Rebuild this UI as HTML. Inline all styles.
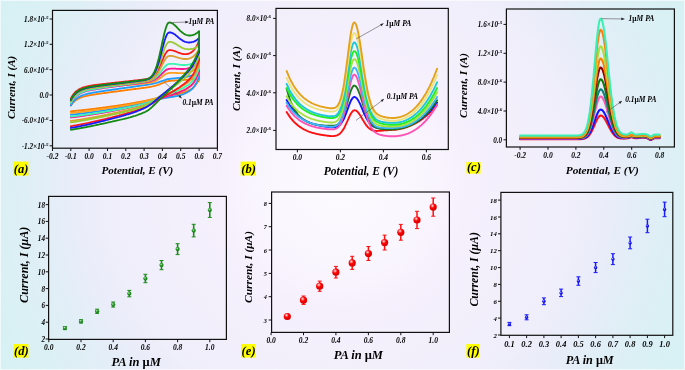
<!DOCTYPE html>
<html><head><meta charset="utf-8"><style>
html,body{margin:0;padding:0;}
body{width:685px;height:370px;overflow:hidden;position:relative;
background:radial-gradient(circle at 50% 50%, #fdfafe 0px, #faf6fe 80px, #f6f0fd 125px, #f3effb 170px, #f1effb 205px, #f0eefb 230px, #ecedfa 255px, #e2eef7 300px, #dbf0f5 340px, #d5f1f4 395px);}
.bd{position:absolute;left:0;top:0;width:683px;height:368px;border:1px solid rgba(255,255,255,0.6);}
</style></head><body><div class="bd"></div>
<svg width="685" height="370" viewBox="0 0 685 370" style="position:absolute;left:0;top:0;will-change:transform;font-family:'Liberation Serif',serif;font-weight:bold;font-style:italic">
<path d="M70.8,105.5 L71.6,104.5 L72.3,103.5 L73,102.7 L73.8,101.9 L74.5,101.3 L75.2,100.7 L75.9,100.1 L76.7,99.6 L77.4,99.2 L78.1,98.8 L78.9,98.4 L79.6,98.1 L80.3,97.7 L81.1,97.5 L81.8,97.2 L82.5,97 L83.3,96.7 L84,96.5 L84.7,96.3 L85.5,96.1 L86.2,96 L86.9,95.8 L87.7,95.6 L88.4,95.5 L89.1,95.4 L89.9,95.2 L90.6,95.1 L91.3,95 L92.1,94.8 L92.8,94.7 L93.5,94.6 L94.3,94.5 L95,94.4 L95.7,94.3 L96.5,94.1 L97.2,94 L97.9,93.9 L98.7,93.8 L99.4,93.7 L100.1,93.6 L100.9,93.5 L101.6,93.4 L102.3,93.3 L103.1,93.2 L103.8,93.1 L104.5,93 L105.3,92.9 L106,92.8 L106.7,92.7 L107.5,92.6 L108.2,92.5 L108.9,92.4 L109.7,92.3 L110.4,92.2 L111.1,92.1 L111.9,92 L112.6,91.9 L113.3,91.8 L114.1,91.7 L114.8,91.6 L115.5,91.5 L116.3,91.5 L117,91.4 L117.7,91.3 L118.5,91.2 L119.2,91.1 L119.9,91 L120.7,90.9 L121.4,90.8 L122.1,90.7 L122.8,90.6 L123.6,90.5 L124.3,90.4 L125,90.3 L125.8,90.2 L126.5,90.1 L127.2,90 L128,89.9 L128.7,89.8 L129.4,89.7 L130.2,89.6 L130.9,89.5 L131.6,89.4 L132.4,89.3 L133.1,89.2 L133.8,89.1 L134.6,89 L135.3,89 L136,88.9 L136.8,88.8 L137.5,88.7 L138.2,88.6 L139,88.5 L139.7,88.4 L140.4,88.3 L141.2,88.2 L141.9,88.1 L142.6,88 L143.4,87.9 L144.1,87.8 L144.8,87.7 L145.6,87.6 L146.3,87.5 L147,87.4 L147.8,87.3 L148.5,87.2 L149.2,87 L150,86.9 L150.7,86.8 L151.4,86.7 L152.2,86.5 L152.9,86.3 L153.6,86.2 L154.4,86 L155.1,85.8 L155.8,85.6 L156.6,85.4 L157.3,85.1 L158,84.9 L158.8,84.6 L159.5,84.3 L160.2,84 L161,83.7 L161.7,83.4 L162.4,83.1 L163.2,82.8 L163.9,82.5 L164.6,82.2 L165.4,81.9 L166.1,81.7 L166.8,81.4 L167.5,81.3 L168.3,81.1 L169,81 L169.7,80.9 L170.5,80.8 L171.2,80.7 L171.9,80.7 L172.7,80.6 L173.4,80.6 L174.1,80.5 L174.9,80.5 L175.6,80.4 L176.3,80.4 L177.1,80.3 L177.8,80.3 L178.5,80.3 L179.3,80.2 L180,80.2 L180.7,80.1 L181.5,80.1 L182.2,80.1 L182.9,80 L183.7,80 L184.4,79.9 L185.1,79.8 L185.9,79.8 L186.6,79.7 L187.3,79.6 L188.1,79.6 L188.8,79.5 L189.5,79.4 L190.3,79.4 L191,79.3 L191.7,79.2 L192.5,79.1 L193.2,79.1 L193.9,79 L194.7,78.9 L195.4,78.9 L196.1,78.8 L196.9,78.7 L197.6,78.7 L198.3,78.6 L199.1,78.6 L199.1,80.1 L198.3,81.2 L197.6,82.3 L196.9,83.3 L196.1,84.3 L195.4,85.2 L194.7,86.1 L193.9,86.9 L193.2,87.7 L192.5,88.3 L191.7,88.8 L191,89.2 L190.3,89.7 L189.5,90.1 L188.8,90.4 L188.1,90.8 L187.3,91.1 L186.6,91.4 L185.9,91.7 L185.1,92 L184.4,92.2 L183.7,92.4 L182.9,92.7 L182.2,92.9 L181.5,93.1 L180.7,93.3 L180,93.5 L179.3,93.7 L178.5,93.8 L177.8,94 L177.1,94.2 L176.3,94.3 L175.6,94.5 L174.9,94.6 L174.1,94.7 L173.4,94.9 L172.7,95 L171.9,95.1 L171.2,95.2 L170.5,95.4 L169.7,95.5 L169,95.6 L168.3,95.7 L167.5,95.9 L166.8,96 L166.1,96.1 L165.4,96.2 L164.6,96.4 L163.9,96.5 L163.2,96.7 L162.4,96.8 L161.7,97 L161,97.1 L160.2,97.3 L159.5,97.4 L158.8,97.6 L158,97.8 L157.3,98 L156.6,98.1 L155.8,98.3 L155.1,98.5 L154.4,98.7 L153.6,98.8 L152.9,99 L152.2,99.2 L151.4,99.4 L150.7,99.6 L150,99.7 L149.2,99.9 L148.5,100.1 L147.8,100.2 L147,100.4 L146.3,100.5 L145.6,100.7 L144.8,100.8 L144.1,101 L143.4,101.1 L142.6,101.3 L141.9,101.4 L141.2,101.5 L140.4,101.7 L139.7,101.8 L139,102 L138.2,102.1 L137.5,102.2 L136.8,102.4 L136,102.5 L135.3,102.6 L134.6,102.8 L133.8,102.9 L133.1,103 L132.4,103.2 L131.6,103.3 L130.9,103.4 L130.2,103.5 L129.4,103.7 L128.7,103.8 L128,103.9 L127.2,104 L126.5,104.2 L125.8,104.3 L125,104.4 L124.3,104.5 L123.6,104.6 L122.8,104.8 L122.1,104.9 L121.4,105 L120.7,105.1 L119.9,105.2 L119.2,105.3 L118.5,105.5 L117.7,105.6 L117,105.7 L116.3,105.8 L115.5,105.9 L114.8,106 L114.1,106.1 L113.3,106.2 L112.6,106.3 L111.9,106.4 L111.1,106.5 L110.4,106.6 L109.7,106.7 L108.9,106.8 L108.2,106.9 L107.5,107 L106.7,107.1 L106,107.2 L105.3,107.3 L104.5,107.4 L103.8,107.5 L103.1,107.6 L102.3,107.7 L101.6,107.8 L100.9,107.9 L100.1,108 L99.4,108.1 L98.7,108.2 L97.9,108.3 L97.2,108.4 L96.5,108.5 L95.7,108.6 L95,108.7 L94.3,108.8 L93.5,108.9 L92.8,108.9 L92.1,109 L91.3,109.1 L90.6,109.2 L89.9,109.3 L89.1,109.4 L88.4,109.5 L87.7,109.6 L86.9,109.6 L86.2,109.7 L85.5,109.8 L84.7,109.9 L84,110 L83.3,110 L82.5,110.1 L81.8,110.2 L81.1,110.3 L80.3,110.4 L79.6,110.4 L78.9,110.5 L78.1,110.6 L77.4,110.7 L76.7,110.7 L75.9,110.8 L75.2,110.9 L74.5,111 L73.8,111 L73,111.1 L72.3,111.2 L71.6,111.2 L70.8,111.3" fill="none" stroke="#ff7f00" stroke-width="1.8" stroke-linejoin="round" stroke-linecap="round"/>
<path d="M70.8,105.5 L71.6,104.2 L72.3,103.1 L73,102.1 L73.8,101.2 L74.5,100.4 L75.2,99.7 L75.9,99 L76.7,98.4 L77.4,97.9 L78.1,97.4 L78.9,97 L79.6,96.6 L80.3,96.2 L81.1,95.9 L81.8,95.6 L82.5,95.3 L83.3,95 L84,94.8 L84.7,94.5 L85.5,94.3 L86.2,94.1 L86.9,93.9 L87.7,93.8 L88.4,93.6 L89.1,93.4 L89.9,93.3 L90.6,93.1 L91.3,93 L92.1,92.8 L92.8,92.7 L93.5,92.6 L94.3,92.5 L95,92.3 L95.7,92.2 L96.5,92.1 L97.2,92 L97.9,91.8 L98.7,91.7 L99.4,91.6 L100.1,91.5 L100.9,91.4 L101.6,91.3 L102.3,91.2 L103.1,91.1 L103.8,91 L104.5,90.8 L105.3,90.7 L106,90.6 L106.7,90.5 L107.5,90.4 L108.2,90.3 L108.9,90.2 L109.7,90.1 L110.4,90 L111.1,89.9 L111.9,89.8 L112.6,89.7 L113.3,89.6 L114.1,89.5 L114.8,89.4 L115.5,89.3 L116.3,89.2 L117,89.1 L117.7,88.9 L118.5,88.8 L119.2,88.7 L119.9,88.6 L120.7,88.5 L121.4,88.4 L122.1,88.3 L122.8,88.2 L123.6,88.1 L124.3,88 L125,87.9 L125.8,87.8 L126.5,87.7 L127.2,87.6 L128,87.5 L128.7,87.4 L129.4,87.3 L130.2,87.2 L130.9,87.1 L131.6,87 L132.4,86.9 L133.1,86.8 L133.8,86.7 L134.6,86.6 L135.3,86.4 L136,86.3 L136.8,86.2 L137.5,86.1 L138.2,86 L139,85.9 L139.7,85.8 L140.4,85.7 L141.2,85.6 L141.9,85.5 L142.6,85.4 L143.4,85.3 L144.1,85.2 L144.8,85.1 L145.6,85 L146.3,84.9 L147,84.8 L147.8,84.6 L148.5,84.5 L149.2,84.4 L150,84.3 L150.7,84.2 L151.4,84 L152.2,83.9 L152.9,83.7 L153.6,83.6 L154.4,83.4 L155.1,83.2 L155.8,83 L156.6,82.8 L157.3,82.6 L158,82.4 L158.8,82.1 L159.5,81.9 L160.2,81.6 L161,81.4 L161.7,81.1 L162.4,80.8 L163.2,80.6 L163.9,80.3 L164.6,80.1 L165.4,79.8 L166.1,79.6 L166.8,79.4 L167.5,79.2 L168.3,79.1 L169,79 L169.7,78.9 L170.5,78.8 L171.2,78.7 L171.9,78.6 L172.7,78.5 L173.4,78.4 L174.1,78.4 L174.9,78.3 L175.6,78.2 L176.3,78.1 L177.1,78.1 L177.8,78 L178.5,77.9 L179.3,77.8 L180,77.8 L180.7,77.7 L181.5,77.6 L182.2,77.5 L182.9,77.4 L183.7,77.3 L184.4,77.2 L185.1,77.1 L185.9,76.9 L186.6,76.8 L187.3,76.6 L188.1,76.5 L188.8,76.3 L189.5,76.1 L190.3,75.9 L191,75.7 L191.7,75.5 L192.5,75.2 L193.2,74.9 L193.9,74.6 L194.7,74.3 L195.4,73.9 L196.1,73.5 L196.9,73 L197.6,72.5 L198.3,71.9 L199.1,71.3 L199.1,77.5 L198.3,79 L197.6,80.4 L196.9,81.9 L196.1,83.2 L195.4,84.5 L194.7,85.7 L193.9,86.8 L193.2,87.7 L192.5,88.6 L191.7,89.3 L191,89.8 L190.3,90.4 L189.5,90.9 L188.8,91.4 L188.1,91.8 L187.3,92.3 L186.6,92.7 L185.9,93 L185.1,93.4 L184.4,93.7 L183.7,94 L182.9,94.3 L182.2,94.5 L181.5,94.8 L180.7,95 L180,95.2 L179.3,95.4 L178.5,95.6 L177.8,95.8 L177.1,95.9 L176.3,96.1 L175.6,96.2 L174.9,96.4 L174.1,96.5 L173.4,96.6 L172.7,96.8 L171.9,96.9 L171.2,97 L170.5,97.1 L169.7,97.2 L169,97.3 L168.3,97.5 L167.5,97.6 L166.8,97.7 L166.1,97.8 L165.4,97.9 L164.6,98.1 L163.9,98.2 L163.2,98.4 L162.4,98.5 L161.7,98.7 L161,98.8 L160.2,99 L159.5,99.1 L158.8,99.3 L158,99.5 L157.3,99.6 L156.6,99.8 L155.8,100 L155.1,100.2 L154.4,100.3 L153.6,100.5 L152.9,100.7 L152.2,100.9 L151.4,101 L150.7,101.2 L150,101.4 L149.2,101.6 L148.5,101.7 L147.8,101.9 L147,102.1 L146.3,102.2 L145.6,102.4 L144.8,102.5 L144.1,102.7 L143.4,102.9 L142.6,103 L141.9,103.2 L141.2,103.3 L140.4,103.5 L139.7,103.6 L139,103.8 L138.2,103.9 L137.5,104.1 L136.8,104.2 L136,104.4 L135.3,104.6 L134.6,104.7 L133.8,104.9 L133.1,105 L132.4,105.2 L131.6,105.3 L130.9,105.5 L130.2,105.6 L129.4,105.8 L128.7,105.9 L128,106.1 L127.2,106.2 L126.5,106.4 L125.8,106.5 L125,106.6 L124.3,106.8 L123.6,106.9 L122.8,107.1 L122.1,107.2 L121.4,107.4 L120.7,107.5 L119.9,107.6 L119.2,107.8 L118.5,107.9 L117.7,108 L117,108.2 L116.3,108.3 L115.5,108.4 L114.8,108.6 L114.1,108.7 L113.3,108.8 L112.6,109 L111.9,109.1 L111.1,109.2 L110.4,109.3 L109.7,109.5 L108.9,109.6 L108.2,109.7 L107.5,109.8 L106.7,109.9 L106,110.1 L105.3,110.2 L104.5,110.3 L103.8,110.4 L103.1,110.5 L102.3,110.6 L101.6,110.7 L100.9,110.9 L100.1,111 L99.4,111.1 L98.7,111.2 L97.9,111.3 L97.2,111.4 L96.5,111.5 L95.7,111.6 L95,111.7 L94.3,111.8 L93.5,111.9 L92.8,112 L92.1,112.1 L91.3,112.2 L90.6,112.4 L89.9,112.5 L89.1,112.6 L88.4,112.7 L87.7,112.8 L86.9,112.9 L86.2,112.9 L85.5,113 L84.7,113.1 L84,113.2 L83.3,113.3 L82.5,113.4 L81.8,113.5 L81.1,113.6 L80.3,113.7 L79.6,113.8 L78.9,113.9 L78.1,114 L77.4,114.1 L76.7,114.1 L75.9,114.2 L75.2,114.3 L74.5,114.4 L73.8,114.5 L73,114.6 L72.3,114.6 L71.6,114.7 L70.8,114.8" fill="none" stroke="#1e9bff" stroke-width="1.8" stroke-linejoin="round" stroke-linecap="round"/>
<path d="M70.8,101.2 L71.6,99.8 L72.3,98.6 L73,97.5 L73.8,96.6 L74.5,95.7 L75.2,95 L75.9,94.3 L76.7,93.7 L77.4,93.1 L78.1,92.7 L78.9,92.2 L79.6,91.8 L80.3,91.5 L81.1,91.1 L81.8,90.9 L82.5,90.6 L83.3,90.3 L84,90.1 L84.7,89.9 L85.5,89.7 L86.2,89.6 L86.9,89.4 L87.7,89.3 L88.4,89.1 L89.1,89 L89.9,88.9 L90.6,88.7 L91.3,88.6 L92.1,88.5 L92.8,88.4 L93.5,88.3 L94.3,88.2 L95,88.1 L95.7,88.1 L96.5,88 L97.2,87.9 L97.9,87.8 L98.7,87.7 L99.4,87.7 L100.1,87.6 L100.9,87.5 L101.6,87.4 L102.3,87.4 L103.1,87.3 L103.8,87.2 L104.5,87.1 L105.3,87.1 L106,87 L106.7,86.9 L107.5,86.9 L108.2,86.8 L108.9,86.7 L109.7,86.6 L110.4,86.6 L111.1,86.5 L111.9,86.4 L112.6,86.4 L113.3,86.3 L114.1,86.2 L114.8,86.2 L115.5,86.1 L116.3,86 L117,86 L117.7,85.9 L118.5,85.8 L119.2,85.8 L119.9,85.7 L120.7,85.6 L121.4,85.6 L122.1,85.5 L122.8,85.4 L123.6,85.4 L124.3,85.3 L125,85.2 L125.8,85.2 L126.5,85.1 L127.2,85 L128,85 L128.7,84.9 L129.4,84.8 L130.2,84.8 L130.9,84.7 L131.6,84.6 L132.4,84.6 L133.1,84.5 L133.8,84.4 L134.6,84.4 L135.3,84.3 L136,84.2 L136.8,84.2 L137.5,84.1 L138.2,84 L139,84 L139.7,83.9 L140.4,83.8 L141.2,83.8 L141.9,83.7 L142.6,83.6 L143.4,83.6 L144.1,83.5 L144.8,83.4 L145.6,83.3 L146.3,83.2 L147,83.1 L147.8,83.1 L148.5,82.9 L149.2,82.8 L150,82.7 L150.7,82.6 L151.4,82.4 L152.2,82.2 L152.9,82 L153.6,81.8 L154.4,81.5 L155.1,81.2 L155.8,80.9 L156.6,80.5 L157.3,80.1 L158,79.6 L158.8,79.1 L159.5,78.6 L160.2,78.1 L161,77.5 L161.7,76.9 L162.4,76.4 L163.2,75.8 L163.9,75.3 L164.6,74.8 L165.4,74.3 L166.1,73.9 L166.8,73.5 L167.5,73.3 L168.3,73.1 L169,73 L169.7,72.9 L170.5,72.9 L171.2,72.8 L171.9,72.8 L172.7,72.8 L173.4,72.8 L174.1,72.9 L174.9,72.9 L175.6,72.9 L176.3,73 L177.1,73 L177.8,73.1 L178.5,73.1 L179.3,73.1 L180,73.2 L180.7,73.2 L181.5,73.2 L182.2,73.2 L182.9,73.2 L183.7,73.1 L184.4,73.1 L185.1,73 L185.9,72.9 L186.6,72.8 L187.3,72.7 L188.1,72.6 L188.8,72.4 L189.5,72.2 L190.3,71.9 L191,71.7 L191.7,71.3 L192.5,71 L193.2,70.6 L193.9,70.1 L194.7,69.6 L195.4,69 L196.1,68.4 L196.9,67.7 L197.6,66.8 L198.3,65.9 L199.1,64.8 L199.1,72.6 L198.3,74.1 L197.6,75.6 L196.9,77.1 L196.1,78.5 L195.4,79.9 L194.7,81.1 L193.9,82.3 L193.2,83.3 L192.5,84.2 L191.7,84.9 L191,85.5 L190.3,86.1 L189.5,86.7 L188.8,87.2 L188.1,87.7 L187.3,88.1 L186.6,88.6 L185.9,89 L185.1,89.3 L184.4,89.7 L183.7,90 L182.9,90.4 L182.2,90.7 L181.5,91 L180.7,91.2 L180,91.5 L179.3,91.8 L178.5,92 L177.8,92.3 L177.1,92.5 L176.3,92.7 L175.6,92.9 L174.9,93.1 L174.1,93.3 L173.4,93.5 L172.7,93.7 L171.9,93.9 L171.2,94.1 L170.5,94.3 L169.7,94.4 L169,94.6 L168.3,94.8 L167.5,95 L166.8,95.2 L166.1,95.3 L165.4,95.5 L164.6,95.7 L163.9,95.9 L163.2,96.1 L162.4,96.3 L161.7,96.5 L161,96.7 L160.2,97 L159.5,97.2 L158.8,97.4 L158,97.6 L157.3,97.9 L156.6,98.1 L155.8,98.3 L155.1,98.6 L154.4,98.8 L153.6,99.1 L152.9,99.3 L152.2,99.5 L151.4,99.7 L150.7,100 L150,100.2 L149.2,100.4 L148.5,100.6 L147.8,100.8 L147,101 L146.3,101.2 L145.6,101.4 L144.8,101.5 L144.1,101.7 L143.4,101.9 L142.6,102 L141.9,102.2 L141.2,102.4 L140.4,102.5 L139.7,102.7 L139,102.8 L138.2,103 L137.5,103.2 L136.8,103.3 L136,103.5 L135.3,103.6 L134.6,103.7 L133.8,103.9 L133.1,104 L132.4,104.2 L131.6,104.3 L130.9,104.5 L130.2,104.6 L129.4,104.7 L128.7,104.9 L128,105 L127.2,105.1 L126.5,105.3 L125.8,105.4 L125,105.5 L124.3,105.7 L123.6,105.8 L122.8,105.9 L122.1,106 L121.4,106.2 L120.7,106.3 L119.9,106.4 L119.2,106.5 L118.5,106.6 L117.7,106.8 L117,106.9 L116.3,107 L115.5,107.1 L114.8,107.2 L114.1,107.3 L113.3,107.5 L112.6,107.6 L111.9,107.7 L111.1,107.8 L110.4,107.9 L109.7,108 L108.9,108.1 L108.2,108.2 L107.5,108.3 L106.7,108.5 L106,108.6 L105.3,108.7 L104.5,108.8 L103.8,108.9 L103.1,109 L102.3,109.1 L101.6,109.2 L100.9,109.3 L100.1,109.4 L99.4,109.5 L98.7,109.6 L97.9,109.7 L97.2,109.8 L96.5,109.9 L95.7,110 L95,110.1 L94.3,110.2 L93.5,110.3 L92.8,110.4 L92.1,110.5 L91.3,110.6 L90.6,110.7 L89.9,110.8 L89.1,110.9 L88.4,111 L87.7,111.1 L86.9,111.2 L86.2,111.3 L85.5,111.4 L84.7,111.5 L84,111.5 L83.3,111.6 L82.5,111.7 L81.8,111.8 L81.1,111.9 L80.3,112 L79.6,112.1 L78.9,112.1 L78.1,112.2 L77.4,112.3 L76.7,112.4 L75.9,112.5 L75.2,112.5 L74.5,112.6 L73.8,112.7 L73,112.8 L72.3,112.9 L71.6,112.9 L70.8,113" fill="none" stroke="#ffa020" stroke-width="1.8" stroke-linejoin="round" stroke-linecap="round"/>
<path d="M70.8,103.5 L71.6,102.1 L72.3,100.9 L73,99.8 L73.8,98.8 L74.5,97.9 L75.2,97.1 L75.9,96.4 L76.7,95.7 L77.4,95.2 L78.1,94.7 L78.9,94.2 L79.6,93.8 L80.3,93.4 L81.1,93 L81.8,92.7 L82.5,92.4 L83.3,92.1 L84,91.9 L84.7,91.6 L85.5,91.4 L86.2,91.2 L86.9,91 L87.7,90.8 L88.4,90.6 L89.1,90.5 L89.9,90.3 L90.6,90.2 L91.3,90 L92.1,89.9 L92.8,89.8 L93.5,89.6 L94.3,89.5 L95,89.4 L95.7,89.3 L96.5,89.1 L97.2,89 L97.9,88.9 L98.7,88.8 L99.4,88.7 L100.1,88.6 L100.9,88.5 L101.6,88.4 L102.3,88.3 L103.1,88.1 L103.8,88 L104.5,87.9 L105.3,87.8 L106,87.7 L106.7,87.6 L107.5,87.5 L108.2,87.4 L108.9,87.3 L109.7,87.2 L110.4,87.1 L111.1,87 L111.9,86.9 L112.6,86.8 L113.3,86.7 L114.1,86.6 L114.8,86.5 L115.5,86.4 L116.3,86.3 L117,86.2 L117.7,86.1 L118.5,86 L119.2,85.9 L119.9,85.8 L120.7,85.7 L121.4,85.6 L122.1,85.5 L122.8,85.4 L123.6,85.3 L124.3,85.2 L125,85.1 L125.8,85 L126.5,84.9 L127.2,84.8 L128,84.7 L128.7,84.6 L129.4,84.5 L130.2,84.4 L130.9,84.3 L131.6,84.2 L132.4,84.1 L133.1,84 L133.8,83.9 L134.6,83.8 L135.3,83.7 L136,83.6 L136.8,83.5 L137.5,83.4 L138.2,83.3 L139,83.2 L139.7,83.1 L140.4,83 L141.2,82.9 L141.9,82.8 L142.6,82.7 L143.4,82.6 L144.1,82.5 L144.8,82.4 L145.6,82.2 L146.3,82.1 L147,82 L147.8,81.9 L148.5,81.7 L149.2,81.6 L150,81.4 L150.7,81.2 L151.4,81 L152.2,80.7 L152.9,80.4 L153.6,80.1 L154.4,79.8 L155.1,79.4 L155.8,78.9 L156.6,78.5 L157.3,77.9 L158,77.4 L158.8,76.7 L159.5,76.1 L160.2,75.4 L161,74.7 L161.7,74 L162.4,73.2 L163.2,72.5 L163.9,71.8 L164.6,71.2 L165.4,70.6 L166.1,70.1 L166.8,69.6 L167.5,69.3 L168.3,69 L169,68.9 L169.7,68.8 L170.5,68.7 L171.2,68.7 L171.9,68.6 L172.7,68.6 L173.4,68.6 L174.1,68.6 L174.9,68.7 L175.6,68.7 L176.3,68.8 L177.1,68.8 L177.8,68.8 L178.5,68.9 L179.3,68.9 L180,69 L180.7,69 L181.5,69 L182.2,69 L182.9,69 L183.7,69 L184.4,68.9 L185.1,68.8 L185.9,68.8 L186.6,68.7 L187.3,68.5 L188.1,68.4 L188.8,68.2 L189.5,68 L190.3,67.8 L191,67.5 L191.7,67.2 L192.5,66.9 L193.2,66.6 L193.9,66.2 L194.7,65.7 L195.4,65.2 L196.1,64.6 L196.9,64 L197.6,63.3 L198.3,62.5 L199.1,61.6 L199.1,72.2 L198.3,73.8 L197.6,75.3 L196.9,76.9 L196.1,78.3 L195.4,79.7 L194.7,81 L193.9,82.2 L193.2,83.2 L192.5,84.1 L191.7,84.9 L191,85.6 L190.3,86.2 L189.5,86.8 L188.8,87.3 L188.1,87.8 L187.3,88.3 L186.6,88.8 L185.9,89.2 L185.1,89.6 L184.4,90 L183.7,90.3 L182.9,90.7 L182.2,91 L181.5,91.3 L180.7,91.7 L180,92 L179.3,92.3 L178.5,92.6 L177.8,92.9 L177.1,93.1 L176.3,93.4 L175.6,93.7 L174.9,93.9 L174.1,94.2 L173.4,94.4 L172.7,94.6 L171.9,94.9 L171.2,95.1 L170.5,95.3 L169.7,95.5 L169,95.7 L168.3,96 L167.5,96.2 L166.8,96.4 L166.1,96.6 L165.4,96.8 L164.6,97.1 L163.9,97.3 L163.2,97.5 L162.4,97.8 L161.7,98 L161,98.3 L160.2,98.6 L159.5,98.8 L158.8,99.1 L158,99.4 L157.3,99.6 L156.6,99.9 L155.8,100.2 L155.1,100.4 L154.4,100.7 L153.6,101 L152.9,101.2 L152.2,101.5 L151.4,101.8 L150.7,102 L150,102.3 L149.2,102.5 L148.5,102.8 L147.8,103 L147,103.2 L146.3,103.4 L145.6,103.6 L144.8,103.9 L144.1,104 L143.4,104.2 L142.6,104.4 L141.9,104.6 L141.2,104.8 L140.4,105 L139.7,105.2 L139,105.4 L138.2,105.6 L137.5,105.8 L136.8,105.9 L136,106.1 L135.3,106.3 L134.6,106.5 L133.8,106.6 L133.1,106.8 L132.4,107 L131.6,107.1 L130.9,107.3 L130.2,107.5 L129.4,107.6 L128.7,107.8 L128,108 L127.2,108.1 L126.5,108.3 L125.8,108.4 L125,108.6 L124.3,108.7 L123.6,108.9 L122.8,109 L122.1,109.2 L121.4,109.3 L120.7,109.5 L119.9,109.6 L119.2,109.8 L118.5,109.9 L117.7,110.1 L117,110.2 L116.3,110.3 L115.5,110.5 L114.8,110.6 L114.1,110.7 L113.3,110.9 L112.6,111 L111.9,111.2 L111.1,111.3 L110.4,111.4 L109.7,111.6 L108.9,111.7 L108.2,111.8 L107.5,112 L106.7,112.1 L106,112.2 L105.3,112.3 L104.5,112.5 L103.8,112.6 L103.1,112.7 L102.3,112.9 L101.6,113 L100.9,113.1 L100.1,113.2 L99.4,113.3 L98.7,113.5 L97.9,113.6 L97.2,113.7 L96.5,113.8 L95.7,114 L95,114.1 L94.3,114.2 L93.5,114.3 L92.8,114.4 L92.1,114.5 L91.3,114.7 L90.6,114.8 L89.9,114.9 L89.1,115 L88.4,115.1 L87.7,115.2 L86.9,115.3 L86.2,115.4 L85.5,115.5 L84.7,115.7 L84,115.8 L83.3,115.9 L82.5,116 L81.8,116.1 L81.1,116.2 L80.3,116.3 L79.6,116.4 L78.9,116.5 L78.1,116.6 L77.4,116.7 L76.7,116.8 L75.9,116.9 L75.2,117 L74.5,117.1 L73.8,117.1 L73,117.2 L72.3,117.3 L71.6,117.4 L70.8,117.5" fill="none" stroke="#ff1493" stroke-width="1.8" stroke-linejoin="round" stroke-linecap="round"/>
<path d="M70.8,103.1 L71.6,101.7 L72.3,100.4 L73,99.3 L73.8,98.3 L74.5,97.4 L75.2,96.6 L75.9,95.9 L76.7,95.3 L77.4,94.7 L78.1,94.2 L78.9,93.7 L79.6,93.3 L80.3,92.9 L81.1,92.5 L81.8,92.2 L82.5,91.9 L83.3,91.6 L84,91.4 L84.7,91.1 L85.5,90.9 L86.2,90.7 L86.9,90.5 L87.7,90.3 L88.4,90.2 L89.1,90 L89.9,89.8 L90.6,89.7 L91.3,89.5 L92.1,89.4 L92.8,89.2 L93.5,89.1 L94.3,89 L95,88.9 L95.7,88.7 L96.5,88.6 L97.2,88.5 L97.9,88.4 L98.7,88.3 L99.4,88.1 L100.1,88 L100.9,87.9 L101.6,87.8 L102.3,87.7 L103.1,87.6 L103.8,87.5 L104.5,87.4 L105.3,87.3 L106,87.2 L106.7,87.1 L107.5,87 L108.2,86.8 L108.9,86.7 L109.7,86.6 L110.4,86.5 L111.1,86.4 L111.9,86.3 L112.6,86.2 L113.3,86.1 L114.1,86 L114.8,85.9 L115.5,85.8 L116.3,85.7 L117,85.6 L117.7,85.5 L118.5,85.4 L119.2,85.3 L119.9,85.2 L120.7,85.1 L121.4,85 L122.1,84.9 L122.8,84.8 L123.6,84.7 L124.3,84.6 L125,84.5 L125.8,84.4 L126.5,84.3 L127.2,84.2 L128,84.1 L128.7,84 L129.4,83.9 L130.2,83.8 L130.9,83.6 L131.6,83.5 L132.4,83.4 L133.1,83.3 L133.8,83.2 L134.6,83.1 L135.3,83 L136,82.9 L136.8,82.8 L137.5,82.7 L138.2,82.6 L139,82.5 L139.7,82.4 L140.4,82.3 L141.2,82.2 L141.9,82.1 L142.6,82 L143.4,81.9 L144.1,81.8 L144.8,81.6 L145.6,81.5 L146.3,81.4 L147,81.2 L147.8,81.1 L148.5,80.9 L149.2,80.7 L150,80.5 L150.7,80.3 L151.4,80 L152.2,79.7 L152.9,79.4 L153.6,79 L154.4,78.5 L155.1,78 L155.8,77.4 L156.6,76.8 L157.3,76.1 L158,75.3 L158.8,74.5 L159.5,73.6 L160.2,72.7 L161,71.7 L161.7,70.7 L162.4,69.8 L163.2,68.8 L163.9,67.9 L164.6,67 L165.4,66.2 L166.1,65.5 L166.8,64.9 L167.5,64.5 L168.3,64.2 L169,64 L169.7,63.9 L170.5,63.8 L171.2,63.8 L171.9,63.8 L172.7,63.8 L173.4,63.9 L174.1,63.9 L174.9,64 L175.6,64.1 L176.3,64.2 L177.1,64.3 L177.8,64.4 L178.5,64.6 L179.3,64.7 L180,64.8 L180.7,64.8 L181.5,64.9 L182.2,65 L182.9,65 L183.7,65 L184.4,65 L185.1,65 L185.9,64.9 L186.6,64.9 L187.3,64.8 L188.1,64.7 L188.8,64.5 L189.5,64.3 L190.3,64.1 L191,63.9 L191.7,63.7 L192.5,63.4 L193.2,63 L193.9,62.7 L194.7,62.2 L195.4,61.8 L196.1,61.2 L196.9,60.7 L197.6,60 L198.3,59.2 L199.1,58.4 L199.1,68.7 L198.3,70.3 L197.6,71.9 L196.9,73.5 L196.1,75 L195.4,76.4 L194.7,77.8 L193.9,79 L193.2,80.1 L192.5,81.1 L191.7,81.9 L191,82.6 L190.3,83.2 L189.5,83.9 L188.8,84.4 L188.1,85 L187.3,85.5 L186.6,85.9 L185.9,86.4 L185.1,86.8 L184.4,87.2 L183.7,87.6 L182.9,88 L182.2,88.4 L181.5,88.7 L180.7,89.1 L180,89.5 L179.3,89.8 L178.5,90.2 L177.8,90.5 L177.1,90.8 L176.3,91.2 L175.6,91.5 L174.9,91.8 L174.1,92.1 L173.4,92.4 L172.7,92.6 L171.9,92.9 L171.2,93.2 L170.5,93.5 L169.7,93.7 L169,94 L168.3,94.3 L167.5,94.6 L166.8,94.8 L166.1,95.1 L165.4,95.4 L164.6,95.7 L163.9,95.9 L163.2,96.2 L162.4,96.5 L161.7,96.8 L161,97.1 L160.2,97.4 L159.5,97.7 L158.8,98.1 L158,98.4 L157.3,98.7 L156.6,99 L155.8,99.4 L155.1,99.7 L154.4,100 L153.6,100.3 L152.9,100.6 L152.2,100.9 L151.4,101.2 L150.7,101.5 L150,101.8 L149.2,102.1 L148.5,102.4 L147.8,102.6 L147,102.9 L146.3,103.1 L145.6,103.3 L144.8,103.6 L144.1,103.8 L143.4,104 L142.6,104.2 L141.9,104.4 L141.2,104.6 L140.4,104.7 L139.7,104.9 L139,105.1 L138.2,105.3 L137.5,105.5 L136.8,105.7 L136,105.8 L135.3,106 L134.6,106.2 L133.8,106.3 L133.1,106.5 L132.4,106.7 L131.6,106.8 L130.9,107 L130.2,107.1 L129.4,107.3 L128.7,107.4 L128,107.6 L127.2,107.7 L126.5,107.9 L125.8,108 L125,108.2 L124.3,108.3 L123.6,108.4 L122.8,108.6 L122.1,108.7 L121.4,108.9 L120.7,109 L119.9,109.1 L119.2,109.3 L118.5,109.4 L117.7,109.5 L117,109.7 L116.3,109.8 L115.5,109.9 L114.8,110 L114.1,110.2 L113.3,110.3 L112.6,110.4 L111.9,110.5 L111.1,110.7 L110.4,110.8 L109.7,110.9 L108.9,111 L108.2,111.2 L107.5,111.3 L106.7,111.4 L106,111.5 L105.3,111.7 L104.5,111.8 L103.8,111.9 L103.1,112 L102.3,112.2 L101.6,112.3 L100.9,112.4 L100.1,112.5 L99.4,112.6 L98.7,112.7 L97.9,112.9 L97.2,113 L96.5,113.1 L95.7,113.2 L95,113.3 L94.3,113.4 L93.5,113.6 L92.8,113.7 L92.1,113.8 L91.3,113.9 L90.6,114 L89.9,114.1 L89.1,114.2 L88.4,114.3 L87.7,114.4 L86.9,114.5 L86.2,114.6 L85.5,114.7 L84.7,114.8 L84,114.9 L83.3,115 L82.5,115.1 L81.8,115.2 L81.1,115.3 L80.3,115.4 L79.6,115.5 L78.9,115.6 L78.1,115.7 L77.4,115.8 L76.7,115.9 L75.9,116 L75.2,116.1 L74.5,116.2 L73.8,116.3 L73,116.3 L72.3,116.4 L71.6,116.5 L70.8,116.6" fill="none" stroke="#3cf5b0" stroke-width="1.8" stroke-linejoin="round" stroke-linecap="round"/>
<path d="M70.8,101.4 L71.6,100.1 L72.3,98.8 L73,97.7 L73.8,96.7 L74.5,95.9 L75.2,95.1 L75.9,94.4 L76.7,93.8 L77.4,93.2 L78.1,92.7 L78.9,92.2 L79.6,91.8 L80.3,91.4 L81.1,91.1 L81.8,90.8 L82.5,90.5 L83.3,90.2 L84,90 L84.7,89.8 L85.5,89.5 L86.2,89.4 L86.9,89.2 L87.7,89 L88.4,88.8 L89.1,88.7 L89.9,88.5 L90.6,88.4 L91.3,88.3 L92.1,88.1 L92.8,88 L93.5,87.9 L94.3,87.8 L95,87.7 L95.7,87.6 L96.5,87.4 L97.2,87.3 L97.9,87.2 L98.7,87.1 L99.4,87 L100.1,86.9 L100.9,86.8 L101.6,86.7 L102.3,86.6 L103.1,86.5 L103.8,86.5 L104.5,86.4 L105.3,86.3 L106,86.2 L106.7,86.1 L107.5,86 L108.2,85.9 L108.9,85.8 L109.7,85.7 L110.4,85.6 L111.1,85.5 L111.9,85.4 L112.6,85.4 L113.3,85.3 L114.1,85.2 L114.8,85.1 L115.5,85 L116.3,84.9 L117,84.8 L117.7,84.7 L118.5,84.6 L119.2,84.5 L119.9,84.5 L120.7,84.4 L121.4,84.3 L122.1,84.2 L122.8,84.1 L123.6,84 L124.3,83.9 L125,83.8 L125.8,83.7 L126.5,83.6 L127.2,83.6 L128,83.5 L128.7,83.4 L129.4,83.3 L130.2,83.2 L130.9,83.1 L131.6,83 L132.4,82.9 L133.1,82.8 L133.8,82.8 L134.6,82.7 L135.3,82.6 L136,82.5 L136.8,82.4 L137.5,82.3 L138.2,82.2 L139,82.1 L139.7,82 L140.4,81.9 L141.2,81.8 L141.9,81.7 L142.6,81.6 L143.4,81.5 L144.1,81.4 L144.8,81.3 L145.6,81.2 L146.3,81.1 L147,80.9 L147.8,80.7 L148.5,80.6 L149.2,80.3 L150,80.1 L150.7,79.8 L151.4,79.4 L152.2,79 L152.9,78.5 L153.6,78 L154.4,77.3 L155.1,76.6 L155.8,75.8 L156.6,74.8 L157.3,73.8 L158,72.7 L158.8,71.4 L159.5,70.1 L160.2,68.8 L161,67.3 L161.7,65.9 L162.4,64.4 L163.2,63 L163.9,61.6 L164.6,60.3 L165.4,59.1 L166.1,58.1 L166.8,57.2 L167.5,56.6 L168.3,56.2 L169,56 L169.7,55.9 L170.5,55.9 L171.2,55.9 L171.9,56 L172.7,56.1 L173.4,56.2 L174.1,56.4 L174.9,56.6 L175.6,56.8 L176.3,57 L177.1,57.3 L177.8,57.5 L178.5,57.8 L179.3,58 L180,58.2 L180.7,58.4 L181.5,58.6 L182.2,58.7 L182.9,58.9 L183.7,59 L184.4,59 L185.1,59 L185.9,59 L186.6,59 L187.3,58.9 L188.1,58.8 L188.8,58.6 L189.5,58.4 L190.3,58.1 L191,57.8 L191.7,57.4 L192.5,57 L193.2,56.5 L193.9,55.9 L194.7,55.2 L195.4,54.5 L196.1,53.7 L196.9,52.7 L197.6,51.6 L198.3,50.4 L199.1,49 L199.1,64.9 L198.3,66.6 L197.6,68.3 L196.9,69.9 L196.1,71.5 L195.4,73 L194.7,74.3 L193.9,75.6 L193.2,76.8 L192.5,77.8 L191.7,78.7 L191,79.5 L190.3,80.2 L189.5,80.9 L188.8,81.5 L188.1,82.1 L187.3,82.7 L186.6,83.2 L185.9,83.7 L185.1,84.2 L184.4,84.7 L183.7,85.1 L182.9,85.6 L182.2,86 L181.5,86.5 L180.7,86.9 L180,87.4 L179.3,87.8 L178.5,88.3 L177.8,88.7 L177.1,89.1 L176.3,89.5 L175.6,89.9 L174.9,90.3 L174.1,90.7 L173.4,91 L172.7,91.4 L171.9,91.8 L171.2,92.1 L170.5,92.5 L169.7,92.9 L169,93.2 L168.3,93.6 L167.5,93.9 L166.8,94.3 L166.1,94.6 L165.4,95 L164.6,95.3 L163.9,95.7 L163.2,96.1 L162.4,96.4 L161.7,96.8 L161,97.2 L160.2,97.6 L159.5,98 L158.8,98.4 L158,98.7 L157.3,99.1 L156.6,99.5 L155.8,99.9 L155.1,100.3 L154.4,100.7 L153.6,101.1 L152.9,101.5 L152.2,101.9 L151.4,102.2 L150.7,102.6 L150,102.9 L149.2,103.3 L148.5,103.6 L147.8,103.9 L147,104.2 L146.3,104.5 L145.6,104.8 L144.8,105.1 L144.1,105.3 L143.4,105.6 L142.6,105.8 L141.9,106 L141.2,106.3 L140.4,106.5 L139.7,106.7 L139,107 L138.2,107.2 L137.5,107.4 L136.8,107.6 L136,107.8 L135.3,108.1 L134.6,108.3 L133.8,108.5 L133.1,108.7 L132.4,108.9 L131.6,109.1 L130.9,109.2 L130.2,109.4 L129.4,109.6 L128.7,109.8 L128,110 L127.2,110.2 L126.5,110.4 L125.8,110.5 L125,110.7 L124.3,110.9 L123.6,111 L122.8,111.2 L122.1,111.4 L121.4,111.5 L120.7,111.7 L119.9,111.9 L119.2,112 L118.5,112.2 L117.7,112.4 L117,112.5 L116.3,112.7 L115.5,112.8 L114.8,113 L114.1,113.1 L113.3,113.3 L112.6,113.5 L111.9,113.6 L111.1,113.8 L110.4,113.9 L109.7,114.1 L108.9,114.2 L108.2,114.4 L107.5,114.5 L106.7,114.7 L106,114.8 L105.3,115 L104.5,115.1 L103.8,115.3 L103.1,115.4 L102.3,115.6 L101.6,115.7 L100.9,115.9 L100.1,116 L99.4,116.2 L98.7,116.3 L97.9,116.4 L97.2,116.6 L96.5,116.7 L95.7,116.9 L95,117 L94.3,117.1 L93.5,117.3 L92.8,117.4 L92.1,117.5 L91.3,117.7 L90.6,117.8 L89.9,117.9 L89.1,118.1 L88.4,118.2 L87.7,118.3 L86.9,118.5 L86.2,118.6 L85.5,118.7 L84.7,118.8 L84,119 L83.3,119.1 L82.5,119.2 L81.8,119.3 L81.1,119.5 L80.3,119.6 L79.6,119.7 L78.9,119.8 L78.1,119.9 L77.4,120 L76.7,120.1 L75.9,120.3 L75.2,120.4 L74.5,120.5 L73.8,120.6 L73,120.7 L72.3,120.8 L71.6,120.9 L70.8,121" fill="none" stroke="#daa030" stroke-width="1.8" stroke-linejoin="round" stroke-linecap="round"/>
<path d="M70.8,98.5 L71.6,97.1 L72.3,95.9 L73,94.8 L73.8,93.9 L74.5,93 L75.2,92.2 L75.9,91.5 L76.7,90.9 L77.4,90.4 L78.1,89.9 L78.9,89.4 L79.6,89 L80.3,88.6 L81.1,88.3 L81.8,88 L82.5,87.7 L83.3,87.5 L84,87.2 L84.7,87 L85.5,86.8 L86.2,86.6 L86.9,86.4 L87.7,86.3 L88.4,86.1 L89.1,86 L89.9,85.8 L90.6,85.7 L91.3,85.6 L92.1,85.5 L92.8,85.4 L93.5,85.2 L94.3,85.1 L95,85 L95.7,84.9 L96.5,84.8 L97.2,84.7 L97.9,84.6 L98.7,84.6 L99.4,84.5 L100.1,84.4 L100.9,84.3 L101.6,84.2 L102.3,84.1 L103.1,84 L103.8,83.9 L104.5,83.9 L105.3,83.8 L106,83.7 L106.7,83.6 L107.5,83.5 L108.2,83.4 L108.9,83.4 L109.7,83.3 L110.4,83.2 L111.1,83.1 L111.9,83 L112.6,82.9 L113.3,82.9 L114.1,82.8 L114.8,82.7 L115.5,82.6 L116.3,82.5 L117,82.5 L117.7,82.4 L118.5,82.3 L119.2,82.2 L119.9,82.1 L120.7,82.1 L121.4,82 L122.1,81.9 L122.8,81.8 L123.6,81.7 L124.3,81.7 L125,81.6 L125.8,81.5 L126.5,81.4 L127.2,81.3 L128,81.3 L128.7,81.2 L129.4,81.1 L130.2,81 L130.9,80.9 L131.6,80.9 L132.4,80.8 L133.1,80.7 L133.8,80.6 L134.6,80.5 L135.3,80.5 L136,80.4 L136.8,80.3 L137.5,80.2 L138.2,80.1 L139,80.1 L139.7,80 L140.4,79.9 L141.2,79.8 L141.9,79.7 L142.6,79.6 L143.4,79.5 L144.1,79.4 L144.8,79.3 L145.6,79.2 L146.3,79.1 L147,78.9 L147.8,78.7 L148.5,78.5 L149.2,78.3 L150,78 L150.7,77.7 L151.4,77.3 L152.2,76.8 L152.9,76.3 L153.6,75.7 L154.4,74.9 L155.1,74.1 L155.8,73.1 L156.6,72.1 L157.3,70.9 L158,69.6 L158.8,68.1 L159.5,66.6 L160.2,65 L161,63.4 L161.7,61.7 L162.4,60 L163.2,58.3 L163.9,56.7 L164.6,55.2 L165.4,53.8 L166.1,52.7 L166.8,51.7 L167.5,50.9 L168.3,50.5 L169,50.2 L169.7,50.2 L170.5,50.2 L171.2,50.2 L171.9,50.3 L172.7,50.5 L173.4,50.7 L174.1,50.9 L174.9,51.2 L175.6,51.4 L176.3,51.7 L177.1,52 L177.8,52.4 L178.5,52.7 L179.3,52.9 L180,53.2 L180.7,53.5 L181.5,53.7 L182.2,53.9 L182.9,54 L183.7,54.1 L184.4,54.2 L185.1,54.2 L185.9,54.2 L186.6,54.1 L187.3,54 L188.1,53.9 L188.8,53.6 L189.5,53.3 L190.3,53 L191,52.5 L191.7,52 L192.5,51.5 L193.2,50.8 L193.9,50 L194.7,49.1 L195.4,48.1 L196.1,47 L196.9,45.6 L197.6,44.1 L198.3,42.4 L199.1,40.5 L199.1,60.5 L198.3,62.4 L197.6,64.4 L196.9,66.2 L196.1,68 L195.4,69.7 L194.7,71.3 L193.9,72.8 L193.2,74.2 L192.5,75.4 L191.7,76.4 L191,77.3 L190.3,78.2 L189.5,79 L188.8,79.8 L188.1,80.5 L187.3,81.2 L186.6,81.8 L185.9,82.5 L185.1,83.1 L184.4,83.6 L183.7,84.2 L182.9,84.7 L182.2,85.3 L181.5,85.8 L180.7,86.3 L180,86.9 L179.3,87.4 L178.5,87.9 L177.8,88.4 L177.1,88.8 L176.3,89.3 L175.6,89.8 L174.9,90.2 L174.1,90.7 L173.4,91.1 L172.7,91.5 L171.9,92 L171.2,92.4 L170.5,92.8 L169.7,93.2 L169,93.6 L168.3,94 L167.5,94.4 L166.8,94.8 L166.1,95.2 L165.4,95.6 L164.6,96.1 L163.9,96.5 L163.2,96.9 L162.4,97.3 L161.7,97.7 L161,98.2 L160.2,98.6 L159.5,99 L158.8,99.5 L158,99.9 L157.3,100.4 L156.6,100.8 L155.8,101.3 L155.1,101.7 L154.4,102.1 L153.6,102.6 L152.9,103 L152.2,103.4 L151.4,103.8 L150.7,104.2 L150,104.6 L149.2,105 L148.5,105.4 L147.8,105.8 L147,106.1 L146.3,106.5 L145.6,106.8 L144.8,107.1 L144.1,107.4 L143.4,107.7 L142.6,107.9 L141.9,108.2 L141.2,108.5 L140.4,108.8 L139.7,109.1 L139,109.3 L138.2,109.6 L137.5,109.9 L136.8,110.1 L136,110.4 L135.3,110.6 L134.6,110.9 L133.8,111.1 L133.1,111.3 L132.4,111.6 L131.6,111.8 L130.9,112 L130.2,112.3 L129.4,112.5 L128.7,112.7 L128,112.9 L127.2,113.2 L126.5,113.4 L125.8,113.6 L125,113.8 L124.3,114 L123.6,114.2 L122.8,114.4 L122.1,114.6 L121.4,114.8 L120.7,115 L119.9,115.2 L119.2,115.4 L118.5,115.6 L117.7,115.8 L117,116 L116.3,116.2 L115.5,116.4 L114.8,116.6 L114.1,116.8 L113.3,116.9 L112.6,117.1 L111.9,117.3 L111.1,117.5 L110.4,117.7 L109.7,117.9 L108.9,118.1 L108.2,118.2 L107.5,118.4 L106.7,118.6 L106,118.8 L105.3,119 L104.5,119.2 L103.8,119.3 L103.1,119.5 L102.3,119.7 L101.6,119.9 L100.9,120 L100.1,120.2 L99.4,120.4 L98.7,120.6 L97.9,120.7 L97.2,120.9 L96.5,121.1 L95.7,121.2 L95,121.4 L94.3,121.6 L93.5,121.7 L92.8,121.9 L92.1,122.1 L91.3,122.2 L90.6,122.4 L89.9,122.5 L89.1,122.7 L88.4,122.8 L87.7,123 L86.9,123.2 L86.2,123.3 L85.5,123.5 L84.7,123.6 L84,123.8 L83.3,123.9 L82.5,124.1 L81.8,124.2 L81.1,124.3 L80.3,124.5 L79.6,124.6 L78.9,124.8 L78.1,124.9 L77.4,125 L76.7,125.2 L75.9,125.3 L75.2,125.4 L74.5,125.6 L73.8,125.7 L73,125.8 L72.3,126 L71.6,126.1 L70.8,126.2" fill="none" stroke="#ff1a1a" stroke-width="1.8" stroke-linejoin="round" stroke-linecap="round"/>
<path d="M70.8,100.8 L71.6,99.4 L72.3,98.2 L73,97.1 L73.8,96.1 L74.5,95.3 L75.2,94.5 L75.9,93.8 L76.7,93.1 L77.4,92.6 L78.1,92.1 L78.9,91.6 L79.6,91.2 L80.3,90.8 L81.1,90.4 L81.8,90.1 L82.5,89.8 L83.3,89.6 L84,89.3 L84.7,89.1 L85.5,88.9 L86.2,88.7 L86.9,88.5 L87.7,88.3 L88.4,88.1 L89.1,88 L89.9,87.8 L90.6,87.7 L91.3,87.6 L92.1,87.4 L92.8,87.3 L93.5,87.2 L94.3,87 L95,86.9 L95.7,86.8 L96.5,86.7 L97.2,86.6 L97.9,86.5 L98.7,86.4 L99.4,86.3 L100.1,86.2 L100.9,86.1 L101.6,86 L102.3,85.9 L103.1,85.8 L103.8,85.7 L104.5,85.6 L105.3,85.5 L106,85.4 L106.7,85.3 L107.5,85.2 L108.2,85.1 L108.9,85 L109.7,84.9 L110.4,84.8 L111.1,84.7 L111.9,84.6 L112.6,84.5 L113.3,84.4 L114.1,84.3 L114.8,84.2 L115.5,84.1 L116.3,84.1 L117,84 L117.7,83.9 L118.5,83.8 L119.2,83.7 L119.9,83.6 L120.7,83.5 L121.4,83.4 L122.1,83.3 L122.8,83.2 L123.6,83.1 L124.3,83 L125,82.9 L125.8,82.8 L126.5,82.7 L127.2,82.6 L128,82.6 L128.7,82.5 L129.4,82.4 L130.2,82.3 L130.9,82.2 L131.6,82.1 L132.4,82 L133.1,81.9 L133.8,81.8 L134.6,81.7 L135.3,81.6 L136,81.5 L136.8,81.4 L137.5,81.3 L138.2,81.2 L139,81.1 L139.7,81 L140.4,81 L141.2,80.9 L141.9,80.7 L142.6,80.6 L143.4,80.5 L144.1,80.4 L144.8,80.3 L145.6,80.1 L146.3,80 L147,79.8 L147.8,79.5 L148.5,79.3 L149.2,79 L150,78.6 L150.7,78.2 L151.4,77.7 L152.2,77.1 L152.9,76.4 L153.6,75.6 L154.4,74.6 L155.1,73.5 L155.8,72.2 L156.6,70.8 L157.3,69.2 L158,67.5 L158.8,65.6 L159.5,63.6 L160.2,61.5 L161,59.3 L161.7,57 L162.4,54.8 L163.2,52.6 L163.9,50.5 L164.6,48.5 L165.4,46.7 L166.1,45.1 L166.8,43.9 L167.5,42.9 L168.3,42.3 L169,42 L169.7,41.9 L170.5,41.9 L171.2,42 L171.9,42.2 L172.7,42.4 L173.4,42.7 L174.1,43.1 L174.9,43.4 L175.6,43.9 L176.3,44.3 L177.1,44.8 L177.8,45.2 L178.5,45.7 L179.3,46.1 L180,46.6 L180.7,47 L181.5,47.4 L182.2,47.8 L182.9,48.1 L183.7,48.4 L184.4,48.6 L185.1,48.8 L185.9,49 L186.6,49.1 L187.3,49.2 L188.1,49.2 L188.8,49.3 L189.5,49.2 L190.3,49.2 L191,49.1 L191.7,48.9 L192.5,48.8 L193.2,48.6 L193.9,48.3 L194.7,48.1 L195.4,47.7 L196.1,47.4 L196.9,47 L197.6,46.5 L198.3,46 L199.1,45.4 L199.1,56.5 L198.3,58.2 L197.6,59.9 L196.9,61.5 L196.1,63.1 L195.4,64.6 L194.7,66.1 L193.9,67.4 L193.2,68.7 L192.5,69.8 L191.7,70.8 L191,71.8 L190.3,72.7 L189.5,73.5 L188.8,74.3 L188.1,75 L187.3,75.7 L186.6,76.4 L185.9,77.1 L185.1,77.7 L184.4,78.3 L183.7,78.9 L182.9,79.5 L182.2,80.1 L181.5,80.7 L180.7,81.3 L180,81.9 L179.3,82.5 L178.5,83.1 L177.8,83.7 L177.1,84.2 L176.3,84.8 L175.6,85.3 L174.9,85.9 L174.1,86.4 L173.4,86.9 L172.7,87.4 L171.9,88 L171.2,88.5 L170.5,89 L169.7,89.5 L169,90 L168.3,90.5 L167.5,91 L166.8,91.5 L166.1,92 L165.4,92.5 L164.6,93 L163.9,93.5 L163.2,94 L162.4,94.5 L161.7,95 L161,95.5 L160.2,96 L159.5,96.5 L158.8,97.1 L158,97.6 L157.3,98.1 L156.6,98.7 L155.8,99.2 L155.1,99.8 L154.4,100.3 L153.6,100.8 L152.9,101.3 L152.2,101.8 L151.4,102.3 L150.7,102.8 L150,103.3 L149.2,103.7 L148.5,104.1 L147.8,104.5 L147,104.9 L146.3,105.2 L145.6,105.6 L144.8,105.9 L144.1,106.2 L143.4,106.4 L142.6,106.7 L141.9,107 L141.2,107.2 L140.4,107.5 L139.7,107.7 L139,108 L138.2,108.2 L137.5,108.5 L136.8,108.7 L136,108.9 L135.3,109.1 L134.6,109.4 L133.8,109.6 L133.1,109.8 L132.4,110 L131.6,110.2 L130.9,110.4 L130.2,110.6 L129.4,110.8 L128.7,111 L128,111.2 L127.2,111.3 L126.5,111.5 L125.8,111.7 L125,111.9 L124.3,112 L123.6,112.2 L122.8,112.4 L122.1,112.5 L121.4,112.7 L120.7,112.9 L119.9,113 L119.2,113.2 L118.5,113.3 L117.7,113.5 L117,113.7 L116.3,113.8 L115.5,114 L114.8,114.1 L114.1,114.3 L113.3,114.4 L112.6,114.6 L111.9,114.7 L111.1,114.9 L110.4,115.1 L109.7,115.2 L108.9,115.4 L108.2,115.5 L107.5,115.7 L106.7,115.8 L106,116 L105.3,116.1 L104.5,116.3 L103.8,116.5 L103.1,116.6 L102.3,116.8 L101.6,116.9 L100.9,117.1 L100.1,117.2 L99.4,117.4 L98.7,117.5 L97.9,117.7 L97.2,117.8 L96.5,118 L95.7,118.1 L95,118.2 L94.3,118.4 L93.5,118.5 L92.8,118.7 L92.1,118.8 L91.3,119 L90.6,119.1 L89.9,119.2 L89.1,119.4 L88.4,119.5 L87.7,119.6 L86.9,119.8 L86.2,119.9 L85.5,120 L84.7,120.2 L84,120.3 L83.3,120.4 L82.5,120.5 L81.8,120.7 L81.1,120.8 L80.3,120.9 L79.6,121 L78.9,121.2 L78.1,121.3 L77.4,121.4 L76.7,121.5 L75.9,121.6 L75.2,121.7 L74.5,121.9 L73.8,122 L73,122.1 L72.3,122.2 L71.6,122.3 L70.8,122.4" fill="none" stroke="#9acd32" stroke-width="1.8" stroke-linejoin="round" stroke-linecap="round"/>
<path d="M70.8,100.2 L71.6,98.9 L72.3,97.6 L73,96.5 L73.8,95.5 L74.5,94.7 L75.2,93.9 L75.9,93.2 L76.7,92.6 L77.4,92 L78.1,91.5 L78.9,91 L79.6,90.6 L80.3,90.2 L81.1,89.9 L81.8,89.6 L82.5,89.3 L83.3,89 L84,88.8 L84.7,88.6 L85.5,88.3 L86.2,88.2 L86.9,88 L87.7,87.8 L88.4,87.6 L89.1,87.5 L89.9,87.3 L90.6,87.2 L91.3,87.1 L92.1,86.9 L92.8,86.8 L93.5,86.7 L94.3,86.6 L95,86.5 L95.7,86.4 L96.5,86.2 L97.2,86.1 L97.9,86 L98.7,85.9 L99.4,85.8 L100.1,85.7 L100.9,85.6 L101.6,85.5 L102.3,85.4 L103.1,85.3 L103.8,85.3 L104.5,85.2 L105.3,85.1 L106,85 L106.7,84.9 L107.5,84.8 L108.2,84.7 L108.9,84.6 L109.7,84.5 L110.4,84.4 L111.1,84.3 L111.9,84.2 L112.6,84.2 L113.3,84.1 L114.1,84 L114.8,83.9 L115.5,83.8 L116.3,83.7 L117,83.6 L117.7,83.5 L118.5,83.4 L119.2,83.3 L119.9,83.3 L120.7,83.2 L121.4,83.1 L122.1,83 L122.8,82.9 L123.6,82.8 L124.3,82.7 L125,82.6 L125.8,82.5 L126.5,82.4 L127.2,82.4 L128,82.3 L128.7,82.2 L129.4,82.1 L130.2,82 L130.9,81.9 L131.6,81.8 L132.4,81.7 L133.1,81.6 L133.8,81.6 L134.6,81.5 L135.3,81.4 L136,81.3 L136.8,81.2 L137.5,81.1 L138.2,81 L139,80.9 L139.7,80.8 L140.4,80.7 L141.2,80.6 L141.9,80.5 L142.6,80.4 L143.4,80.3 L144.1,80.2 L144.8,80 L145.6,79.9 L146.3,79.7 L147,79.5 L147.8,79.2 L148.5,78.9 L149.2,78.6 L150,78.2 L150.7,77.7 L151.4,77 L152.2,76.3 L152.9,75.4 L153.6,74.4 L154.4,73.2 L155.1,71.9 L155.8,70.3 L156.6,68.5 L157.3,66.6 L158,64.4 L158.8,62 L159.5,59.5 L160.2,56.9 L161,54.1 L161.7,51.3 L162.4,48.5 L163.2,45.7 L163.9,43 L164.6,40.5 L165.4,38.3 L166.1,36.4 L166.8,34.8 L167.5,33.6 L168.3,32.8 L169,32.5 L169.7,32.4 L170.5,32.5 L171.2,32.6 L171.9,32.9 L172.7,33.2 L173.4,33.6 L174.1,34.1 L174.9,34.6 L175.6,35.1 L176.3,35.7 L177.1,36.3 L177.8,36.9 L178.5,37.6 L179.3,38.2 L180,38.8 L180.7,39.3 L181.5,39.8 L182.2,40.3 L182.9,40.8 L183.7,41.1 L184.4,41.5 L185.1,41.8 L185.9,42 L186.6,42.2 L187.3,42.3 L188.1,42.4 L188.8,42.5 L189.5,42.5 L190.3,42.4 L191,42.4 L191.7,42.2 L192.5,42 L193.2,41.8 L193.9,41.6 L194.7,41.2 L195.4,40.9 L196.1,40.4 L196.9,40 L197.6,39.4 L198.3,38.8 L199.1,38.1 L199.1,52.3 L198.3,54 L197.6,55.7 L196.9,57.3 L196.1,58.9 L195.4,60.5 L194.7,61.9 L193.9,63.3 L193.2,64.6 L192.5,65.8 L191.7,66.9 L191,68 L190.3,68.9 L189.5,69.9 L188.8,70.8 L188.1,71.6 L187.3,72.4 L186.6,73.2 L185.9,74 L185.1,74.7 L184.4,75.4 L183.7,76.1 L182.9,76.8 L182.2,77.5 L181.5,78.2 L180.7,78.9 L180,79.7 L179.3,80.3 L178.5,81 L177.8,81.7 L177.1,82.4 L176.3,83 L175.6,83.7 L174.9,84.3 L174.1,85 L173.4,85.6 L172.7,86.2 L171.9,86.8 L171.2,87.4 L170.5,88 L169.7,88.6 L169,89.3 L168.3,89.8 L167.5,90.4 L166.8,91 L166.1,91.6 L165.4,92.2 L164.6,92.8 L163.9,93.4 L163.2,94 L162.4,94.6 L161.7,95.2 L161,95.8 L160.2,96.4 L159.5,97 L158.8,97.6 L158,98.3 L157.3,98.9 L156.6,99.5 L155.8,100.1 L155.1,100.8 L154.4,101.4 L153.6,102 L152.9,102.6 L152.2,103.2 L151.4,103.7 L150.7,104.3 L150,104.8 L149.2,105.3 L148.5,105.8 L147.8,106.3 L147,106.7 L146.3,107.1 L145.6,107.5 L144.8,107.9 L144.1,108.2 L143.4,108.6 L142.6,108.9 L141.9,109.2 L141.2,109.5 L140.4,109.8 L139.7,110.1 L139,110.4 L138.2,110.7 L137.5,111 L136.8,111.3 L136,111.6 L135.3,111.8 L134.6,112.1 L133.8,112.4 L133.1,112.6 L132.4,112.9 L131.6,113.1 L130.9,113.4 L130.2,113.6 L129.4,113.8 L128.7,114.1 L128,114.3 L127.2,114.5 L126.5,114.7 L125.8,114.9 L125,115.2 L124.3,115.4 L123.6,115.6 L122.8,115.8 L122.1,116 L121.4,116.2 L120.7,116.4 L119.9,116.6 L119.2,116.8 L118.5,117 L117.7,117.2 L117,117.4 L116.3,117.5 L115.5,117.7 L114.8,117.9 L114.1,118.1 L113.3,118.3 L112.6,118.5 L111.9,118.7 L111.1,118.9 L110.4,119.1 L109.7,119.2 L108.9,119.4 L108.2,119.6 L107.5,119.8 L106.7,120 L106,120.2 L105.3,120.4 L104.5,120.6 L103.8,120.8 L103.1,121 L102.3,121.1 L101.6,121.3 L100.9,121.5 L100.1,121.7 L99.4,121.9 L98.7,122.1 L97.9,122.2 L97.2,122.4 L96.5,122.6 L95.7,122.8 L95,122.9 L94.3,123.1 L93.5,123.3 L92.8,123.5 L92.1,123.6 L91.3,123.8 L90.6,124 L89.9,124.1 L89.1,124.3 L88.4,124.5 L87.7,124.6 L86.9,124.8 L86.2,125 L85.5,125.1 L84.7,125.3 L84,125.4 L83.3,125.6 L82.5,125.7 L81.8,125.9 L81.1,126 L80.3,126.2 L79.6,126.3 L78.9,126.5 L78.1,126.6 L77.4,126.8 L76.7,126.9 L75.9,127.1 L75.2,127.2 L74.5,127.3 L73.8,127.5 L73,127.6 L72.3,127.7 L71.6,127.9 L70.8,128" fill="none" stroke="#1a1aff" stroke-width="1.8" stroke-linejoin="round" stroke-linecap="round"/>
<path d="M70.8,99.7 L71.6,98.3 L72.3,97.1 L73,96 L73.8,95 L74.5,94.1 L75.2,93.3 L75.9,92.6 L76.7,92 L77.4,91.5 L78.1,91 L78.9,90.5 L79.6,90.1 L80.3,89.7 L81.1,89.4 L81.8,89.1 L82.5,88.8 L83.3,88.5 L84,88.3 L84.7,88 L85.5,87.8 L86.2,87.6 L86.9,87.5 L87.7,87.3 L88.4,87.1 L89.1,87 L89.9,86.8 L90.6,86.7 L91.3,86.6 L92.1,86.4 L92.8,86.3 L93.5,86.2 L94.3,86.1 L95,86 L95.7,85.9 L96.5,85.8 L97.2,85.7 L97.9,85.6 L98.7,85.5 L99.4,85.4 L100.1,85.3 L100.9,85.2 L101.6,85.1 L102.3,85 L103.1,84.9 L103.8,84.8 L104.5,84.7 L105.3,84.6 L106,84.5 L106.7,84.4 L107.5,84.4 L108.2,84.3 L108.9,84.2 L109.7,84.1 L110.4,84 L111.1,83.9 L111.9,83.8 L112.6,83.7 L113.3,83.6 L114.1,83.6 L114.8,83.5 L115.5,83.4 L116.3,83.3 L117,83.2 L117.7,83.1 L118.5,83 L119.2,82.9 L119.9,82.9 L120.7,82.8 L121.4,82.7 L122.1,82.6 L122.8,82.5 L123.6,82.4 L124.3,82.3 L125,82.3 L125.8,82.2 L126.5,82.1 L127.2,82 L128,81.9 L128.7,81.8 L129.4,81.7 L130.2,81.6 L130.9,81.6 L131.6,81.5 L132.4,81.4 L133.1,81.3 L133.8,81.2 L134.6,81.1 L135.3,81 L136,81 L136.8,80.9 L137.5,80.8 L138.2,80.7 L139,80.6 L139.7,80.5 L140.4,80.4 L141.2,80.3 L141.9,80.2 L142.6,80.1 L143.4,80 L144.1,79.9 L144.8,79.7 L145.6,79.5 L146.3,79.3 L147,79.1 L147.8,78.8 L148.5,78.5 L149.2,78.1 L150,77.6 L150.7,77 L151.4,76.3 L152.2,75.4 L152.9,74.4 L153.6,73.1 L154.4,71.7 L155.1,70.1 L155.8,68.2 L156.6,66.1 L157.3,63.7 L158,61.1 L158.8,58.2 L159.5,55.2 L160.2,52 L161,48.6 L161.7,45.2 L162.4,41.8 L163.2,38.5 L163.9,35.2 L164.6,32.2 L165.4,29.5 L166.1,27.2 L166.8,25.3 L167.5,23.9 L168.3,22.9 L169,22.6 L169.7,22.5 L170.5,22.6 L171.2,22.8 L171.9,23.2 L172.7,23.6 L173.4,24.1 L174.1,24.7 L174.9,25.3 L175.6,26 L176.3,26.7 L177.1,27.5 L177.8,28.3 L178.5,29.1 L179.3,29.8 L180,30.6 L180.7,31.3 L181.5,31.9 L182.2,32.5 L182.9,33.1 L183.7,33.6 L184.4,34 L185.1,34.4 L185.9,34.8 L186.6,35 L187.3,35.2 L188.1,35.4 L188.8,35.5 L189.5,35.5 L190.3,35.5 L191,35.4 L191.7,35.3 L192.5,35.1 L193.2,34.9 L193.9,34.7 L194.7,34.4 L195.4,34 L196.1,33.5 L196.9,33 L197.6,32.5 L198.3,31.8 L199.1,31.1 L199.1,50 L198.3,51.7 L197.6,53.4 L196.9,55.1 L196.1,56.7 L195.4,58.2 L194.7,59.7 L193.9,61.2 L193.2,62.5 L192.5,63.8 L191.7,65 L191,66.1 L190.3,67.2 L189.5,68.2 L188.8,69.2 L188.1,70.2 L187.3,71.1 L186.6,72 L185.9,72.9 L185.1,73.7 L184.4,74.5 L183.7,75.4 L182.9,76.2 L182.2,77 L181.5,77.8 L180.7,78.6 L180,79.4 L179.3,80.2 L178.5,81 L177.8,81.8 L177.1,82.6 L176.3,83.3 L175.6,84.1 L174.9,84.8 L174.1,85.6 L173.4,86.3 L172.7,87 L171.9,87.8 L171.2,88.5 L170.5,89.2 L169.7,89.9 L169,90.6 L168.3,91.3 L167.5,92 L166.8,92.7 L166.1,93.4 L165.4,94.1 L164.6,94.8 L163.9,95.4 L163.2,96.1 L162.4,96.8 L161.7,97.5 L161,98.2 L160.2,98.9 L159.5,99.6 L158.8,100.4 L158,101.1 L157.3,101.9 L156.6,102.6 L155.8,103.4 L155.1,104.1 L154.4,104.8 L153.6,105.5 L152.9,106.2 L152.2,106.9 L151.4,107.6 L150.7,108.2 L150,108.8 L149.2,109.4 L148.5,109.9 L147.8,110.4 L147,110.9 L146.3,111.3 L145.6,111.7 L144.8,112.1 L144.1,112.4 L143.4,112.7 L142.6,113 L141.9,113.3 L141.2,113.6 L140.4,113.9 L139.7,114.2 L139,114.5 L138.2,114.7 L137.5,115 L136.8,115.3 L136,115.5 L135.3,115.8 L134.6,116 L133.8,116.2 L133.1,116.4 L132.4,116.7 L131.6,116.9 L130.9,117.1 L130.2,117.3 L129.4,117.5 L128.7,117.7 L128,117.9 L127.2,118.1 L126.5,118.3 L125.8,118.5 L125,118.6 L124.3,118.8 L123.6,119 L122.8,119.2 L122.1,119.3 L121.4,119.5 L120.7,119.7 L119.9,119.8 L119.2,120 L118.5,120.2 L117.7,120.3 L117,120.5 L116.3,120.6 L115.5,120.8 L114.8,121 L114.1,121.1 L113.3,121.3 L112.6,121.4 L111.9,121.6 L111.1,121.8 L110.4,121.9 L109.7,122.1 L108.9,122.3 L108.2,122.4 L107.5,122.6 L106.7,122.8 L106,122.9 L105.3,123.1 L104.5,123.3 L103.8,123.4 L103.1,123.6 L102.3,123.8 L101.6,123.9 L100.9,124.1 L100.1,124.2 L99.4,124.4 L98.7,124.6 L97.9,124.7 L97.2,124.9 L96.5,125 L95.7,125.2 L95,125.3 L94.3,125.5 L93.5,125.7 L92.8,125.8 L92.1,126 L91.3,126.1 L90.6,126.3 L89.9,126.4 L89.1,126.5 L88.4,126.7 L87.7,126.8 L86.9,127 L86.2,127.1 L85.5,127.3 L84.7,127.4 L84,127.5 L83.3,127.7 L82.5,127.8 L81.8,127.9 L81.1,128.1 L80.3,128.2 L79.6,128.3 L78.9,128.5 L78.1,128.6 L77.4,128.7 L76.7,128.8 L75.9,129 L75.2,129.1 L74.5,129.2 L73.8,129.3 L73,129.5 L72.3,129.6 L71.6,129.7 L70.8,129.8" fill="none" stroke="#138a13" stroke-width="1.8" stroke-linejoin="round" stroke-linecap="round"/>
<rect x="52.5" y="10.4" width="164.9" height="137.8" fill="none" stroke="#111" stroke-width="1.2"/>
<line x1="52.5" y1="148.2" x2="52.5" y2="151" stroke="#111" stroke-width="1"/>
<text x="52.5" y="158.7" font-size="7.5" text-anchor="middle" >-0.2</text>
<line x1="70.8" y1="148.2" x2="70.8" y2="151" stroke="#111" stroke-width="1"/>
<text x="70.8" y="158.7" font-size="7.5" text-anchor="middle" >-0.1</text>
<line x1="89.1" y1="148.2" x2="89.1" y2="151" stroke="#111" stroke-width="1"/>
<text x="89.1" y="158.7" font-size="7.5" text-anchor="middle" >0.0</text>
<line x1="107.5" y1="148.2" x2="107.5" y2="151" stroke="#111" stroke-width="1"/>
<text x="107.5" y="158.7" font-size="7.5" text-anchor="middle" >0.1</text>
<line x1="125.8" y1="148.2" x2="125.8" y2="151" stroke="#111" stroke-width="1"/>
<text x="125.8" y="158.7" font-size="7.5" text-anchor="middle" >0.2</text>
<line x1="144.1" y1="148.2" x2="144.1" y2="151" stroke="#111" stroke-width="1"/>
<text x="144.1" y="158.7" font-size="7.5" text-anchor="middle" >0.3</text>
<line x1="162.4" y1="148.2" x2="162.4" y2="151" stroke="#111" stroke-width="1"/>
<text x="162.4" y="158.7" font-size="7.5" text-anchor="middle" >0.4</text>
<line x1="180.7" y1="148.2" x2="180.7" y2="151" stroke="#111" stroke-width="1"/>
<text x="180.7" y="158.7" font-size="7.5" text-anchor="middle" >0.5</text>
<line x1="199.1" y1="148.2" x2="199.1" y2="151" stroke="#111" stroke-width="1"/>
<text x="199.1" y="158.7" font-size="7.5" text-anchor="middle" >0.6</text>
<line x1="217.4" y1="148.2" x2="217.4" y2="151" stroke="#111" stroke-width="1"/>
<text x="217.4" y="158.7" font-size="7.5" text-anchor="middle" >0.7</text>
<line x1="49.6" y1="19" x2="52.5" y2="19" stroke="#111" stroke-width="1"/>
<text x="48.5" y="22" font-size="7.2" text-anchor="end" >1.8×10<tspan font-size="5" dy="-3.2">-5</tspan></text>
<line x1="49.6" y1="44.3" x2="52.5" y2="44.3" stroke="#111" stroke-width="1"/>
<text x="48.5" y="47.3" font-size="7.2" text-anchor="end" >1.2×10<tspan font-size="5" dy="-3.2">-5</tspan></text>
<line x1="49.6" y1="69.7" x2="52.5" y2="69.7" stroke="#111" stroke-width="1"/>
<text x="48.5" y="72.7" font-size="7.2" text-anchor="end" >6.0×10<tspan font-size="5" dy="-3.2">-6</tspan></text>
<line x1="49.6" y1="95" x2="52.5" y2="95" stroke="#111" stroke-width="1"/>
<text x="48.5" y="98" font-size="7.2" text-anchor="end" >0.0</text>
<line x1="49.6" y1="120.4" x2="52.5" y2="120.4" stroke="#111" stroke-width="1"/>
<text x="48.5" y="123.4" font-size="7.2" text-anchor="end" >-6.0×10<tspan font-size="5" dy="-3.2">-6</tspan></text>
<line x1="49.6" y1="145.8" x2="52.5" y2="145.8" stroke="#111" stroke-width="1"/>
<text x="48.5" y="148.8" font-size="7.2" text-anchor="end" >-1.2×10<tspan font-size="5" dy="-3.2">-5</tspan></text>
<text transform="translate(14.5,87.4) rotate(-90)" font-size="11.0" text-anchor="middle">Current, I (A)</text>
<text x="137.4" y="174.4" font-size="11.1" text-anchor="middle" >Potential, E (V)</text>
<rect x="13.2" y="161.6" width="15.2" height="14" fill="#ffff00"/>
<text x="21.2" y="172.8" font-size="12.6" text-anchor="middle" >(a)</text>
<line x1="169.5" y1="22.6" x2="188.5" y2="22" stroke="#555" stroke-width="0.6"/>
<path d="M188.5,22 L185.3,23.4 L185.3,20.8 Z" fill="#222"/>
<text x="188.6" y="24.3" font-size="7.5">1<tspan font-style="normal">μ</tspan>M PA</text>
<line x1="164.5" y1="82.2" x2="181.7" y2="98.2" stroke="#555" stroke-width="0.6"/>
<path d="M181.7,98.2 L178.5,97 L180.2,95.1 Z" fill="#222"/>
<text x="182.4" y="104.6" font-size="7.5">0.1<tspan font-style="normal">μ</tspan>M PA</text>
<path d="M286.6,112 L287.4,113.2 L288.1,114.3 L288.8,115.4 L289.5,116.4 L290.2,117.4 L290.9,118.3 L291.7,119.2 L292.4,120 L293.1,120.8 L293.8,121.6 L294.5,122.3 L295.2,123 L296,123.7 L296.7,124.3 L297.4,125 L298.1,125.5 L298.8,126.1 L299.5,126.6 L300.3,127.1 L301,127.6 L301.7,128 L302.4,128.5 L303.1,128.9 L303.8,129.3 L304.6,129.7 L305.3,130 L306,130.4 L306.7,130.7 L307.4,131 L308.1,131.3 L308.9,131.6 L309.6,131.8 L310.3,132.1 L311,132.4 L311.7,132.6 L312.4,132.8 L313.2,133 L313.9,133.2 L314.6,133.4 L315.3,133.6 L316,133.8 L316.8,133.9 L317.5,134.1 L318.2,134.2 L318.9,134.4 L319.6,134.5 L320.3,134.7 L321,134.8 L321.8,134.9 L322.5,135 L323.2,135.1 L323.9,135.2 L324.6,135.3 L325.3,135.4 L326.1,135.5 L326.8,135.6 L327.5,135.7 L328.2,135.8 L328.9,135.9 L329.6,136 L330.4,136 L331.1,136.1 L331.8,136.1 L332.5,136.1 L333.2,136.1 L333.9,136 L334.7,135.9 L335.4,135.8 L336.1,135.6 L336.8,135.4 L337.5,135.1 L338.2,134.7 L339,134.3 L339.7,133.7 L340.4,133.1 L341.1,132.4 L341.8,131.5 L342.5,130.5 L343.3,129.4 L344,128.2 L344.7,126.9 L345.4,125.4 L346.1,123.9 L346.8,122.3 L347.6,120.7 L348.3,119.1 L349,117.5 L349.7,115.9 L350.4,114.5 L351.1,113.3 L351.9,112.2 L352.6,111.3 L353.3,110.7 L354,110.4 L354.7,110.3 L355.4,110.4 L356.2,110.7 L356.9,111.2 L357.6,111.9 L358.3,112.7 L359,113.6 L359.8,114.7 L360.5,115.8 L361.2,117 L361.9,118.2 L362.6,119.4 L363.3,120.6 L364,121.8 L364.8,123 L365.5,124.1 L366.2,125.1 L366.9,126 L367.6,126.8 L368.3,127.6 L369.1,128.3 L369.8,128.8 L370.5,129.3 L371.2,129.8 L371.9,130.1 L372.6,130.4 L373.4,130.6 L374.1,130.7 L374.8,130.8 L375.5,130.9 L376.2,131 L376.9,131 L377.7,130.9 L378.4,130.9 L379.1,130.9 L379.8,130.8 L380.5,130.7 L381.2,130.7 L382,130.6 L382.7,130.5 L383.4,130.5 L384.1,130.4 L384.8,130.3 L385.5,130.3 L386.3,130.2 L387,130.2 L387.7,130.2 L388.4,130.1 L389.1,130.1 L389.9,130 L390.6,130 L391.3,130 L392,129.9 L392.7,129.9 L393.4,129.9 L394.1,129.8 L394.9,129.7 L395.6,129.7 L396.3,129.6 L397,129.5 L397.7,129.4 L398.4,129.3 L399.2,129.1 L399.9,129 L400.6,128.9 L401.3,128.7 L402,128.5 L402.8,128.3 L403.5,128.2 L404.2,128 L404.9,127.7 L405.6,127.5 L406.3,127.3 L407,127 L407.8,126.8 L408.5,126.5 L409.2,126.2 L409.9,126 L410.6,125.7 L411.3,125.3 L412.1,125 L412.8,124.7 L413.5,124.3 L414.2,124 L414.9,123.6 L415.6,123.2 L416.4,122.8 L417.1,122.4 L417.8,122 L418.5,121.6 L419.2,121.1 L419.9,120.7 L420.7,120.2 L421.4,119.7 L422.1,119.2 L422.8,118.7 L423.5,118.1 L424.2,117.6 L425,117 L425.7,116.4 L426.4,115.8 L427.1,115.2 L427.8,114.6 L428.5,113.9 L429.3,113.3 L430,112.6 L430.7,111.9 L431.4,111.2 L432.1,110.4 L432.8,109.7 L433.6,108.9 L434.3,108.1 L435,107.3 L435.7,106.5 L436.4,105.7 L437.1,104.8" fill="none" stroke="#ff1010" stroke-width="1.9" stroke-linejoin="round" stroke-linecap="round"/>
<path d="M286.6,100 L287.4,101.3 L288.1,102.6 L288.8,103.8 L289.5,105 L290.2,106.1 L290.9,107.2 L291.7,108.2 L292.4,109.1 L293.1,110.1 L293.8,110.9 L294.5,111.8 L295.2,112.6 L296,113.3 L296.7,114 L297.4,114.7 L298.1,115.4 L298.8,116 L299.5,116.6 L300.3,117.2 L301,117.7 L301.7,118.2 L302.4,118.7 L303.1,119.2 L303.8,119.6 L304.6,120.1 L305.3,120.5 L306,120.9 L306.7,121.2 L307.4,121.6 L308.1,121.9 L308.9,122.2 L309.6,122.6 L310.3,122.8 L311,123.1 L311.7,123.4 L312.4,123.6 L313.2,123.9 L313.9,124.1 L314.6,124.3 L315.3,124.5 L316,124.7 L316.8,124.9 L317.5,125.1 L318.2,125.3 L318.9,125.4 L319.6,125.6 L320.3,125.8 L321,125.9 L321.8,126 L322.5,126.2 L323.2,126.3 L323.9,126.4 L324.6,126.5 L325.3,126.6 L326.1,126.7 L326.8,126.8 L327.5,126.9 L328.2,127 L328.9,127.1 L329.6,127.2 L330.4,127.2 L331.1,127.3 L331.8,127.3 L332.5,127.3 L333.2,127.3 L333.9,127.3 L334.7,127.2 L335.4,127.1 L336.1,126.9 L336.8,126.7 L337.5,126.4 L338.2,126 L339,125.5 L339.7,125 L340.4,124.3 L341.1,123.4 L341.8,122.4 L342.5,121.3 L343.3,120 L344,118.5 L344.7,116.9 L345.4,115.2 L346.1,113.3 L346.8,111.4 L347.6,109.4 L348.3,107.4 L349,105.4 L349.7,103.6 L350.4,101.9 L351.1,100.3 L351.9,99.1 L352.6,98.1 L353.3,97.4 L354,97 L354.7,97 L355.4,97.3 L356.2,97.8 L356.9,98.5 L357.6,99.5 L358.3,100.6 L359,101.9 L359.8,103.4 L360.5,104.9 L361.2,106.6 L361.9,108.2 L362.6,109.9 L363.3,111.6 L364,113.3 L364.8,114.8 L365.5,116.4 L366.2,117.8 L366.9,119.1 L367.6,120.3 L368.3,121.5 L369.1,122.5 L369.8,123.3 L370.5,124.1 L371.2,124.8 L371.9,125.4 L372.6,125.9 L373.4,126.4 L374.1,126.8 L374.8,127.1 L375.5,127.3 L376.2,127.6 L376.9,127.7 L377.7,127.9 L378.4,128 L379.1,128.1 L379.8,128.2 L380.5,128.3 L381.2,128.3 L382,128.4 L382.7,128.4 L383.4,128.4 L384.1,128.5 L384.8,128.5 L385.5,128.5 L386.3,128.5 L387,128.5 L387.7,128.5 L388.4,128.5 L389.1,128.5 L389.9,128.5 L390.6,128.5 L391.3,128.5 L392,128.4 L392.7,128.4 L393.4,128.4 L394.1,128.3 L394.9,128.3 L395.6,128.2 L396.3,128.2 L397,128.1 L397.7,128 L398.4,127.9 L399.2,127.8 L399.9,127.7 L400.6,127.6 L401.3,127.5 L402,127.4 L402.8,127.2 L403.5,127 L404.2,126.9 L404.9,126.7 L405.6,126.5 L406.3,126.3 L407,126.1 L407.8,125.8 L408.5,125.6 L409.2,125.3 L409.9,125 L410.6,124.7 L411.3,124.4 L412.1,124.1 L412.8,123.8 L413.5,123.5 L414.2,123.1 L414.9,122.7 L415.6,122.3 L416.4,121.9 L417.1,121.5 L417.8,121.1 L418.5,120.6 L419.2,120.2 L419.9,119.7 L420.7,119.2 L421.4,118.7 L422.1,118.1 L422.8,117.6 L423.5,117 L424.2,116.4 L425,115.8 L425.7,115.2 L426.4,114.6 L427.1,113.9 L427.8,113.2 L428.5,112.5 L429.3,111.8 L430,111.1 L430.7,110.3 L431.4,109.5 L432.1,108.7 L432.8,107.9 L433.6,107 L434.3,106.2 L435,105.3 L435.7,104.4 L436.4,103.5 L437.1,102.5" fill="none" stroke="#1515ff" stroke-width="1.9" stroke-linejoin="round" stroke-linecap="round"/>
<path d="M286.6,88.6 L287.4,91.3 L288.1,93.8 L288.8,96.1 L289.5,98.3 L290.2,100.3 L290.9,102.1 L291.7,103.9 L292.4,105.5 L293.1,107 L293.8,108.3 L294.5,109.6 L295.2,110.8 L296,111.9 L296.7,112.9 L297.4,113.9 L298.1,114.8 L298.8,115.6 L299.5,116.4 L300.3,117.1 L301,117.7 L301.7,118.4 L302.4,118.9 L303.1,119.5 L303.8,119.9 L304.6,120.4 L305.3,120.8 L306,121.2 L306.7,121.6 L307.4,121.9 L308.1,122.2 L308.9,122.5 L309.6,122.8 L310.3,123 L311,123.3 L311.7,123.5 L312.4,123.7 L313.2,123.9 L313.9,124.1 L314.6,124.2 L315.3,124.4 L316,124.5 L316.8,124.6 L317.5,124.8 L318.2,124.9 L318.9,125 L319.6,125.1 L320.3,125.2 L321,125.2 L321.8,125.3 L322.5,125.4 L323.2,125.5 L323.9,125.5 L324.6,125.6 L325.3,125.6 L326.1,125.7 L326.8,125.7 L327.5,125.7 L328.2,125.8 L328.9,125.8 L329.6,125.8 L330.4,125.8 L331.1,125.8 L331.8,125.8 L332.5,125.8 L333.2,125.7 L333.9,125.7 L334.7,125.6 L335.4,125.4 L336.1,125.2 L336.8,124.9 L337.5,124.5 L338.2,124 L339,123.4 L339.7,122.6 L340.4,121.7 L341.1,120.6 L341.8,119.3 L342.5,117.8 L343.3,116.1 L344,114.2 L344.7,112.1 L345.4,109.8 L346.1,107.3 L346.8,104.7 L347.6,102.1 L348.3,99.4 L349,96.8 L349.7,94.3 L350.4,92 L351.1,90 L351.9,88.3 L352.6,87 L353.3,86.1 L354,85.6 L354.7,85.7 L355.4,86 L356.2,86.7 L356.9,87.7 L357.6,89 L358.3,90.6 L359,92.4 L359.8,94.3 L360.5,96.5 L361.2,98.7 L361.9,101 L362.6,103.3 L363.3,105.6 L364,107.8 L364.8,110 L365.5,112 L366.2,114 L366.9,115.8 L367.6,117.5 L368.3,119 L369.1,120.4 L369.8,121.6 L370.5,122.7 L371.2,123.7 L371.9,124.5 L372.6,125.3 L373.4,125.9 L374.1,126.4 L374.8,126.9 L375.5,127.3 L376.2,127.6 L376.9,127.9 L377.7,128.2 L378.4,128.4 L379.1,128.5 L379.8,128.7 L380.5,128.8 L381.2,128.9 L382,129 L382.7,129.1 L383.4,129.2 L384.1,129.3 L384.8,129.3 L385.5,129.4 L386.3,129.4 L387,129.4 L387.7,129.5 L388.4,129.5 L389.1,129.5 L389.9,129.5 L390.6,129.5 L391.3,129.5 L392,129.5 L392.7,129.4 L393.4,129.4 L394.1,129.4 L394.9,129.3 L395.6,129.2 L396.3,129.2 L397,129.1 L397.7,129 L398.4,128.9 L399.2,128.8 L399.9,128.6 L400.6,128.5 L401.3,128.4 L402,128.2 L402.8,128 L403.5,127.8 L404.2,127.7 L404.9,127.4 L405.6,127.2 L406.3,127 L407,126.7 L407.8,126.5 L408.5,126.2 L409.2,125.9 L409.9,125.6 L410.6,125.3 L411.3,124.9 L412.1,124.6 L412.8,124.2 L413.5,123.8 L414.2,123.4 L414.9,123 L415.6,122.6 L416.4,122.1 L417.1,121.6 L417.8,121.2 L418.5,120.6 L419.2,120.1 L419.9,119.6 L420.7,119 L421.4,118.4 L422.1,117.8 L422.8,117.2 L423.5,116.6 L424.2,115.9 L425,115.2 L425.7,114.5 L426.4,113.8 L427.1,113 L427.8,112.3 L428.5,111.5 L429.3,110.7 L430,109.8 L430.7,109 L431.4,108.1 L432.1,107.2 L432.8,106.3 L433.6,105.3 L434.3,104.3 L435,103.3 L435.7,102.3 L436.4,101.3 L437.1,100.2" fill="none" stroke="#1a7a1a" stroke-width="1.9" stroke-linejoin="round" stroke-linecap="round"/>
<path d="M286.6,105.7 L287.4,106.9 L288.1,108 L288.8,109 L289.5,110.1 L290.2,111 L290.9,112 L291.7,112.8 L292.4,113.7 L293.1,114.5 L293.8,115.2 L294.5,116 L295.2,116.7 L296,117.3 L296.7,117.9 L297.4,118.5 L298.1,119.1 L298.8,119.7 L299.5,120.2 L300.3,120.7 L301,121.2 L301.7,121.6 L302.4,122 L303.1,122.4 L303.8,122.8 L304.6,123.2 L305.3,123.6 L306,123.9 L306.7,124.2 L307.4,124.5 L308.1,124.8 L308.9,125.1 L309.6,125.4 L310.3,125.6 L311,125.9 L311.7,126.1 L312.4,126.3 L313.2,126.5 L313.9,126.7 L314.6,126.9 L315.3,127.1 L316,127.3 L316.8,127.5 L317.5,127.6 L318.2,127.8 L318.9,127.9 L319.6,128.1 L320.3,128.2 L321,128.3 L321.8,128.4 L322.5,128.5 L323.2,128.6 L323.9,128.8 L324.6,128.8 L325.3,128.9 L326.1,129 L326.8,129.1 L327.5,129.2 L328.2,129.2 L328.9,129.3 L329.6,129.4 L330.4,129.4 L331.1,129.4 L331.8,129.4 L332.5,129.4 L333.2,129.4 L333.9,129.3 L334.7,129.1 L335.4,128.9 L336.1,128.6 L336.8,128.2 L337.5,127.7 L338.2,127.1 L339,126.3 L339.7,125.2 L340.4,124 L341.1,122.5 L341.8,120.7 L342.5,118.7 L343.3,116.3 L344,113.7 L344.7,110.8 L345.4,107.7 L346.1,104.3 L346.8,100.8 L347.6,97.2 L348.3,93.5 L349,90 L349.7,86.6 L350.4,83.4 L351.1,80.7 L351.9,78.3 L352.6,76.5 L353.3,75.3 L354,74.7 L354.7,74.8 L355.4,75.3 L356.2,76.3 L356.9,77.7 L357.6,79.5 L358.3,81.7 L359,84.1 L359.8,86.8 L360.5,89.8 L361.2,92.8 L361.9,96 L362.6,99.1 L363.3,102.3 L364,105.4 L364.8,108.4 L365.5,111.3 L366.2,114 L366.9,116.5 L367.6,118.8 L368.3,120.9 L369.1,122.8 L369.8,124.5 L370.5,126.1 L371.2,127.4 L371.9,128.6 L372.6,129.6 L373.4,130.5 L374.1,131.3 L374.8,132 L375.5,132.5 L376.2,133 L376.9,133.4 L377.7,133.8 L378.4,134.1 L379.1,134.4 L379.8,134.6 L380.5,134.8 L381.2,135 L382,135.2 L382.7,135.3 L383.4,135.5 L384.1,135.6 L384.8,135.7 L385.5,135.8 L386.3,135.9 L387,136 L387.7,136.1 L388.4,136.1 L389.1,136.2 L389.9,136.2 L390.6,136.3 L391.3,136.3 L392,136.3 L392.7,136.3 L393.4,136.3 L394.1,136.3 L394.9,136.3 L395.6,136.2 L396.3,136.2 L397,136.1 L397.7,136 L398.4,135.9 L399.2,135.8 L399.9,135.7 L400.6,135.6 L401.3,135.4 L402,135.3 L402.8,135.1 L403.5,134.9 L404.2,134.8 L404.9,134.5 L405.6,134.3 L406.3,134.1 L407,133.8 L407.8,133.6 L408.5,133.3 L409.2,133 L409.9,132.7 L410.6,132.3 L411.3,132 L412.1,131.6 L412.8,131.2 L413.5,130.8 L414.2,130.4 L414.9,130 L415.6,129.5 L416.4,129 L417.1,128.5 L417.8,128 L418.5,127.5 L419.2,126.9 L419.9,126.3 L420.7,125.7 L421.4,125.1 L422.1,124.4 L422.8,123.7 L423.5,123 L424.2,122.3 L425,121.5 L425.7,120.8 L426.4,120 L427.1,119.1 L427.8,118.3 L428.5,117.4 L429.3,116.5 L430,115.6 L430.7,114.6 L431.4,113.7 L432.1,112.7 L432.8,111.6 L433.6,110.6 L434.3,109.5 L435,108.3 L435.7,107.2 L436.4,106 L437.1,104.8" fill="none" stroke="#ff50b4" stroke-width="1.9" stroke-linejoin="round" stroke-linecap="round"/>
<path d="M286.6,102.8 L287.4,104 L288.1,105.1 L288.8,106.2 L289.5,107.2 L290.2,108.2 L290.9,109.1 L291.7,110 L292.4,110.8 L293.1,111.6 L293.8,112.4 L294.5,113.1 L295.2,113.8 L296,114.5 L296.7,115.1 L297.4,115.8 L298.1,116.3 L298.8,116.9 L299.5,117.4 L300.3,117.9 L301,118.4 L301.7,118.8 L302.4,119.3 L303.1,119.7 L303.8,120.1 L304.6,120.5 L305.3,120.8 L306,121.2 L306.7,121.5 L307.4,121.8 L308.1,122.1 L308.9,122.4 L309.6,122.6 L310.3,122.9 L311,123.2 L311.7,123.4 L312.4,123.6 L313.2,123.8 L313.9,124 L314.6,124.2 L315.3,124.4 L316,124.6 L316.8,124.7 L317.5,124.9 L318.2,125.1 L318.9,125.2 L319.6,125.3 L320.3,125.5 L321,125.6 L321.8,125.7 L322.5,125.8 L323.2,125.9 L323.9,126 L324.6,126.1 L325.3,126.2 L326.1,126.3 L326.8,126.4 L327.5,126.5 L328.2,126.6 L328.9,126.6 L329.6,126.7 L330.4,126.7 L331.1,126.7 L331.8,126.7 L332.5,126.7 L333.2,126.6 L333.9,126.5 L334.7,126.3 L335.4,126.1 L336.1,125.7 L336.8,125.3 L337.5,124.7 L338.2,124 L339,123 L339.7,121.9 L340.4,120.5 L341.1,118.9 L341.8,117 L342.5,114.8 L343.3,112.3 L344,109.4 L344.7,106.3 L345.4,103 L346.1,99.4 L346.8,95.6 L347.6,91.7 L348.3,87.9 L349,84.1 L349.7,80.4 L350.4,77.1 L351.1,74.1 L351.9,71.6 L352.6,69.7 L353.3,68.4 L354,67.7 L354.7,67.7 L355.4,68.2 L356.2,69.1 L356.9,70.5 L357.6,72.4 L358.3,74.6 L359,77.1 L359.8,79.9 L360.5,82.9 L361.2,86 L361.9,89.2 L362.6,92.5 L363.3,95.8 L364,98.9 L364.8,102 L365.5,104.9 L366.2,107.7 L366.9,110.3 L367.6,112.6 L368.3,114.7 L369.1,116.7 L369.8,118.4 L370.5,119.9 L371.2,121.2 L371.9,122.4 L372.6,123.4 L373.4,124.2 L374.1,124.9 L374.8,125.5 L375.5,126 L376.2,126.4 L376.9,126.7 L377.7,127 L378.4,127.2 L379.1,127.4 L379.8,127.5 L380.5,127.6 L381.2,127.7 L382,127.8 L382.7,127.9 L383.4,127.9 L384.1,127.9 L384.8,128 L385.5,128 L386.3,128 L387,128 L387.7,128 L388.4,128 L389.1,128 L389.9,128 L390.6,128 L391.3,128 L392,128 L392.7,128 L393.4,128 L394.1,127.9 L394.9,127.9 L395.6,127.8 L396.3,127.8 L397,127.7 L397.7,127.7 L398.4,127.6 L399.2,127.5 L399.9,127.4 L400.6,127.3 L401.3,127.1 L402,127 L402.8,126.8 L403.5,126.7 L404.2,126.5 L404.9,126.3 L405.6,126.1 L406.3,125.8 L407,125.6 L407.8,125.3 L408.5,125.1 L409.2,124.8 L409.9,124.5 L410.6,124.1 L411.3,123.8 L412.1,123.4 L412.8,123 L413.5,122.6 L414.2,122.2 L414.9,121.8 L415.6,121.3 L416.4,120.8 L417.1,120.3 L417.8,119.8 L418.5,119.3 L419.2,118.7 L419.9,118.2 L420.7,117.6 L421.4,116.9 L422.1,116.3 L422.8,115.6 L423.5,114.9 L424.2,114.2 L425,113.5 L425.7,112.7 L426.4,111.9 L427.1,111.1 L427.8,110.3 L428.5,109.4 L429.3,108.5 L430,107.6 L430.7,106.7 L431.4,105.7 L432.1,104.7 L432.8,103.7 L433.6,102.7 L434.3,101.6 L435,100.5 L435.7,99.4 L436.4,98.2 L437.1,97" fill="none" stroke="#3cb4ff" stroke-width="1.9" stroke-linejoin="round" stroke-linecap="round"/>
<path d="M286.6,96.2 L287.4,97.5 L288.1,98.7 L288.8,99.9 L289.5,101 L290.2,102.1 L290.9,103.1 L291.7,104.1 L292.4,105 L293.1,105.9 L293.8,106.8 L294.5,107.6 L295.2,108.3 L296,109.1 L296.7,109.8 L297.4,110.4 L298.1,111.1 L298.8,111.7 L299.5,112.3 L300.3,112.8 L301,113.3 L301.7,113.8 L302.4,114.3 L303.1,114.8 L303.8,115.2 L304.6,115.6 L305.3,116 L306,116.4 L306.7,116.7 L307.4,117.1 L308.1,117.4 L308.9,117.7 L309.6,118 L310.3,118.3 L311,118.6 L311.7,118.8 L312.4,119.1 L313.2,119.3 L313.9,119.5 L314.6,119.7 L315.3,119.9 L316,120.1 L316.8,120.3 L317.5,120.5 L318.2,120.7 L318.9,120.8 L319.6,121 L320.3,121.1 L321,121.3 L321.8,121.4 L322.5,121.5 L323.2,121.6 L323.9,121.7 L324.6,121.9 L325.3,122 L326.1,122.1 L326.8,122.1 L327.5,122.2 L328.2,122.3 L328.9,122.4 L329.6,122.4 L330.4,122.5 L331.1,122.5 L331.8,122.5 L332.5,122.5 L333.2,122.4 L333.9,122.3 L334.7,122.1 L335.4,121.8 L336.1,121.5 L336.8,121 L337.5,120.4 L338.2,119.6 L339,118.6 L339.7,117.4 L340.4,116 L341.1,114.2 L341.8,112.2 L342.5,109.8 L343.3,107.1 L344,104.1 L344.7,100.7 L345.4,97.1 L346.1,93.2 L346.8,89.1 L347.6,85 L348.3,80.8 L349,76.7 L349.7,72.8 L350.4,69.2 L351.1,66 L351.9,63.3 L352.6,61.2 L353.3,59.8 L354,59.1 L354.7,59.1 L355.4,59.7 L356.2,60.7 L356.9,62.3 L357.6,64.3 L358.3,66.7 L359,69.5 L359.8,72.6 L360.5,75.8 L361.2,79.3 L361.9,82.8 L362.6,86.4 L363.3,90 L364,93.5 L364.8,96.8 L365.5,100.1 L366.2,103.1 L366.9,105.9 L367.6,108.5 L368.3,110.9 L369.1,113 L369.8,114.9 L370.5,116.6 L371.2,118.1 L371.9,119.4 L372.6,120.5 L373.4,121.4 L374.1,122.2 L374.8,122.9 L375.5,123.5 L376.2,124 L376.9,124.4 L377.7,124.8 L378.4,125 L379.1,125.3 L379.8,125.5 L380.5,125.7 L381.2,125.8 L382,125.9 L382.7,126 L383.4,126.1 L384.1,126.2 L384.8,126.3 L385.5,126.4 L386.3,126.4 L387,126.5 L387.7,126.5 L388.4,126.5 L389.1,126.6 L389.9,126.6 L390.6,126.6 L391.3,126.6 L392,126.6 L392.7,126.6 L393.4,126.6 L394.1,126.5 L394.9,126.5 L395.6,126.5 L396.3,126.4 L397,126.3 L397.7,126.2 L398.4,126.2 L399.2,126 L399.9,125.9 L400.6,125.8 L401.3,125.7 L402,125.5 L402.8,125.3 L403.5,125.1 L404.2,124.9 L404.9,124.7 L405.6,124.5 L406.3,124.2 L407,123.9 L407.8,123.6 L408.5,123.3 L409.2,123 L409.9,122.7 L410.6,122.3 L411.3,121.9 L412.1,121.5 L412.8,121.1 L413.5,120.6 L414.2,120.2 L414.9,119.7 L415.6,119.2 L416.4,118.7 L417.1,118.1 L417.8,117.5 L418.5,116.9 L419.2,116.3 L419.9,115.7 L420.7,115 L421.4,114.3 L422.1,113.6 L422.8,112.9 L423.5,112.1 L424.2,111.3 L425,110.5 L425.7,109.6 L426.4,108.8 L427.1,107.9 L427.8,106.9 L428.5,106 L429.3,105 L430,104 L430.7,103 L431.4,101.9 L432.1,100.8 L432.8,99.6 L433.6,98.5 L434.3,97.3 L435,96.1 L435.7,94.8 L436.4,93.5 L437.1,92.2" fill="none" stroke="#a8e040" stroke-width="1.9" stroke-linejoin="round" stroke-linecap="round"/>
<path d="M286.6,88 L287.4,89.5 L288.1,90.9 L288.8,92.2 L289.5,93.5 L290.2,94.8 L290.9,95.9 L291.7,97 L292.4,98.1 L293.1,99.1 L293.8,100.1 L294.5,101 L295.2,101.9 L296,102.7 L296.7,103.5 L297.4,104.3 L298.1,105 L298.8,105.7 L299.5,106.4 L300.3,107 L301,107.6 L301.7,108.2 L302.4,108.7 L303.1,109.2 L303.8,109.7 L304.6,110.2 L305.3,110.6 L306,111.1 L306.7,111.5 L307.4,111.9 L308.1,112.2 L308.9,112.6 L309.6,112.9 L310.3,113.3 L311,113.6 L311.7,113.9 L312.4,114.1 L313.2,114.4 L313.9,114.7 L314.6,114.9 L315.3,115.1 L316,115.4 L316.8,115.6 L317.5,115.8 L318.2,116 L318.9,116.1 L319.6,116.3 L320.3,116.5 L321,116.6 L321.8,116.8 L322.5,116.9 L323.2,117.1 L323.9,117.2 L324.6,117.3 L325.3,117.4 L326.1,117.5 L326.8,117.7 L327.5,117.7 L328.2,117.8 L328.9,117.9 L329.6,118 L330.4,118 L331.1,118.1 L331.8,118.1 L332.5,118 L333.2,118 L333.9,117.9 L334.7,117.7 L335.4,117.4 L336.1,117.1 L336.8,116.6 L337.5,116 L338.2,115.1 L339,114.1 L339.7,112.9 L340.4,111.3 L341.1,109.5 L341.8,107.3 L342.5,104.8 L343.3,102 L344,98.7 L344.7,95.2 L345.4,91.3 L346.1,87.2 L346.8,82.9 L347.6,78.5 L348.3,74 L349,69.7 L349.7,65.5 L350.4,61.7 L351.1,58.3 L351.9,55.5 L352.6,53.3 L353.3,51.8 L354,51.1 L354.7,51.1 L355.4,51.7 L356.2,52.9 L356.9,54.6 L357.6,56.8 L358.3,59.4 L359,62.4 L359.8,65.6 L360.5,69.2 L361.2,72.9 L361.9,76.7 L362.6,80.5 L363.3,84.4 L364,88.1 L364.8,91.7 L365.5,95.2 L366.2,98.5 L366.9,101.5 L367.6,104.3 L368.3,106.9 L369.1,109.2 L369.8,111.2 L370.5,113.1 L371.2,114.7 L371.9,116.1 L372.6,117.3 L373.4,118.4 L374.1,119.3 L374.8,120.1 L375.5,120.7 L376.2,121.3 L376.9,121.8 L377.7,122.2 L378.4,122.5 L379.1,122.8 L379.8,123.1 L380.5,123.3 L381.2,123.5 L382,123.7 L382.7,123.9 L383.4,124 L384.1,124.1 L384.8,124.2 L385.5,124.3 L386.3,124.4 L387,124.5 L387.7,124.6 L388.4,124.6 L389.1,124.7 L389.9,124.7 L390.6,124.8 L391.3,124.8 L392,124.8 L392.7,124.8 L393.4,124.8 L394.1,124.8 L394.9,124.7 L395.6,124.7 L396.3,124.6 L397,124.5 L397.7,124.5 L398.4,124.3 L399.2,124.2 L399.9,124.1 L400.6,124 L401.3,123.8 L402,123.6 L402.8,123.4 L403.5,123.2 L404.2,123 L404.9,122.8 L405.6,122.5 L406.3,122.2 L407,121.9 L407.8,121.6 L408.5,121.3 L409.2,120.9 L409.9,120.6 L410.6,120.2 L411.3,119.8 L412.1,119.3 L412.8,118.9 L413.5,118.4 L414.2,117.9 L414.9,117.4 L415.6,116.9 L416.4,116.3 L417.1,115.7 L417.8,115.1 L418.5,114.5 L419.2,113.8 L419.9,113.1 L420.7,112.4 L421.4,111.7 L422.1,110.9 L422.8,110.1 L423.5,109.3 L424.2,108.4 L425,107.6 L425.7,106.7 L426.4,105.7 L427.1,104.8 L427.8,103.8 L428.5,102.8 L429.3,101.7 L430,100.6 L430.7,99.5 L431.4,98.4 L432.1,97.2 L432.8,96 L433.6,94.7 L434.3,93.4 L435,92.1 L435.7,90.8 L436.4,89.4 L437.1,88" fill="none" stroke="#22ee22" stroke-width="1.9" stroke-linejoin="round" stroke-linecap="round"/>
<path d="M286.6,83.9 L287.4,85.5 L288.1,87 L288.8,88.5 L289.5,89.9 L290.2,91.2 L290.9,92.4 L291.7,93.7 L292.4,94.8 L293.1,95.9 L293.8,96.9 L294.5,97.9 L295.2,98.9 L296,99.8 L296.7,100.6 L297.4,101.5 L298.1,102.2 L298.8,103 L299.5,103.7 L300.3,104.4 L301,105 L301.7,105.6 L302.4,106.2 L303.1,106.8 L303.8,107.3 L304.6,107.8 L305.3,108.3 L306,108.8 L306.7,109.2 L307.4,109.6 L308.1,110.1 L308.9,110.4 L309.6,110.8 L310.3,111.2 L311,111.5 L311.7,111.8 L312.4,112.1 L313.2,112.4 L313.9,112.7 L314.6,112.9 L315.3,113.2 L316,113.4 L316.8,113.6 L317.5,113.9 L318.2,114.1 L318.9,114.3 L319.6,114.4 L320.3,114.6 L321,114.8 L321.8,115 L322.5,115.1 L323.2,115.3 L323.9,115.4 L324.6,115.5 L325.3,115.7 L326.1,115.8 L326.8,115.9 L327.5,116 L328.2,116.1 L328.9,116.2 L329.6,116.2 L330.4,116.3 L331.1,116.3 L331.8,116.3 L332.5,116.3 L333.2,116.2 L333.9,116.1 L334.7,115.9 L335.4,115.6 L336.1,115.2 L336.8,114.7 L337.5,114 L338.2,113.1 L339,111.9 L339.7,110.5 L340.4,108.9 L341.1,106.8 L341.8,104.4 L342.5,101.7 L343.3,98.5 L344,95 L344.7,91.1 L345.4,86.8 L346.1,82.3 L346.8,77.6 L347.6,72.7 L348.3,67.8 L349,63 L349.7,58.4 L350.4,54.2 L351.1,50.5 L351.9,47.4 L352.6,44.9 L353.3,43.3 L354,42.5 L354.7,42.5 L355.4,43.2 L356.2,44.5 L356.9,46.3 L357.6,48.7 L358.3,51.6 L359,54.8 L359.8,58.4 L360.5,62.3 L361.2,66.4 L361.9,70.5 L362.6,74.8 L363.3,79 L364,83.1 L364.8,87 L365.5,90.8 L366.2,94.4 L366.9,97.7 L367.6,100.8 L368.3,103.6 L369.1,106.1 L369.8,108.4 L370.5,110.4 L371.2,112.2 L371.9,113.7 L372.6,115 L373.4,116.2 L374.1,117.2 L374.8,118 L375.5,118.7 L376.2,119.3 L376.9,119.8 L377.7,120.3 L378.4,120.6 L379.1,120.9 L379.8,121.2 L380.5,121.4 L381.2,121.6 L382,121.8 L382.7,122 L383.4,122.1 L384.1,122.2 L384.8,122.4 L385.5,122.5 L386.3,122.5 L387,122.6 L387.7,122.7 L388.4,122.8 L389.1,122.8 L389.9,122.8 L390.6,122.9 L391.3,122.9 L392,122.9 L392.7,122.9 L393.4,122.9 L394.1,122.8 L394.9,122.8 L395.6,122.8 L396.3,122.7 L397,122.6 L397.7,122.5 L398.4,122.4 L399.2,122.3 L399.9,122.1 L400.6,122 L401.3,121.8 L402,121.6 L402.8,121.4 L403.5,121.2 L404.2,120.9 L404.9,120.7 L405.6,120.4 L406.3,120.1 L407,119.7 L407.8,119.4 L408.5,119 L409.2,118.6 L409.9,118.2 L410.6,117.8 L411.3,117.4 L412.1,116.9 L412.8,116.4 L413.5,115.9 L414.2,115.3 L414.9,114.7 L415.6,114.1 L416.4,113.5 L417.1,112.9 L417.8,112.2 L418.5,111.5 L419.2,110.8 L419.9,110 L420.7,109.2 L421.4,108.4 L422.1,107.6 L422.8,106.7 L423.5,105.8 L424.2,104.8 L425,103.9 L425.7,102.9 L426.4,101.9 L427.1,100.8 L427.8,99.7 L428.5,98.6 L429.3,97.4 L430,96.2 L430.7,95 L431.4,93.7 L432.1,92.4 L432.8,91.1 L433.6,89.7 L434.3,88.3 L435,86.9 L435.7,85.4 L436.4,83.9 L437.1,82.3" fill="none" stroke="#1ec8d8" stroke-width="1.9" stroke-linejoin="round" stroke-linecap="round"/>
<path d="M286.6,77.9 L287.4,79.6 L288.1,81.1 L288.8,82.7 L289.5,84.1 L290.2,85.5 L290.9,86.8 L291.7,88 L292.4,89.2 L293.1,90.4 L293.8,91.4 L294.5,92.5 L295.2,93.5 L296,94.4 L296.7,95.3 L297.4,96.2 L298.1,97 L298.8,97.7 L299.5,98.5 L300.3,99.2 L301,99.9 L301.7,100.5 L302.4,101.1 L303.1,101.7 L303.8,102.3 L304.6,102.8 L305.3,103.3 L306,103.8 L306.7,104.2 L307.4,104.7 L308.1,105.1 L308.9,105.5 L309.6,105.9 L310.3,106.2 L311,106.6 L311.7,106.9 L312.4,107.2 L313.2,107.5 L313.9,107.8 L314.6,108.1 L315.3,108.3 L316,108.6 L316.8,108.8 L317.5,109 L318.2,109.3 L318.9,109.5 L319.6,109.7 L320.3,109.8 L321,110 L321.8,110.2 L322.5,110.4 L323.2,110.5 L323.9,110.7 L324.6,110.8 L325.3,110.9 L326.1,111 L326.8,111.2 L327.5,111.3 L328.2,111.4 L328.9,111.4 L329.6,111.5 L330.4,111.6 L331.1,111.6 L331.8,111.6 L332.5,111.6 L333.2,111.5 L333.9,111.4 L334.7,111.2 L335.4,110.9 L336.1,110.5 L336.8,109.9 L337.5,109.2 L338.2,108.2 L339,107 L339.7,105.5 L340.4,103.8 L341.1,101.6 L341.8,99.1 L342.5,96.1 L343.3,92.8 L344,89 L344.7,84.8 L345.4,80.3 L346.1,75.5 L346.8,70.4 L347.6,65.2 L348.3,60 L349,54.9 L349.7,50 L350.4,45.6 L351.1,41.6 L351.9,38.2 L352.6,35.7 L353.3,33.9 L354,33.1 L354.7,33.1 L355.4,33.9 L356.2,35.3 L356.9,37.3 L357.6,39.9 L358.3,42.9 L359,46.4 L359.8,50.3 L360.5,54.5 L361.2,58.9 L361.9,63.4 L362.6,67.9 L363.3,72.4 L364,76.9 L364.8,81.1 L365.5,85.2 L366.2,89.1 L366.9,92.7 L367.6,96 L368.3,99 L369.1,101.8 L369.8,104.2 L370.5,106.4 L371.2,108.3 L371.9,110 L372.6,111.5 L373.4,112.7 L374.1,113.8 L374.8,114.8 L375.5,115.6 L376.2,116.2 L376.9,116.8 L377.7,117.3 L378.4,117.8 L379.1,118.1 L379.8,118.5 L380.5,118.7 L381.2,119 L382,119.2 L382.7,119.4 L383.4,119.6 L384.1,119.8 L384.8,119.9 L385.5,120.1 L386.3,120.2 L387,120.3 L387.7,120.4 L388.4,120.5 L389.1,120.5 L389.9,120.6 L390.6,120.6 L391.3,120.7 L392,120.7 L392.7,120.7 L393.4,120.7 L394.1,120.7 L394.9,120.6 L395.6,120.6 L396.3,120.5 L397,120.4 L397.7,120.3 L398.4,120.1 L399.2,120 L399.9,119.8 L400.6,119.7 L401.3,119.5 L402,119.2 L402.8,119 L403.5,118.7 L404.2,118.5 L404.9,118.2 L405.6,117.8 L406.3,117.5 L407,117.1 L407.8,116.8 L408.5,116.3 L409.2,115.9 L409.9,115.5 L410.6,115 L411.3,114.5 L412.1,113.9 L412.8,113.4 L413.5,112.8 L414.2,112.2 L414.9,111.5 L415.6,110.8 L416.4,110.1 L417.1,109.4 L417.8,108.7 L418.5,107.9 L419.2,107 L419.9,106.2 L420.7,105.3 L421.4,104.4 L422.1,103.4 L422.8,102.5 L423.5,101.4 L424.2,100.4 L425,99.3 L425.7,98.2 L426.4,97 L427.1,95.8 L427.8,94.6 L428.5,93.3 L429.3,92 L430,90.7 L430.7,89.3 L431.4,87.9 L432.1,86.4 L432.8,84.9 L433.6,83.3 L434.3,81.8 L435,80.1 L435.7,78.5 L436.4,76.8 L437.1,75" fill="none" stroke="#eee37a" stroke-width="1.9" stroke-linejoin="round" stroke-linecap="round"/>
<path d="M286.6,71 L287.4,72.8 L288.1,74.6 L288.8,76.3 L289.5,77.9 L290.2,79.4 L290.9,80.8 L291.7,82.2 L292.4,83.5 L293.1,84.8 L293.8,86 L294.5,87.1 L295.2,88.2 L296,89.2 L296.7,90.2 L297.4,91.2 L298.1,92.1 L298.8,92.9 L299.5,93.8 L300.3,94.5 L301,95.3 L301.7,96 L302.4,96.7 L303.1,97.3 L303.8,97.9 L304.6,98.5 L305.3,99.1 L306,99.6 L306.7,100.1 L307.4,100.6 L308.1,101.1 L308.9,101.5 L309.6,101.9 L310.3,102.3 L311,102.7 L311.7,103.1 L312.4,103.4 L313.2,103.7 L313.9,104.1 L314.6,104.4 L315.3,104.6 L316,104.9 L316.8,105.2 L317.5,105.4 L318.2,105.7 L318.9,105.9 L319.6,106.1 L320.3,106.3 L321,106.5 L321.8,106.7 L322.5,106.9 L323.2,107 L323.9,107.2 L324.6,107.4 L325.3,107.5 L326.1,107.6 L326.8,107.8 L327.5,107.9 L328.2,108 L328.9,108.1 L329.6,108.2 L330.4,108.2 L331.1,108.3 L331.8,108.3 L332.5,108.2 L333.2,108.2 L333.9,108 L334.7,107.8 L335.4,107.5 L336.1,107 L336.8,106.4 L337.5,105.6 L338.2,104.6 L339,103.3 L339.7,101.6 L340.4,99.7 L341.1,97.3 L341.8,94.6 L342.5,91.4 L343.3,87.7 L344,83.6 L344.7,79 L345.4,74.1 L346.1,68.8 L346.8,63.3 L347.6,57.6 L348.3,51.9 L349,46.3 L349.7,41 L350.4,36.1 L351.1,31.8 L351.9,28.1 L352.6,25.3 L353.3,23.4 L354,22.5 L354.7,22.5 L355.4,23.4 L356.2,24.9 L356.9,27.1 L357.6,29.9 L358.3,33.2 L359,37.1 L359.8,41.3 L360.5,45.9 L361.2,50.6 L361.9,55.5 L362.6,60.5 L363.3,65.4 L364,70.3 L364.8,74.9 L365.5,79.4 L366.2,83.6 L366.9,87.5 L367.6,91.1 L368.3,94.4 L369.1,97.4 L369.8,100.1 L370.5,102.5 L371.2,104.6 L371.9,106.4 L372.6,108 L373.4,109.4 L374.1,110.6 L374.8,111.6 L375.5,112.4 L376.2,113.2 L376.9,113.8 L377.7,114.4 L378.4,114.8 L379.1,115.2 L379.8,115.6 L380.5,115.9 L381.2,116.2 L382,116.4 L382.7,116.6 L383.4,116.8 L384.1,117 L384.8,117.2 L385.5,117.3 L386.3,117.4 L387,117.6 L387.7,117.7 L388.4,117.8 L389.1,117.8 L389.9,117.9 L390.6,117.9 L391.3,118 L392,118 L392.7,118 L393.4,118 L394.1,118 L394.9,117.9 L395.6,117.8 L396.3,117.8 L397,117.7 L397.7,117.5 L398.4,117.4 L399.2,117.2 L399.9,117.1 L400.6,116.9 L401.3,116.7 L402,116.4 L402.8,116.2 L403.5,115.9 L404.2,115.6 L404.9,115.3 L405.6,114.9 L406.3,114.6 L407,114.2 L407.8,113.7 L408.5,113.3 L409.2,112.8 L409.9,112.3 L410.6,111.8 L411.3,111.3 L412.1,110.7 L412.8,110.1 L413.5,109.5 L414.2,108.8 L414.9,108.1 L415.6,107.4 L416.4,106.6 L417.1,105.8 L417.8,105 L418.5,104.2 L419.2,103.3 L419.9,102.3 L420.7,101.4 L421.4,100.4 L422.1,99.4 L422.8,98.3 L423.5,97.2 L424.2,96.1 L425,94.9 L425.7,93.7 L426.4,92.4 L427.1,91.2 L427.8,89.8 L428.5,88.5 L429.3,87.1 L430,85.6 L430.7,84.1 L431.4,82.6 L432.1,81 L432.8,79.4 L433.6,77.7 L434.3,76 L435,74.2 L435.7,72.4 L436.4,70.6 L437.1,68.7" fill="none" stroke="#e3a21a" stroke-width="1.9" stroke-linejoin="round" stroke-linecap="round"/>
<rect x="276" y="8.4" width="172.3" height="141.1" fill="none" stroke="#111" stroke-width="1.2"/>
<line x1="297.4" y1="149.5" x2="297.4" y2="152.3" stroke="#111" stroke-width="1"/>
<text x="297.4" y="160" font-size="7.5" text-anchor="middle" >0.0</text>
<line x1="340.4" y1="149.5" x2="340.4" y2="152.3" stroke="#111" stroke-width="1"/>
<text x="340.4" y="160" font-size="7.5" text-anchor="middle" >0.2</text>
<line x1="383.4" y1="149.5" x2="383.4" y2="152.3" stroke="#111" stroke-width="1"/>
<text x="383.4" y="160" font-size="7.5" text-anchor="middle" >0.4</text>
<line x1="426.4" y1="149.5" x2="426.4" y2="152.3" stroke="#111" stroke-width="1"/>
<text x="426.4" y="160" font-size="7.5" text-anchor="middle" >0.6</text>
<line x1="273.1" y1="18.4" x2="276" y2="18.4" stroke="#111" stroke-width="1"/>
<text x="271" y="21.4" font-size="7.2" text-anchor="end" >8.0×10<tspan font-size="5" dy="-3.2">-6</tspan></text>
<line x1="273.1" y1="55.6" x2="276" y2="55.6" stroke="#111" stroke-width="1"/>
<text x="271" y="58.6" font-size="7.2" text-anchor="end" >6.0×10<tspan font-size="5" dy="-3.2">-6</tspan></text>
<line x1="273.1" y1="92.8" x2="276" y2="92.8" stroke="#111" stroke-width="1"/>
<text x="271" y="95.8" font-size="7.2" text-anchor="end" >4.0×10<tspan font-size="5" dy="-3.2">-6</tspan></text>
<line x1="273.1" y1="130.4" x2="276" y2="130.4" stroke="#111" stroke-width="1"/>
<text x="271" y="133.4" font-size="7.2" text-anchor="end" >2.0×10<tspan font-size="5" dy="-3.2">-6</tspan></text>
<text transform="translate(240.3,78.6) rotate(-90)" font-size="11.3" text-anchor="middle">Current, I (A)</text>
<text x="361" y="175" font-size="11.5" text-anchor="middle" >Potential, E (V)</text>
<rect x="240.6" y="161.6" width="15.4" height="13.9" fill="#ffff00"/>
<text x="248.7" y="172.7" font-size="12.6" text-anchor="middle" >(b)</text>
<line x1="356" y1="39" x2="383.5" y2="23.5" stroke="#555" stroke-width="0.6"/>
<path d="M383.5,23.5 L381.4,26.2 L380.1,23.9 Z" fill="#222"/>
<text x="385.6" y="25.8" font-size="7.5">1<tspan font-style="normal">μ</tspan>M PA</text>
<line x1="356" y1="120.4" x2="384" y2="99" stroke="#555" stroke-width="0.6"/>
<path d="M384,99 L382.2,102 L380.7,99.9 Z" fill="#222"/>
<text x="386.8" y="98.8" font-size="7.5">0.1<tspan font-style="normal">μ</tspan>M PA</text>
<path d="M520.1,139.2 L520.6,139.2 L521,139.2 L521.5,139.2 L522,139.2 L522.4,139.2 L522.9,139.2 L523.4,139.2 L523.8,139.2 L524.3,139.2 L524.8,139.2 L525.2,139.2 L525.7,139.2 L526.1,139.2 L526.6,139.2 L527.1,139.2 L527.5,139.2 L528,139.2 L528.5,139.2 L528.9,139.2 L529.4,139.2 L529.9,139.2 L530.3,139.2 L530.8,139.2 L531.3,139.2 L531.7,139.2 L532.2,139.2 L532.7,139.2 L533.1,139.2 L533.6,139.2 L534,139.2 L534.5,139.2 L535,139.2 L535.4,139.2 L535.9,139.2 L536.4,139.2 L536.8,139.2 L537.3,139.2 L537.8,139.2 L538.2,139.2 L538.7,139.2 L539.2,139.2 L539.6,139.2 L540.1,139.2 L540.6,139.2 L541,139.2 L541.5,139.2 L542,139.2 L542.4,139.2 L542.9,139.2 L543.4,139.2 L543.8,139.2 L544.3,139.2 L544.7,139.2 L545.2,139.2 L545.7,139.2 L546.1,139.2 L546.6,139.2 L547.1,139.2 L547.5,139.2 L548,139.2 L548.5,139.2 L548.9,139.2 L549.4,139.2 L549.9,139.2 L550.3,139.2 L550.8,139.2 L551.3,139.2 L551.7,139.2 L552.2,139.2 L552.6,139.2 L553.1,139.2 L553.6,139.2 L554,139.2 L554.5,139.2 L555,139.2 L555.4,139.2 L555.9,139.2 L556.4,139.2 L556.8,139.2 L557.3,139.2 L557.8,139.2 L558.2,139.2 L558.7,139.2 L559.2,139.2 L559.6,139.2 L560.1,139.2 L560.6,139.2 L561,139.2 L561.5,139.2 L562,139.2 L562.4,139.2 L562.9,139.2 L563.3,139.2 L563.8,139.2 L564.3,139.2 L564.7,139.2 L565.2,139.2 L565.7,139.2 L566.1,139.2 L566.6,139.2 L567.1,139.2 L567.5,139.2 L568,139.2 L568.5,139.2 L568.9,139.2 L569.4,139.2 L569.9,139.2 L570.3,139.2 L570.8,139.2 L571.2,139.2 L571.7,139.2 L572.2,139.2 L572.6,139.2 L573.1,139.2 L573.6,139.2 L574,139.2 L574.5,139.2 L575,139.2 L575.4,139.2 L575.9,139.2 L576.4,139.2 L576.8,139.2 L577.3,139.2 L577.8,139.2 L578.2,139.2 L578.7,139.2 L579.2,139.2 L579.6,139.1 L580.1,139.1 L580.5,139.1 L581,139.1 L581.5,139 L581.9,139 L582.4,138.9 L582.9,138.9 L583.3,138.8 L583.8,138.7 L584.3,138.6 L584.7,138.4 L585.2,138.2 L585.7,138 L586.1,137.8 L586.6,137.5 L587.1,137.2 L587.5,136.9 L588,136.5 L588.5,136 L588.9,135.5 L589.4,134.9 L589.9,134.3 L590.3,133.6 L590.8,132.9 L591.2,132.1 L591.7,131.2 L592.2,130.3 L592.6,129.3 L593.1,128.3 L593.6,127.3 L594,126.2 L594.5,125.1 L595,124 L595.4,122.9 L595.9,121.9 L596.4,120.9 L596.8,119.9 L597.3,119 L597.8,118.2 L598.2,117.5 L598.7,116.9 L599.1,116.4 L599.6,116 L600.1,115.7 L600.5,115.6 L601,115.6 L601.5,115.7 L601.9,115.9 L602.4,116.2 L602.9,116.6 L603.3,117.1 L603.8,117.6 L604.3,118.2 L604.7,118.9 L605.2,119.7 L605.7,120.5 L606.1,121.3 L606.6,122.2 L607.1,123.1 L607.5,124 L608,124.9 L608.5,125.8 L608.9,126.7 L609.4,127.6 L609.8,128.5 L610.3,129.3 L610.8,130.2 L611.2,130.9 L611.7,131.7 L612.2,132.4 L612.6,133.1 L613.1,133.7 L613.6,134.3 L614,134.8 L614.5,135.3 L615,135.8 L615.4,136.2 L615.9,136.5 L616.4,136.9 L616.8,137.2 L617.3,137.5 L617.8,137.7 L618.2,137.9 L618.7,138 L619.1,138.1 L619.6,138.2 L620.1,138.3 L620.5,138.4 L621,138.4 L621.5,138.5 L621.9,138.5 L622.4,138.5 L622.9,138.5 L623.3,138.5 L623.8,138.5 L624.3,138.5 L624.7,138.5 L625.2,138.5 L625.7,138.4 L626.1,138.4 L626.6,138.4 L627,138.3 L627.5,138.2 L628,138.2 L628.4,138 L628.9,137.9 L629.4,137.8 L629.8,137.6 L630.3,137.5 L630.8,137.4 L631.2,137.3 L631.7,137.3 L632.2,137.4 L632.6,137.5 L633.1,137.7 L633.6,137.8 L634,137.9 L634.5,138 L635,138.1 L635.4,138.1 L635.9,138.1 L636.4,138.1 L636.8,138.1 L637.3,138.1 L637.7,138.1 L638.2,138.1 L638.7,138 L639.1,138 L639.6,137.9 L640.1,137.8 L640.5,137.8 L641,137.7 L641.5,137.7 L641.9,137.6 L642.4,137.6 L642.9,137.6 L643.3,137.6 L643.8,137.6 L644.3,137.7 L644.7,137.7 L645.2,137.8 L645.6,137.9 L646.1,137.9 L646.6,138 L647,138.2 L647.5,138.4 L648,138.6 L648.4,138.9 L648.9,139.2 L649.4,139.5 L649.8,139.8 L650.3,139.9 L650.8,140 L651.2,139.9 L651.7,139.7 L652.2,139.4 L652.6,139.1 L653.1,138.8 L653.6,138.6 L654,138.4 L654.5,138.3 L655,138.3 L655.4,138.2 L655.9,138.2 L656.3,138.2 L656.8,138.2 L657.3,138.2 L657.7,138.2 L658.2,138.2 L658.7,138.2 L659.1,138.2 L659.6,138.2" fill="none" stroke="#ff1414" stroke-width="2.1" stroke-linejoin="round" stroke-linecap="round"/>
<path d="M520.1,138.8 L520.6,138.8 L521,138.8 L521.5,138.8 L522,138.8 L522.4,138.8 L522.9,138.8 L523.4,138.8 L523.8,138.8 L524.3,138.8 L524.8,138.8 L525.2,138.8 L525.7,138.8 L526.1,138.8 L526.6,138.8 L527.1,138.8 L527.5,138.8 L528,138.8 L528.5,138.8 L528.9,138.8 L529.4,138.8 L529.9,138.8 L530.3,138.8 L530.8,138.8 L531.3,138.8 L531.7,138.8 L532.2,138.8 L532.7,138.8 L533.1,138.8 L533.6,138.8 L534,138.8 L534.5,138.8 L535,138.8 L535.4,138.8 L535.9,138.8 L536.4,138.8 L536.8,138.8 L537.3,138.8 L537.8,138.8 L538.2,138.8 L538.7,138.8 L539.2,138.8 L539.6,138.8 L540.1,138.8 L540.6,138.8 L541,138.8 L541.5,138.8 L542,138.8 L542.4,138.8 L542.9,138.8 L543.4,138.8 L543.8,138.8 L544.3,138.8 L544.7,138.8 L545.2,138.8 L545.7,138.8 L546.1,138.8 L546.6,138.8 L547.1,138.8 L547.5,138.8 L548,138.8 L548.5,138.8 L548.9,138.8 L549.4,138.8 L549.9,138.8 L550.3,138.8 L550.8,138.8 L551.3,138.8 L551.7,138.8 L552.2,138.8 L552.6,138.8 L553.1,138.8 L553.6,138.8 L554,138.8 L554.5,138.8 L555,138.8 L555.4,138.8 L555.9,138.8 L556.4,138.8 L556.8,138.8 L557.3,138.8 L557.8,138.8 L558.2,138.8 L558.7,138.8 L559.2,138.8 L559.6,138.8 L560.1,138.8 L560.6,138.8 L561,138.8 L561.5,138.8 L562,138.8 L562.4,138.8 L562.9,138.8 L563.3,138.8 L563.8,138.8 L564.3,138.8 L564.7,138.8 L565.2,138.8 L565.7,138.8 L566.1,138.8 L566.6,138.8 L567.1,138.8 L567.5,138.8 L568,138.8 L568.5,138.8 L568.9,138.8 L569.4,138.8 L569.9,138.8 L570.3,138.8 L570.8,138.8 L571.2,138.8 L571.7,138.8 L572.2,138.8 L572.6,138.8 L573.1,138.8 L573.6,138.8 L574,138.8 L574.5,138.8 L575,138.8 L575.4,138.8 L575.9,138.8 L576.4,138.8 L576.8,138.8 L577.3,138.8 L577.8,138.8 L578.2,138.8 L578.7,138.8 L579.2,138.7 L579.6,138.7 L580.1,138.7 L580.5,138.7 L581,138.6 L581.5,138.6 L581.9,138.5 L582.4,138.5 L582.9,138.4 L583.3,138.3 L583.8,138.1 L584.3,138 L584.7,137.8 L585.2,137.6 L585.7,137.4 L586.1,137.1 L586.6,136.7 L587.1,136.4 L587.5,135.9 L588,135.4 L588.5,134.8 L588.9,134.2 L589.4,133.5 L589.9,132.7 L590.3,131.9 L590.8,131 L591.2,130 L591.7,128.9 L592.2,127.7 L592.6,126.6 L593.1,125.3 L593.6,124 L594,122.7 L594.5,121.4 L595,120 L595.4,118.7 L595.9,117.4 L596.4,116.1 L596.8,115 L597.3,113.8 L597.8,112.8 L598.2,111.9 L598.7,111.2 L599.1,110.6 L599.6,110.1 L600.1,109.8 L600.5,109.6 L601,109.6 L601.5,109.8 L601.9,110 L602.4,110.4 L602.9,110.8 L603.3,111.4 L603.8,112.1 L604.3,112.9 L604.7,113.7 L605.2,114.6 L605.7,115.6 L606.1,116.7 L606.6,117.7 L607.1,118.8 L607.5,120 L608,121.1 L608.5,122.2 L608.9,123.3 L609.4,124.5 L609.8,125.5 L610.3,126.6 L610.8,127.6 L611.2,128.6 L611.7,129.5 L612.2,130.4 L612.6,131.2 L613.1,132 L613.6,132.7 L614,133.4 L614.5,134 L615,134.5 L615.4,135 L615.9,135.5 L616.4,135.9 L616.8,136.3 L617.3,136.6 L617.8,136.9 L618.2,137.2 L618.7,137.3 L619.1,137.5 L619.6,137.6 L620.1,137.8 L620.5,137.8 L621,137.9 L621.5,138 L621.9,138 L622.4,138 L622.9,138.1 L623.3,138.1 L623.8,138.1 L624.3,138.1 L624.7,138.1 L625.2,138 L625.7,138 L626.1,138 L626.6,137.9 L627,137.9 L627.5,137.8 L628,137.8 L628.4,137.6 L628.9,137.5 L629.4,137.4 L629.8,137.2 L630.3,137.1 L630.8,137 L631.2,136.9 L631.7,136.9 L632.2,137 L632.6,137.1 L633.1,137.3 L633.6,137.4 L634,137.5 L634.5,137.6 L635,137.7 L635.4,137.7 L635.9,137.7 L636.4,137.7 L636.8,137.7 L637.3,137.7 L637.7,137.7 L638.2,137.7 L638.7,137.6 L639.1,137.6 L639.6,137.5 L640.1,137.4 L640.5,137.4 L641,137.3 L641.5,137.3 L641.9,137.2 L642.4,137.2 L642.9,137.2 L643.3,137.2 L643.8,137.2 L644.3,137.3 L644.7,137.3 L645.2,137.4 L645.6,137.5 L646.1,137.5 L646.6,137.6 L647,137.8 L647.5,138 L648,138.2 L648.4,138.5 L648.9,138.8 L649.4,139.1 L649.8,139.4 L650.3,139.5 L650.8,139.6 L651.2,139.5 L651.7,139.3 L652.2,139 L652.6,138.7 L653.1,138.4 L653.6,138.2 L654,138 L654.5,137.9 L655,137.9 L655.4,137.8 L655.9,137.8 L656.3,137.8 L656.8,137.8 L657.3,137.8 L657.7,137.8 L658.2,137.8 L658.7,137.8 L659.1,137.8 L659.6,137.8" fill="none" stroke="#1414ff" stroke-width="2.1" stroke-linejoin="round" stroke-linecap="round"/>
<path d="M520.1,138.4 L520.6,138.4 L521,138.4 L521.5,138.4 L522,138.4 L522.4,138.4 L522.9,138.4 L523.4,138.4 L523.8,138.4 L524.3,138.4 L524.8,138.4 L525.2,138.4 L525.7,138.4 L526.1,138.4 L526.6,138.4 L527.1,138.4 L527.5,138.4 L528,138.4 L528.5,138.4 L528.9,138.4 L529.4,138.4 L529.9,138.4 L530.3,138.4 L530.8,138.4 L531.3,138.4 L531.7,138.4 L532.2,138.4 L532.7,138.4 L533.1,138.4 L533.6,138.4 L534,138.4 L534.5,138.4 L535,138.4 L535.4,138.4 L535.9,138.4 L536.4,138.4 L536.8,138.4 L537.3,138.4 L537.8,138.4 L538.2,138.4 L538.7,138.4 L539.2,138.4 L539.6,138.4 L540.1,138.4 L540.6,138.4 L541,138.4 L541.5,138.4 L542,138.4 L542.4,138.4 L542.9,138.4 L543.4,138.4 L543.8,138.4 L544.3,138.4 L544.7,138.4 L545.2,138.4 L545.7,138.4 L546.1,138.4 L546.6,138.4 L547.1,138.4 L547.5,138.4 L548,138.4 L548.5,138.4 L548.9,138.4 L549.4,138.4 L549.9,138.4 L550.3,138.4 L550.8,138.4 L551.3,138.4 L551.7,138.4 L552.2,138.4 L552.6,138.4 L553.1,138.4 L553.6,138.4 L554,138.4 L554.5,138.4 L555,138.4 L555.4,138.4 L555.9,138.4 L556.4,138.4 L556.8,138.4 L557.3,138.4 L557.8,138.4 L558.2,138.4 L558.7,138.4 L559.2,138.4 L559.6,138.4 L560.1,138.4 L560.6,138.4 L561,138.4 L561.5,138.4 L562,138.4 L562.4,138.4 L562.9,138.4 L563.3,138.4 L563.8,138.4 L564.3,138.4 L564.7,138.4 L565.2,138.4 L565.7,138.4 L566.1,138.4 L566.6,138.4 L567.1,138.4 L567.5,138.4 L568,138.4 L568.5,138.4 L568.9,138.4 L569.4,138.4 L569.9,138.4 L570.3,138.4 L570.8,138.4 L571.2,138.4 L571.7,138.4 L572.2,138.4 L572.6,138.4 L573.1,138.4 L573.6,138.4 L574,138.4 L574.5,138.4 L575,138.4 L575.4,138.4 L575.9,138.4 L576.4,138.4 L576.8,138.4 L577.3,138.4 L577.8,138.4 L578.2,138.3 L578.7,138.3 L579.2,138.3 L579.6,138.3 L580.1,138.3 L580.5,138.2 L581,138.2 L581.5,138.1 L581.9,138 L582.4,137.9 L582.9,137.8 L583.3,137.6 L583.8,137.5 L584.3,137.3 L584.7,137 L585.2,136.7 L585.7,136.3 L586.1,135.9 L586.6,135.5 L587.1,134.9 L587.5,134.3 L588,133.6 L588.5,132.7 L588.9,131.8 L589.4,130.8 L589.9,129.7 L590.3,128.5 L590.8,127.2 L591.2,125.7 L591.7,124.2 L592.2,122.6 L592.6,120.9 L593.1,119.1 L593.6,117.2 L594,115.3 L594.5,113.4 L595,111.5 L595.4,109.6 L595.9,107.8 L596.4,106 L596.8,104.3 L597.3,102.7 L597.8,101.2 L598.2,100 L598.7,98.9 L599.1,98 L599.6,97.3 L600.1,96.8 L600.5,96.6 L601,96.6 L601.5,96.8 L601.9,97.2 L602.4,97.7 L602.9,98.4 L603.3,99.2 L603.8,100.2 L604.3,101.3 L604.7,102.5 L605.2,103.8 L605.7,105.2 L606.1,106.7 L606.6,108.2 L607.1,109.8 L607.5,111.4 L608,113 L608.5,114.7 L608.9,116.3 L609.4,117.9 L609.8,119.4 L610.3,120.9 L610.8,122.4 L611.2,123.8 L611.7,125.1 L612.2,126.3 L612.6,127.5 L613.1,128.6 L613.6,129.7 L614,130.6 L614.5,131.5 L615,132.3 L615.4,133 L615.9,133.7 L616.4,134.3 L616.8,134.8 L617.3,135.3 L617.8,135.7 L618.2,136.1 L618.7,136.4 L619.1,136.6 L619.6,136.8 L620.1,137 L620.5,137.1 L621,137.3 L621.5,137.4 L621.9,137.4 L622.4,137.5 L622.9,137.5 L623.3,137.6 L623.8,137.6 L624.3,137.6 L624.7,137.6 L625.2,137.6 L625.7,137.6 L626.1,137.6 L626.6,137.5 L627,137.5 L627.5,137.4 L628,137.3 L628.4,137.2 L628.9,137.1 L629.4,137 L629.8,136.8 L630.3,136.7 L630.8,136.6 L631.2,136.5 L631.7,136.5 L632.2,136.6 L632.6,136.7 L633.1,136.9 L633.6,137 L634,137.1 L634.5,137.2 L635,137.3 L635.4,137.3 L635.9,137.3 L636.4,137.3 L636.8,137.3 L637.3,137.3 L637.7,137.3 L638.2,137.3 L638.7,137.2 L639.1,137.2 L639.6,137.1 L640.1,137 L640.5,137 L641,136.9 L641.5,136.9 L641.9,136.8 L642.4,136.8 L642.9,136.8 L643.3,136.8 L643.8,136.8 L644.3,136.9 L644.7,136.9 L645.2,137 L645.6,137.1 L646.1,137.1 L646.6,137.2 L647,137.4 L647.5,137.6 L648,137.8 L648.4,138.1 L648.9,138.4 L649.4,138.7 L649.8,139 L650.3,139.1 L650.8,139.2 L651.2,139.1 L651.7,138.9 L652.2,138.6 L652.6,138.3 L653.1,138 L653.6,137.8 L654,137.6 L654.5,137.5 L655,137.5 L655.4,137.4 L655.9,137.4 L656.3,137.4 L656.8,137.4 L657.3,137.4 L657.7,137.4 L658.2,137.4 L658.7,137.4 L659.1,137.4 L659.6,137.4" fill="none" stroke="#ff5ab4" stroke-width="2.1" stroke-linejoin="round" stroke-linecap="round"/>
<path d="M520.1,138 L520.6,138 L521,138 L521.5,138 L522,138 L522.4,138 L522.9,138 L523.4,138 L523.8,138 L524.3,138 L524.8,138 L525.2,138 L525.7,138 L526.1,138 L526.6,138 L527.1,138 L527.5,138 L528,138 L528.5,138 L528.9,138 L529.4,138 L529.9,138 L530.3,138 L530.8,138 L531.3,138 L531.7,138 L532.2,138 L532.7,138 L533.1,138 L533.6,138 L534,138 L534.5,138 L535,138 L535.4,138 L535.9,138 L536.4,138 L536.8,138 L537.3,138 L537.8,138 L538.2,138 L538.7,138 L539.2,138 L539.6,138 L540.1,138 L540.6,138 L541,138 L541.5,138 L542,138 L542.4,138 L542.9,138 L543.4,138 L543.8,138 L544.3,138 L544.7,138 L545.2,138 L545.7,138 L546.1,138 L546.6,138 L547.1,138 L547.5,138 L548,138 L548.5,138 L548.9,138 L549.4,138 L549.9,138 L550.3,138 L550.8,138 L551.3,138 L551.7,138 L552.2,138 L552.6,138 L553.1,138 L553.6,138 L554,138 L554.5,138 L555,138 L555.4,138 L555.9,138 L556.4,138 L556.8,138 L557.3,138 L557.8,138 L558.2,138 L558.7,138 L559.2,138 L559.6,138 L560.1,138 L560.6,138 L561,138 L561.5,138 L562,138 L562.4,138 L562.9,138 L563.3,138 L563.8,138 L564.3,138 L564.7,138 L565.2,138 L565.7,138 L566.1,138 L566.6,138 L567.1,138 L567.5,138 L568,138 L568.5,138 L568.9,138 L569.4,138 L569.9,138 L570.3,138 L570.8,138 L571.2,138 L571.7,138 L572.2,138 L572.6,138 L573.1,138 L573.6,138 L574,138 L574.5,138 L575,138 L575.4,138 L575.9,138 L576.4,138 L576.8,138 L577.3,138 L577.8,138 L578.2,137.9 L578.7,137.9 L579.2,137.9 L579.6,137.9 L580.1,137.8 L580.5,137.8 L581,137.7 L581.5,137.6 L581.9,137.6 L582.4,137.4 L582.9,137.3 L583.3,137.1 L583.8,136.9 L584.3,136.7 L584.7,136.4 L585.2,136 L585.7,135.6 L586.1,135.1 L586.6,134.6 L587.1,133.9 L587.5,133.2 L588,132.4 L588.5,131.4 L588.9,130.4 L589.4,129.2 L589.9,127.9 L590.3,126.5 L590.8,124.9 L591.2,123.3 L591.7,121.5 L592.2,119.6 L592.6,117.6 L593.1,115.5 L593.6,113.4 L594,111.2 L594.5,109 L595,106.7 L595.4,104.5 L595.9,102.4 L596.4,100.3 L596.8,98.3 L597.3,96.5 L597.8,94.8 L598.2,93.3 L598.7,92 L599.1,91 L599.6,90.2 L600.1,89.7 L600.5,89.4 L601,89.4 L601.5,89.7 L601.9,90.1 L602.4,90.7 L602.9,91.5 L603.3,92.4 L603.8,93.6 L604.3,94.8 L604.7,96.3 L605.2,97.8 L605.7,99.4 L606.1,101.1 L606.6,102.9 L607.1,104.8 L607.5,106.6 L608,108.5 L608.5,110.4 L608.9,112.3 L609.4,114.1 L609.8,115.9 L610.3,117.7 L610.8,119.4 L611.2,121 L611.7,122.5 L612.2,124 L612.6,125.4 L613.1,126.6 L613.6,127.8 L614,128.9 L614.5,130 L615,130.9 L615.4,131.8 L615.9,132.5 L616.4,133.2 L616.8,133.8 L617.3,134.4 L617.8,134.9 L618.2,135.3 L618.7,135.6 L619.1,135.9 L619.6,136.2 L620.1,136.4 L620.5,136.6 L621,136.7 L621.5,136.9 L621.9,136.9 L622.4,137 L622.9,137.1 L623.3,137.1 L623.8,137.1 L624.3,137.2 L624.7,137.2 L625.2,137.2 L625.7,137.2 L626.1,137.1 L626.6,137.1 L627,137.1 L627.5,137 L628,136.9 L628.4,136.8 L628.9,136.7 L629.4,136.6 L629.8,136.4 L630.3,136.3 L630.8,136.2 L631.2,136.1 L631.7,136.1 L632.2,136.2 L632.6,136.3 L633.1,136.5 L633.6,136.6 L634,136.7 L634.5,136.8 L635,136.9 L635.4,136.9 L635.9,136.9 L636.4,136.9 L636.8,136.9 L637.3,136.9 L637.7,136.9 L638.2,136.9 L638.7,136.8 L639.1,136.8 L639.6,136.7 L640.1,136.6 L640.5,136.6 L641,136.5 L641.5,136.5 L641.9,136.4 L642.4,136.4 L642.9,136.4 L643.3,136.4 L643.8,136.4 L644.3,136.5 L644.7,136.5 L645.2,136.6 L645.6,136.7 L646.1,136.7 L646.6,136.8 L647,137 L647.5,137.2 L648,137.4 L648.4,137.7 L648.9,138 L649.4,138.3 L649.8,138.6 L650.3,138.7 L650.8,138.8 L651.2,138.7 L651.7,138.5 L652.2,138.2 L652.6,137.9 L653.1,137.6 L653.6,137.4 L654,137.2 L654.5,137.1 L655,137.1 L655.4,137 L655.9,137 L656.3,137 L656.8,137 L657.3,137 L657.7,137 L658.2,137 L658.7,137 L659.1,137 L659.6,137" fill="none" stroke="#128080" stroke-width="2.1" stroke-linejoin="round" stroke-linecap="round"/>
<path d="M520.1,137.8 L520.6,137.8 L521,137.8 L521.5,137.8 L522,137.8 L522.4,137.8 L522.9,137.8 L523.4,137.8 L523.8,137.8 L524.3,137.8 L524.8,137.8 L525.2,137.8 L525.7,137.8 L526.1,137.8 L526.6,137.8 L527.1,137.8 L527.5,137.8 L528,137.8 L528.5,137.8 L528.9,137.8 L529.4,137.8 L529.9,137.8 L530.3,137.8 L530.8,137.8 L531.3,137.8 L531.7,137.8 L532.2,137.8 L532.7,137.8 L533.1,137.8 L533.6,137.8 L534,137.8 L534.5,137.8 L535,137.8 L535.4,137.8 L535.9,137.8 L536.4,137.8 L536.8,137.8 L537.3,137.8 L537.8,137.8 L538.2,137.8 L538.7,137.8 L539.2,137.8 L539.6,137.8 L540.1,137.8 L540.6,137.8 L541,137.8 L541.5,137.8 L542,137.8 L542.4,137.8 L542.9,137.8 L543.4,137.8 L543.8,137.8 L544.3,137.8 L544.7,137.8 L545.2,137.8 L545.7,137.8 L546.1,137.8 L546.6,137.8 L547.1,137.8 L547.5,137.8 L548,137.8 L548.5,137.8 L548.9,137.8 L549.4,137.8 L549.9,137.8 L550.3,137.8 L550.8,137.8 L551.3,137.8 L551.7,137.8 L552.2,137.8 L552.6,137.8 L553.1,137.8 L553.6,137.8 L554,137.8 L554.5,137.8 L555,137.8 L555.4,137.8 L555.9,137.8 L556.4,137.8 L556.8,137.8 L557.3,137.8 L557.8,137.8 L558.2,137.8 L558.7,137.8 L559.2,137.8 L559.6,137.8 L560.1,137.8 L560.6,137.8 L561,137.8 L561.5,137.8 L562,137.8 L562.4,137.8 L562.9,137.8 L563.3,137.8 L563.8,137.8 L564.3,137.8 L564.7,137.8 L565.2,137.8 L565.7,137.8 L566.1,137.8 L566.6,137.8 L567.1,137.8 L567.5,137.8 L568,137.8 L568.5,137.8 L568.9,137.8 L569.4,137.8 L569.9,137.8 L570.3,137.8 L570.8,137.8 L571.2,137.8 L571.7,137.8 L572.2,137.8 L572.6,137.8 L573.1,137.8 L573.6,137.8 L574,137.8 L574.5,137.8 L575,137.8 L575.4,137.8 L575.9,137.8 L576.4,137.8 L576.8,137.8 L577.3,137.8 L577.8,137.7 L578.2,137.7 L578.7,137.7 L579.2,137.7 L579.6,137.6 L580.1,137.6 L580.5,137.5 L581,137.5 L581.5,137.4 L581.9,137.3 L582.4,137.1 L582.9,137 L583.3,136.7 L583.8,136.5 L584.3,136.2 L584.7,135.8 L585.2,135.4 L585.7,134.9 L586.1,134.4 L586.6,133.7 L587.1,132.9 L587.5,132 L588,131 L588.5,129.9 L588.9,128.6 L589.4,127.2 L589.9,125.7 L590.3,124 L590.8,122.1 L591.2,120.1 L591.7,118 L592.2,115.7 L592.6,113.3 L593.1,110.8 L593.6,108.2 L594,105.6 L594.5,102.9 L595,100.2 L595.4,97.6 L595.9,95 L596.4,92.5 L596.8,90.1 L597.3,87.9 L597.8,85.9 L598.2,84.1 L598.7,82.6 L599.1,81.3 L599.6,80.4 L600.1,79.7 L600.5,79.4 L601,79.4 L601.5,79.7 L601.9,80.2 L602.4,80.9 L602.9,81.9 L603.3,83 L603.8,84.4 L604.3,85.9 L604.7,87.6 L605.2,89.5 L605.7,91.4 L606.1,93.5 L606.6,95.7 L607.1,97.9 L607.5,100.1 L608,102.4 L608.5,104.6 L608.9,106.9 L609.4,109.1 L609.8,111.3 L610.3,113.4 L610.8,115.4 L611.2,117.4 L611.7,119.2 L612.2,121 L612.6,122.6 L613.1,124.2 L613.6,125.6 L614,126.9 L614.5,128.1 L615,129.3 L615.4,130.3 L615.9,131.2 L616.4,132.1 L616.8,132.8 L617.3,133.5 L617.8,134.1 L618.2,134.6 L618.7,135 L619.1,135.3 L619.6,135.7 L620.1,135.9 L620.5,136.1 L621,136.3 L621.5,136.5 L621.9,136.6 L622.4,136.7 L622.9,136.8 L623.3,136.8 L623.8,136.9 L624.3,136.9 L624.7,136.9 L625.2,136.9 L625.7,136.9 L626.1,136.9 L626.6,136.9 L627,136.9 L627.5,136.8 L628,136.7 L628.4,136.6 L628.9,136.5 L629.4,136.4 L629.8,136.2 L630.3,136.1 L630.8,136 L631.2,135.9 L631.7,135.9 L632.2,136 L632.6,136.1 L633.1,136.3 L633.6,136.4 L634,136.5 L634.5,136.6 L635,136.7 L635.4,136.7 L635.9,136.7 L636.4,136.7 L636.8,136.7 L637.3,136.7 L637.7,136.7 L638.2,136.7 L638.7,136.6 L639.1,136.6 L639.6,136.5 L640.1,136.4 L640.5,136.4 L641,136.3 L641.5,136.3 L641.9,136.2 L642.4,136.2 L642.9,136.2 L643.3,136.2 L643.8,136.2 L644.3,136.3 L644.7,136.3 L645.2,136.4 L645.6,136.5 L646.1,136.5 L646.6,136.6 L647,136.8 L647.5,137 L648,137.2 L648.4,137.5 L648.9,137.8 L649.4,138.1 L649.8,138.4 L650.3,138.5 L650.8,138.6 L651.2,138.5 L651.7,138.3 L652.2,138 L652.6,137.7 L653.1,137.4 L653.6,137.2 L654,137 L654.5,136.9 L655,136.9 L655.4,136.8 L655.9,136.8 L656.3,136.8 L656.8,136.8 L657.3,136.8 L657.7,136.8 L658.2,136.8 L658.7,136.8 L659.1,136.8 L659.6,136.8" fill="none" stroke="#0a7a0a" stroke-width="2.1" stroke-linejoin="round" stroke-linecap="round"/>
<path d="M520.1,137.6 L520.6,137.6 L521,137.6 L521.5,137.6 L522,137.6 L522.4,137.6 L522.9,137.6 L523.4,137.6 L523.8,137.6 L524.3,137.6 L524.8,137.6 L525.2,137.6 L525.7,137.6 L526.1,137.6 L526.6,137.6 L527.1,137.6 L527.5,137.6 L528,137.6 L528.5,137.6 L528.9,137.6 L529.4,137.6 L529.9,137.6 L530.3,137.6 L530.8,137.6 L531.3,137.6 L531.7,137.6 L532.2,137.6 L532.7,137.6 L533.1,137.6 L533.6,137.6 L534,137.6 L534.5,137.6 L535,137.6 L535.4,137.6 L535.9,137.6 L536.4,137.6 L536.8,137.6 L537.3,137.6 L537.8,137.6 L538.2,137.6 L538.7,137.6 L539.2,137.6 L539.6,137.6 L540.1,137.6 L540.6,137.6 L541,137.6 L541.5,137.6 L542,137.6 L542.4,137.6 L542.9,137.6 L543.4,137.6 L543.8,137.6 L544.3,137.6 L544.7,137.6 L545.2,137.6 L545.7,137.6 L546.1,137.6 L546.6,137.6 L547.1,137.6 L547.5,137.6 L548,137.6 L548.5,137.6 L548.9,137.6 L549.4,137.6 L549.9,137.6 L550.3,137.6 L550.8,137.6 L551.3,137.6 L551.7,137.6 L552.2,137.6 L552.6,137.6 L553.1,137.6 L553.6,137.6 L554,137.6 L554.5,137.6 L555,137.6 L555.4,137.6 L555.9,137.6 L556.4,137.6 L556.8,137.6 L557.3,137.6 L557.8,137.6 L558.2,137.6 L558.7,137.6 L559.2,137.6 L559.6,137.6 L560.1,137.6 L560.6,137.6 L561,137.6 L561.5,137.6 L562,137.6 L562.4,137.6 L562.9,137.6 L563.3,137.6 L563.8,137.6 L564.3,137.6 L564.7,137.6 L565.2,137.6 L565.7,137.6 L566.1,137.6 L566.6,137.6 L567.1,137.6 L567.5,137.6 L568,137.6 L568.5,137.6 L568.9,137.6 L569.4,137.6 L569.9,137.6 L570.3,137.6 L570.8,137.6 L571.2,137.6 L571.7,137.6 L572.2,137.6 L572.6,137.6 L573.1,137.6 L573.6,137.6 L574,137.6 L574.5,137.6 L575,137.6 L575.4,137.6 L575.9,137.6 L576.4,137.6 L576.8,137.6 L577.3,137.6 L577.8,137.5 L578.2,137.5 L578.7,137.5 L579.2,137.5 L579.6,137.4 L580.1,137.4 L580.5,137.3 L581,137.2 L581.5,137.1 L581.9,137 L582.4,136.8 L582.9,136.6 L583.3,136.3 L583.8,136 L584.3,135.7 L584.7,135.3 L585.2,134.8 L585.7,134.2 L586.1,133.5 L586.6,132.7 L587.1,131.7 L587.5,130.7 L588,129.5 L588.5,128.1 L588.9,126.6 L589.4,124.9 L589.9,123.1 L590.3,121 L590.8,118.8 L591.2,116.4 L591.7,113.8 L592.2,111.1 L592.6,108.2 L593.1,105.2 L593.6,102.2 L594,99 L594.5,95.8 L595,92.6 L595.4,89.4 L595.9,86.3 L596.4,83.3 L596.8,80.4 L597.3,77.8 L597.8,75.4 L598.2,73.2 L598.7,71.4 L599.1,69.9 L599.6,68.7 L600.1,68 L600.5,67.6 L601,67.7 L601.5,68 L601.9,68.6 L602.4,69.4 L602.9,70.6 L603.3,72 L603.8,73.6 L604.3,75.4 L604.7,77.5 L605.2,79.7 L605.7,82 L606.1,84.5 L606.6,87.1 L607.1,89.7 L607.5,92.4 L608,95.1 L608.5,97.9 L608.9,100.6 L609.4,103.2 L609.8,105.8 L610.3,108.3 L610.8,110.8 L611.2,113.1 L611.7,115.3 L612.2,117.4 L612.6,119.4 L613.1,121.2 L613.6,123 L614,124.6 L614.5,126 L615,127.4 L615.4,128.6 L615.9,129.7 L616.4,130.7 L616.8,131.6 L617.3,132.4 L617.8,133.1 L618.2,133.7 L618.7,134.2 L619.1,134.7 L619.6,135.1 L620.1,135.4 L620.5,135.7 L621,135.9 L621.5,136.1 L621.9,136.2 L622.4,136.4 L622.9,136.5 L623.3,136.6 L623.8,136.6 L624.3,136.7 L624.7,136.7 L625.2,136.7 L625.7,136.7 L626.1,136.7 L626.6,136.7 L627,136.6 L627.5,136.6 L628,136.5 L628.4,136.4 L628.9,136.3 L629.4,136.2 L629.8,136 L630.3,135.9 L630.8,135.8 L631.2,135.7 L631.7,135.7 L632.2,135.8 L632.6,135.9 L633.1,136.1 L633.6,136.2 L634,136.3 L634.5,136.4 L635,136.5 L635.4,136.5 L635.9,136.5 L636.4,136.5 L636.8,136.5 L637.3,136.5 L637.7,136.5 L638.2,136.5 L638.7,136.4 L639.1,136.4 L639.6,136.3 L640.1,136.2 L640.5,136.2 L641,136.1 L641.5,136.1 L641.9,136 L642.4,136 L642.9,136 L643.3,136 L643.8,136 L644.3,136.1 L644.7,136.1 L645.2,136.2 L645.6,136.3 L646.1,136.3 L646.6,136.4 L647,136.6 L647.5,136.8 L648,137 L648.4,137.3 L648.9,137.6 L649.4,137.9 L649.8,138.2 L650.3,138.3 L650.8,138.4 L651.2,138.3 L651.7,138.1 L652.2,137.8 L652.6,137.5 L653.1,137.2 L653.6,137 L654,136.8 L654.5,136.7 L655,136.7 L655.4,136.6 L655.9,136.6 L656.3,136.6 L656.8,136.6 L657.3,136.6 L657.7,136.6 L658.2,136.6 L658.7,136.6 L659.1,136.6 L659.6,136.6" fill="none" stroke="#8b0000" stroke-width="2.1" stroke-linejoin="round" stroke-linecap="round"/>
<path d="M520.1,137.4 L520.6,137.4 L521,137.4 L521.5,137.4 L522,137.4 L522.4,137.4 L522.9,137.4 L523.4,137.4 L523.8,137.4 L524.3,137.4 L524.8,137.4 L525.2,137.4 L525.7,137.4 L526.1,137.4 L526.6,137.4 L527.1,137.4 L527.5,137.4 L528,137.4 L528.5,137.4 L528.9,137.4 L529.4,137.4 L529.9,137.4 L530.3,137.4 L530.8,137.4 L531.3,137.4 L531.7,137.4 L532.2,137.4 L532.7,137.4 L533.1,137.4 L533.6,137.4 L534,137.4 L534.5,137.4 L535,137.4 L535.4,137.4 L535.9,137.4 L536.4,137.4 L536.8,137.4 L537.3,137.4 L537.8,137.4 L538.2,137.4 L538.7,137.4 L539.2,137.4 L539.6,137.4 L540.1,137.4 L540.6,137.4 L541,137.4 L541.5,137.4 L542,137.4 L542.4,137.4 L542.9,137.4 L543.4,137.4 L543.8,137.4 L544.3,137.4 L544.7,137.4 L545.2,137.4 L545.7,137.4 L546.1,137.4 L546.6,137.4 L547.1,137.4 L547.5,137.4 L548,137.4 L548.5,137.4 L548.9,137.4 L549.4,137.4 L549.9,137.4 L550.3,137.4 L550.8,137.4 L551.3,137.4 L551.7,137.4 L552.2,137.4 L552.6,137.4 L553.1,137.4 L553.6,137.4 L554,137.4 L554.5,137.4 L555,137.4 L555.4,137.4 L555.9,137.4 L556.4,137.4 L556.8,137.4 L557.3,137.4 L557.8,137.4 L558.2,137.4 L558.7,137.4 L559.2,137.4 L559.6,137.4 L560.1,137.4 L560.6,137.4 L561,137.4 L561.5,137.4 L562,137.4 L562.4,137.4 L562.9,137.4 L563.3,137.4 L563.8,137.4 L564.3,137.4 L564.7,137.4 L565.2,137.4 L565.7,137.4 L566.1,137.4 L566.6,137.4 L567.1,137.4 L567.5,137.4 L568,137.4 L568.5,137.4 L568.9,137.4 L569.4,137.4 L569.9,137.4 L570.3,137.4 L570.8,137.4 L571.2,137.4 L571.7,137.4 L572.2,137.4 L572.6,137.4 L573.1,137.4 L573.6,137.4 L574,137.4 L574.5,137.4 L575,137.4 L575.4,137.4 L575.9,137.4 L576.4,137.4 L576.8,137.4 L577.3,137.3 L577.8,137.3 L578.2,137.3 L578.7,137.3 L579.2,137.2 L579.6,137.2 L580.1,137.1 L580.5,137 L581,136.9 L581.5,136.8 L581.9,136.7 L582.4,136.5 L582.9,136.3 L583.3,136 L583.8,135.6 L584.3,135.2 L584.7,134.8 L585.2,134.2 L585.7,133.5 L586.1,132.7 L586.6,131.8 L587.1,130.8 L587.5,129.6 L588,128.3 L588.5,126.7 L588.9,125 L589.4,123.1 L589.9,121 L590.3,118.7 L590.8,116.2 L591.2,113.5 L591.7,110.6 L592.2,107.6 L592.6,104.3 L593.1,101 L593.6,97.5 L594,93.9 L594.5,90.3 L595,86.7 L595.4,83.1 L595.9,79.6 L596.4,76.2 L596.8,73 L597.3,70.1 L597.8,67.3 L598.2,64.9 L598.7,62.9 L599.1,61.2 L599.6,59.9 L600.1,59 L600.5,58.6 L601,58.7 L601.5,59 L601.9,59.7 L602.4,60.7 L602.9,62 L603.3,63.5 L603.8,65.3 L604.3,67.4 L604.7,69.7 L605.2,72.2 L605.7,74.8 L606.1,77.6 L606.6,80.5 L607.1,83.5 L607.5,86.5 L608,89.6 L608.5,92.7 L608.9,95.7 L609.4,98.7 L609.8,101.6 L610.3,104.4 L610.8,107.2 L611.2,109.8 L611.7,112.3 L612.2,114.7 L612.6,116.9 L613.1,119 L613.6,120.9 L614,122.7 L614.5,124.4 L615,125.9 L615.4,127.3 L615.9,128.5 L616.4,129.7 L616.8,130.7 L617.3,131.6 L617.8,132.4 L618.2,133 L618.7,133.6 L619.1,134.1 L619.6,134.6 L620.1,134.9 L620.5,135.3 L621,135.5 L621.5,135.7 L621.9,135.9 L622.4,136.1 L622.9,136.2 L623.3,136.3 L623.8,136.4 L624.3,136.4 L624.7,136.4 L625.2,136.5 L625.7,136.5 L626.1,136.5 L626.6,136.5 L627,136.4 L627.5,136.4 L628,136.3 L628.4,136.2 L628.9,136.1 L629.4,136 L629.8,135.8 L630.3,135.7 L630.8,135.6 L631.2,135.5 L631.7,135.5 L632.2,135.6 L632.6,135.7 L633.1,135.9 L633.6,136 L634,136.1 L634.5,136.2 L635,136.3 L635.4,136.3 L635.9,136.3 L636.4,136.3 L636.8,136.3 L637.3,136.3 L637.7,136.3 L638.2,136.3 L638.7,136.2 L639.1,136.2 L639.6,136.1 L640.1,136 L640.5,136 L641,135.9 L641.5,135.9 L641.9,135.8 L642.4,135.8 L642.9,135.8 L643.3,135.8 L643.8,135.8 L644.3,135.9 L644.7,135.9 L645.2,136 L645.6,136.1 L646.1,136.1 L646.6,136.2 L647,136.4 L647.5,136.6 L648,136.8 L648.4,137.1 L648.9,137.4 L649.4,137.7 L649.8,138 L650.3,138.1 L650.8,138.2 L651.2,138.1 L651.7,137.9 L652.2,137.6 L652.6,137.3 L653.1,137 L653.6,136.8 L654,136.6 L654.5,136.5 L655,136.5 L655.4,136.4 L655.9,136.4 L656.3,136.4 L656.8,136.4 L657.3,136.4 L657.7,136.4 L658.2,136.4 L658.7,136.4 L659.1,136.4 L659.6,136.4" fill="none" stroke="#ff8000" stroke-width="2.1" stroke-linejoin="round" stroke-linecap="round"/>
<path d="M520.1,137 L520.6,137 L521,137 L521.5,137 L522,137 L522.4,137 L522.9,137 L523.4,137 L523.8,137 L524.3,137 L524.8,137 L525.2,137 L525.7,137 L526.1,137 L526.6,137 L527.1,137 L527.5,137 L528,137 L528.5,137 L528.9,137 L529.4,137 L529.9,137 L530.3,137 L530.8,137 L531.3,137 L531.7,137 L532.2,137 L532.7,137 L533.1,137 L533.6,137 L534,137 L534.5,137 L535,137 L535.4,137 L535.9,137 L536.4,137 L536.8,137 L537.3,137 L537.8,137 L538.2,137 L538.7,137 L539.2,137 L539.6,137 L540.1,137 L540.6,137 L541,137 L541.5,137 L542,137 L542.4,137 L542.9,137 L543.4,137 L543.8,137 L544.3,137 L544.7,137 L545.2,137 L545.7,137 L546.1,137 L546.6,137 L547.1,137 L547.5,137 L548,137 L548.5,137 L548.9,137 L549.4,137 L549.9,137 L550.3,137 L550.8,137 L551.3,137 L551.7,137 L552.2,137 L552.6,137 L553.1,137 L553.6,137 L554,137 L554.5,137 L555,137 L555.4,137 L555.9,137 L556.4,137 L556.8,137 L557.3,137 L557.8,137 L558.2,137 L558.7,137 L559.2,137 L559.6,137 L560.1,137 L560.6,137 L561,137 L561.5,137 L562,137 L562.4,137 L562.9,137 L563.3,137 L563.8,137 L564.3,137 L564.7,137 L565.2,137 L565.7,137 L566.1,137 L566.6,137 L567.1,137 L567.5,137 L568,137 L568.5,137 L568.9,137 L569.4,137 L569.9,137 L570.3,137 L570.8,137 L571.2,137 L571.7,137 L572.2,137 L572.6,137 L573.1,137 L573.6,137 L574,137 L574.5,137 L575,137 L575.4,137 L575.9,137 L576.4,137 L576.8,137 L577.3,136.9 L577.8,136.9 L578.2,136.9 L578.7,136.9 L579.2,136.8 L579.6,136.8 L580.1,136.7 L580.5,136.6 L581,136.5 L581.5,136.3 L581.9,136.2 L582.4,135.9 L582.9,135.7 L583.3,135.4 L583.8,135 L584.3,134.5 L584.7,134 L585.2,133.3 L585.7,132.5 L586.1,131.6 L586.6,130.6 L587.1,129.4 L587.5,128 L588,126.5 L588.5,124.7 L588.9,122.8 L589.4,120.6 L589.9,118.2 L590.3,115.5 L590.8,112.7 L591.2,109.6 L591.7,106.2 L592.2,102.7 L592.6,99 L593.1,95.1 L593.6,91.1 L594,87 L594.5,82.9 L595,78.7 L595.4,74.6 L595.9,70.6 L596.4,66.7 L596.8,63 L597.3,59.6 L597.8,56.4 L598.2,53.7 L598.7,51.3 L599.1,49.4 L599.6,47.9 L600.1,46.9 L600.5,46.4 L601,46.5 L601.5,46.9 L601.9,47.6 L602.4,48.8 L602.9,50.3 L603.3,52.1 L603.8,54.2 L604.3,56.5 L604.7,59.2 L605.2,62 L605.7,65.1 L606.1,68.3 L606.6,71.6 L607.1,75 L607.5,78.5 L608,82 L608.5,85.6 L608.9,89.1 L609.4,92.5 L609.8,95.9 L610.3,99.1 L610.8,102.3 L611.2,105.3 L611.7,108.1 L612.2,110.9 L612.6,113.4 L613.1,115.8 L613.6,118.1 L614,120.1 L614.5,122 L615,123.8 L615.4,125.4 L615.9,126.8 L616.4,128.1 L616.8,129.3 L617.3,130.3 L617.8,131.2 L618.2,132 L618.7,132.7 L619.1,133.3 L619.6,133.8 L620.1,134.2 L620.5,134.6 L621,134.9 L621.5,135.1 L621.9,135.4 L622.4,135.5 L622.9,135.7 L623.3,135.8 L623.8,135.9 L624.3,135.9 L624.7,136 L625.2,136 L625.7,136 L626.1,136 L626.6,136 L627,136 L627.5,136 L628,135.9 L628.4,135.8 L628.9,135.7 L629.4,135.5 L629.8,135.4 L630.3,135.3 L630.8,135.2 L631.2,135.1 L631.7,135.1 L632.2,135.2 L632.6,135.3 L633.1,135.5 L633.6,135.6 L634,135.7 L634.5,135.8 L635,135.9 L635.4,135.9 L635.9,135.9 L636.4,135.9 L636.8,135.9 L637.3,135.9 L637.7,135.9 L638.2,135.9 L638.7,135.8 L639.1,135.8 L639.6,135.7 L640.1,135.6 L640.5,135.6 L641,135.5 L641.5,135.5 L641.9,135.4 L642.4,135.4 L642.9,135.4 L643.3,135.4 L643.8,135.4 L644.3,135.5 L644.7,135.5 L645.2,135.6 L645.6,135.7 L646.1,135.7 L646.6,135.8 L647,136 L647.5,136.2 L648,136.4 L648.4,136.7 L648.9,137 L649.4,137.3 L649.8,137.6 L650.3,137.7 L650.8,137.8 L651.2,137.7 L651.7,137.5 L652.2,137.2 L652.6,136.9 L653.1,136.6 L653.6,136.4 L654,136.2 L654.5,136.1 L655,136.1 L655.4,136 L655.9,136 L656.3,136 L656.8,136 L657.3,136 L657.7,136 L658.2,136 L658.7,136 L659.1,136 L659.6,136" fill="none" stroke="#a8e03c" stroke-width="2.1" stroke-linejoin="round" stroke-linecap="round"/>
<path d="M520.1,136.6 L520.6,136.6 L521,136.6 L521.5,136.6 L522,136.6 L522.4,136.6 L522.9,136.6 L523.4,136.6 L523.8,136.6 L524.3,136.6 L524.8,136.6 L525.2,136.6 L525.7,136.6 L526.1,136.6 L526.6,136.6 L527.1,136.6 L527.5,136.6 L528,136.6 L528.5,136.6 L528.9,136.6 L529.4,136.6 L529.9,136.6 L530.3,136.6 L530.8,136.6 L531.3,136.6 L531.7,136.6 L532.2,136.6 L532.7,136.6 L533.1,136.6 L533.6,136.6 L534,136.6 L534.5,136.6 L535,136.6 L535.4,136.6 L535.9,136.6 L536.4,136.6 L536.8,136.6 L537.3,136.6 L537.8,136.6 L538.2,136.6 L538.7,136.6 L539.2,136.6 L539.6,136.6 L540.1,136.6 L540.6,136.6 L541,136.6 L541.5,136.6 L542,136.6 L542.4,136.6 L542.9,136.6 L543.4,136.6 L543.8,136.6 L544.3,136.6 L544.7,136.6 L545.2,136.6 L545.7,136.6 L546.1,136.6 L546.6,136.6 L547.1,136.6 L547.5,136.6 L548,136.6 L548.5,136.6 L548.9,136.6 L549.4,136.6 L549.9,136.6 L550.3,136.6 L550.8,136.6 L551.3,136.6 L551.7,136.6 L552.2,136.6 L552.6,136.6 L553.1,136.6 L553.6,136.6 L554,136.6 L554.5,136.6 L555,136.6 L555.4,136.6 L555.9,136.6 L556.4,136.6 L556.8,136.6 L557.3,136.6 L557.8,136.6 L558.2,136.6 L558.7,136.6 L559.2,136.6 L559.6,136.6 L560.1,136.6 L560.6,136.6 L561,136.6 L561.5,136.6 L562,136.6 L562.4,136.6 L562.9,136.6 L563.3,136.6 L563.8,136.6 L564.3,136.6 L564.7,136.6 L565.2,136.6 L565.7,136.6 L566.1,136.6 L566.6,136.6 L567.1,136.6 L567.5,136.6 L568,136.6 L568.5,136.6 L568.9,136.6 L569.4,136.6 L569.9,136.6 L570.3,136.6 L570.8,136.6 L571.2,136.6 L571.7,136.6 L572.2,136.6 L572.6,136.6 L573.1,136.6 L573.6,136.6 L574,136.6 L574.5,136.6 L575,136.6 L575.4,136.6 L575.9,136.6 L576.4,136.6 L576.8,136.5 L577.3,136.5 L577.8,136.5 L578.2,136.5 L578.7,136.4 L579.2,136.4 L579.6,136.3 L580.1,136.2 L580.5,136.1 L581,136 L581.5,135.8 L581.9,135.6 L582.4,135.4 L582.9,135 L583.3,134.7 L583.8,134.2 L584.3,133.7 L584.7,133 L585.2,132.3 L585.7,131.4 L586.1,130.3 L586.6,129.1 L587.1,127.7 L587.5,126.1 L588,124.2 L588.5,122.2 L588.9,119.8 L589.4,117.3 L589.9,114.4 L590.3,111.3 L590.8,107.9 L591.2,104.3 L591.7,100.4 L592.2,96.2 L592.6,91.8 L593.1,87.3 L593.6,82.6 L594,77.8 L594.5,72.9 L595,68 L595.4,63.1 L595.9,58.4 L596.4,53.8 L596.8,49.5 L597.3,45.4 L597.8,41.7 L598.2,38.5 L598.7,35.7 L599.1,33.4 L599.6,31.6 L600.1,30.5 L600.5,29.9 L601,30 L601.5,30.5 L601.9,31.4 L602.4,32.7 L602.9,34.4 L603.3,36.6 L603.8,39 L604.3,41.8 L604.7,44.9 L605.2,48.3 L605.7,51.9 L606.1,55.7 L606.6,59.6 L607.1,63.6 L607.5,67.7 L608,71.9 L608.5,76 L608.9,80.1 L609.4,84.2 L609.8,88.1 L610.3,92 L610.8,95.7 L611.2,99.2 L611.7,102.6 L612.2,105.8 L612.6,108.8 L613.1,111.7 L613.6,114.3 L614,116.7 L614.5,119 L615,121 L615.4,122.9 L615.9,124.6 L616.4,126.1 L616.8,127.5 L617.3,128.7 L617.8,129.8 L618.2,130.7 L618.7,131.5 L619.1,132.2 L619.6,132.8 L620.1,133.3 L620.5,133.8 L621,134.2 L621.5,134.5 L621.9,134.7 L622.4,135 L622.9,135.1 L623.3,135.3 L623.8,135.4 L624.3,135.5 L624.7,135.5 L625.2,135.6 L625.7,135.6 L626.1,135.6 L626.6,135.6 L627,135.6 L627.5,135.6 L628,135.5 L628.4,135.4 L628.9,135.3 L629.4,135.1 L629.8,135 L630.3,134.9 L630.8,134.8 L631.2,134.7 L631.7,134.7 L632.2,134.8 L632.6,134.9 L633.1,135.1 L633.6,135.2 L634,135.3 L634.5,135.4 L635,135.5 L635.4,135.5 L635.9,135.5 L636.4,135.5 L636.8,135.5 L637.3,135.5 L637.7,135.5 L638.2,135.4 L638.7,135.4 L639.1,135.4 L639.6,135.3 L640.1,135.2 L640.5,135.2 L641,135.1 L641.5,135.1 L641.9,135 L642.4,135 L642.9,135 L643.3,135 L643.8,135 L644.3,135.1 L644.7,135.1 L645.2,135.2 L645.6,135.3 L646.1,135.3 L646.6,135.4 L647,135.6 L647.5,135.8 L648,136 L648.4,136.3 L648.9,136.6 L649.4,136.9 L649.8,137.2 L650.3,137.3 L650.8,137.4 L651.2,137.3 L651.7,137.1 L652.2,136.8 L652.6,136.5 L653.1,136.2 L653.6,136 L654,135.8 L654.5,135.7 L655,135.7 L655.4,135.6 L655.9,135.6 L656.3,135.6 L656.8,135.6 L657.3,135.6 L657.7,135.6 L658.2,135.6 L658.7,135.6 L659.1,135.6 L659.6,135.6" fill="none" stroke="#ff7f0e" stroke-width="2.1" stroke-linejoin="round" stroke-linecap="round"/>
<path d="M520.1,135.6 L520.6,135.6 L521,135.6 L521.5,135.6 L522,135.6 L522.4,135.6 L522.9,135.6 L523.4,135.6 L523.8,135.6 L524.3,135.6 L524.8,135.6 L525.2,135.6 L525.7,135.6 L526.1,135.6 L526.6,135.6 L527.1,135.6 L527.5,135.6 L528,135.6 L528.5,135.6 L528.9,135.6 L529.4,135.6 L529.9,135.6 L530.3,135.6 L530.8,135.6 L531.3,135.6 L531.7,135.6 L532.2,135.6 L532.7,135.6 L533.1,135.6 L533.6,135.6 L534,135.6 L534.5,135.6 L535,135.6 L535.4,135.6 L535.9,135.6 L536.4,135.6 L536.8,135.6 L537.3,135.6 L537.8,135.6 L538.2,135.6 L538.7,135.6 L539.2,135.6 L539.6,135.6 L540.1,135.6 L540.6,135.6 L541,135.6 L541.5,135.6 L542,135.6 L542.4,135.6 L542.9,135.6 L543.4,135.6 L543.8,135.6 L544.3,135.6 L544.7,135.6 L545.2,135.6 L545.7,135.6 L546.1,135.6 L546.6,135.6 L547.1,135.6 L547.5,135.6 L548,135.6 L548.5,135.6 L548.9,135.6 L549.4,135.6 L549.9,135.6 L550.3,135.6 L550.8,135.6 L551.3,135.6 L551.7,135.6 L552.2,135.6 L552.6,135.6 L553.1,135.6 L553.6,135.6 L554,135.6 L554.5,135.6 L555,135.6 L555.4,135.6 L555.9,135.6 L556.4,135.6 L556.8,135.6 L557.3,135.6 L557.8,135.6 L558.2,135.6 L558.7,135.6 L559.2,135.6 L559.6,135.6 L560.1,135.6 L560.6,135.6 L561,135.6 L561.5,135.6 L562,135.6 L562.4,135.6 L562.9,135.6 L563.3,135.6 L563.8,135.6 L564.3,135.6 L564.7,135.6 L565.2,135.6 L565.7,135.6 L566.1,135.6 L566.6,135.6 L567.1,135.6 L567.5,135.6 L568,135.6 L568.5,135.6 L568.9,135.6 L569.4,135.6 L569.9,135.6 L570.3,135.6 L570.8,135.6 L571.2,135.6 L571.7,135.6 L572.2,135.6 L572.6,135.6 L573.1,135.6 L573.6,135.6 L574,135.6 L574.5,135.6 L575,135.6 L575.4,135.6 L575.9,135.6 L576.4,135.6 L576.8,135.5 L577.3,135.5 L577.8,135.5 L578.2,135.5 L578.7,135.4 L579.2,135.4 L579.6,135.3 L580.1,135.2 L580.5,135.1 L581,134.9 L581.5,134.7 L581.9,134.5 L582.4,134.2 L582.9,133.9 L583.3,133.5 L583.8,133 L584.3,132.4 L584.7,131.7 L585.2,130.8 L585.7,129.8 L586.1,128.7 L586.6,127.4 L587.1,125.8 L587.5,124 L588,122 L588.5,119.8 L588.9,117.2 L589.4,114.4 L589.9,111.3 L590.3,107.9 L590.8,104.2 L591.2,100.2 L591.7,95.9 L592.2,91.3 L592.6,86.5 L593.1,81.5 L593.6,76.4 L594,71.1 L594.5,65.7 L595,60.3 L595.4,55 L595.9,49.8 L596.4,44.8 L596.8,40 L597.3,35.6 L597.8,31.6 L598.2,28 L598.7,24.9 L599.1,22.4 L599.6,20.5 L600.1,19.3 L600.5,18.7 L601,18.7 L601.5,19.2 L601.9,20.2 L602.4,21.7 L602.9,23.6 L603.3,25.9 L603.8,28.6 L604.3,31.7 L604.7,35.1 L605.2,38.8 L605.7,42.7 L606.1,46.9 L606.6,51.2 L607.1,55.6 L607.5,60.1 L608,64.6 L608.5,69.2 L608.9,73.7 L609.4,78.1 L609.8,82.5 L610.3,86.7 L610.8,90.7 L611.2,94.6 L611.7,98.3 L612.2,101.9 L612.6,105.2 L613.1,108.3 L613.6,111.1 L614,113.8 L614.5,116.3 L615,118.5 L615.4,120.6 L615.9,122.4 L616.4,124.1 L616.8,125.6 L617.3,126.9 L617.8,128.1 L618.2,129.2 L618.7,130 L619.1,130.8 L619.6,131.5 L620.1,132 L620.5,132.5 L621,133 L621.5,133.3 L621.9,133.6 L622.4,133.8 L622.9,134 L623.3,134.2 L623.8,134.3 L624.3,134.4 L624.7,134.5 L625.2,134.5 L625.7,134.6 L626.1,134.6 L626.6,134.6 L627,134.5 L627.5,134.5 L628,134.3 L628.4,134.1 L628.9,133.8 L629.4,133.5 L629.8,133.2 L630.3,132.8 L630.8,132.5 L631.2,132.4 L631.7,132.4 L632.2,132.6 L632.6,132.9 L633.1,133.3 L633.6,133.6 L634,133.9 L634.5,134.2 L635,134.4 L635.4,134.5 L635.9,134.5 L636.4,134.5 L636.8,134.5 L637.3,134.5 L637.7,134.5 L638.2,134.4 L638.7,134.4 L639.1,134.4 L639.6,134.3 L640.1,134.2 L640.5,134.2 L641,134.1 L641.5,134.1 L641.9,134 L642.4,134 L642.9,134 L643.3,134 L643.8,134 L644.3,134.1 L644.7,134.1 L645.2,134.2 L645.6,134.3 L646.1,134.3 L646.6,134.4 L647,134.6 L647.5,134.8 L648,135 L648.4,135.3 L648.9,135.6 L649.4,135.9 L649.8,136.2 L650.3,136.3 L650.8,136.4 L651.2,136.3 L651.7,136.1 L652.2,135.8 L652.6,135.5 L653.1,135.2 L653.6,135 L654,134.8 L654.5,134.7 L655,134.7 L655.4,134.6 L655.9,134.6 L656.3,134.6 L656.8,134.6 L657.3,134.6 L657.7,134.6 L658.2,134.6 L658.7,134.6 L659.1,134.6 L659.6,134.6" fill="none" stroke="#3cf0b4" stroke-width="2.1" stroke-linejoin="round" stroke-linecap="round"/>
<rect x="506.4" y="9" width="168" height="138" fill="none" stroke="#111" stroke-width="1.2"/>
<line x1="520.1" y1="147" x2="520.1" y2="149.8" stroke="#111" stroke-width="1"/>
<text x="520.1" y="158.1" font-size="7.5" text-anchor="middle" >-0.2</text>
<line x1="548" y1="147" x2="548" y2="149.8" stroke="#111" stroke-width="1"/>
<text x="548" y="158.1" font-size="7.5" text-anchor="middle" >0.0</text>
<line x1="575.9" y1="147" x2="575.9" y2="149.8" stroke="#111" stroke-width="1"/>
<text x="575.9" y="158.1" font-size="7.5" text-anchor="middle" >0.2</text>
<line x1="603.8" y1="147" x2="603.8" y2="149.8" stroke="#111" stroke-width="1"/>
<text x="603.8" y="158.1" font-size="7.5" text-anchor="middle" >0.4</text>
<line x1="631.7" y1="147" x2="631.7" y2="149.8" stroke="#111" stroke-width="1"/>
<text x="631.7" y="158.1" font-size="7.5" text-anchor="middle" >0.6</text>
<line x1="659.6" y1="147" x2="659.6" y2="149.8" stroke="#111" stroke-width="1"/>
<text x="659.6" y="158.1" font-size="7.5" text-anchor="middle" >0.8</text>
<line x1="503.5" y1="24.4" x2="506.4" y2="24.4" stroke="#111" stroke-width="1"/>
<text x="502.2" y="27.4" font-size="7.2" text-anchor="end" >1.6×10<tspan font-size="5" dy="-3.2">-5</tspan></text>
<line x1="503.5" y1="53.3" x2="506.4" y2="53.3" stroke="#111" stroke-width="1"/>
<text x="502.2" y="56.3" font-size="7.2" text-anchor="end" >1.2×10<tspan font-size="5" dy="-3.2">-5</tspan></text>
<line x1="503.5" y1="82.1" x2="506.4" y2="82.1" stroke="#111" stroke-width="1"/>
<text x="502.2" y="85.1" font-size="7.2" text-anchor="end" >8.0×10<tspan font-size="5" dy="-3.2">-6</tspan></text>
<line x1="503.5" y1="111" x2="506.4" y2="111" stroke="#111" stroke-width="1"/>
<text x="502.2" y="114" font-size="7.2" text-anchor="end" >4.0×10<tspan font-size="5" dy="-3.2">-6</tspan></text>
<line x1="503.5" y1="139.8" x2="506.4" y2="139.8" stroke="#111" stroke-width="1"/>
<text x="502.2" y="142.8" font-size="7.2" text-anchor="end" >0.0</text>
<text transform="translate(466.8,85.4) rotate(-90)" font-size="11.3" text-anchor="middle">Current, I (A)</text>
<text x="602.3" y="173.6" font-size="11.3" text-anchor="middle" >Potential, E (V)</text>
<rect x="466.4" y="162" width="14.2" height="11.6" fill="#ffff00"/>
<text x="473.9" y="170.8" font-size="12.6" text-anchor="middle" >(c)</text>
<line x1="601.2" y1="18.6" x2="624.5" y2="19" stroke="#555" stroke-width="0.6"/>
<path d="M624.5,19 L621.3,20.2 L621.3,17.6 Z" fill="#222"/>
<text x="628.6" y="20.8" font-size="7.5">1<tspan font-style="normal">μ</tspan>M PA</text>
<line x1="606" y1="112.4" x2="622" y2="101" stroke="#555" stroke-width="0.6"/>
<path d="M622,101 L620.1,103.9 L618.6,101.8 Z" fill="#222"/>
<text x="625.2" y="102.3" font-size="7.5">0.1<tspan font-style="normal">μ</tspan>M PA</text>
<defs><radialGradient id="rb" cx="0.38" cy="0.32" r="0.7"><stop offset="0" stop-color="#fff"/><stop offset="0.18" stop-color="#ff8080"/><stop offset="0.45" stop-color="#ff0000"/><stop offset="1" stop-color="#d00000"/></radialGradient><radialGradient id="gb" cx="0.4" cy="0.35" r="0.7"><stop offset="0" stop-color="#bfe8bf"/><stop offset="0.4" stop-color="#2a9a2a"/><stop offset="1" stop-color="#137013"/></radialGradient><radialGradient id="bb" cx="0.4" cy="0.35" r="0.7"><stop offset="0" stop-color="#c0c0ff"/><stop offset="0.4" stop-color="#2020ff"/><stop offset="1" stop-color="#0000c0"/></radialGradient></defs>
<line x1="64.9" y1="326.6" x2="64.9" y2="329.6" stroke="#1a8c1a" stroke-width="1.6"/>
<line x1="62.9" y1="326.6" x2="66.9" y2="326.6" stroke="#1a8c1a" stroke-width="1"/>
<line x1="62.9" y1="329.6" x2="66.9" y2="329.6" stroke="#1a8c1a" stroke-width="1"/>
<circle cx="64.9" cy="328.1" r="2.1" fill="url(#gb)"/>
<line x1="81" y1="319.7" x2="81" y2="323" stroke="#1a8c1a" stroke-width="1.6"/>
<line x1="79" y1="319.7" x2="83" y2="319.7" stroke="#1a8c1a" stroke-width="1"/>
<line x1="79" y1="323" x2="83" y2="323" stroke="#1a8c1a" stroke-width="1"/>
<circle cx="81" cy="321.4" r="2.1" fill="url(#gb)"/>
<line x1="97.1" y1="309.2" x2="97.1" y2="313.4" stroke="#1a8c1a" stroke-width="1.6"/>
<line x1="95.1" y1="309.2" x2="99.1" y2="309.2" stroke="#1a8c1a" stroke-width="1"/>
<line x1="95.1" y1="313.4" x2="99.1" y2="313.4" stroke="#1a8c1a" stroke-width="1"/>
<circle cx="97.1" cy="311.3" r="2.1" fill="url(#gb)"/>
<line x1="113.2" y1="302" x2="113.2" y2="307.1" stroke="#1a8c1a" stroke-width="1.6"/>
<line x1="111.2" y1="302" x2="115.2" y2="302" stroke="#1a8c1a" stroke-width="1"/>
<line x1="111.2" y1="307.1" x2="115.2" y2="307.1" stroke="#1a8c1a" stroke-width="1"/>
<circle cx="113.2" cy="304.6" r="2.1" fill="url(#gb)"/>
<line x1="129.3" y1="290.4" x2="129.3" y2="296.8" stroke="#1a8c1a" stroke-width="1.6"/>
<line x1="127.3" y1="290.4" x2="131.3" y2="290.4" stroke="#1a8c1a" stroke-width="1"/>
<line x1="127.3" y1="296.8" x2="131.3" y2="296.8" stroke="#1a8c1a" stroke-width="1"/>
<circle cx="129.3" cy="293.6" r="2.1" fill="url(#gb)"/>
<line x1="145.4" y1="274.3" x2="145.4" y2="282.7" stroke="#1a8c1a" stroke-width="1.6"/>
<line x1="143.4" y1="274.3" x2="147.4" y2="274.3" stroke="#1a8c1a" stroke-width="1"/>
<line x1="143.4" y1="282.7" x2="147.4" y2="282.7" stroke="#1a8c1a" stroke-width="1"/>
<circle cx="145.4" cy="278.5" r="2.1" fill="url(#gb)"/>
<line x1="161.5" y1="260.5" x2="161.5" y2="269.7" stroke="#1a8c1a" stroke-width="1.6"/>
<line x1="159.5" y1="260.5" x2="163.5" y2="260.5" stroke="#1a8c1a" stroke-width="1"/>
<line x1="159.5" y1="269.7" x2="163.5" y2="269.7" stroke="#1a8c1a" stroke-width="1"/>
<circle cx="161.5" cy="265.1" r="2.1" fill="url(#gb)"/>
<line x1="177.6" y1="243.7" x2="177.6" y2="254.6" stroke="#1a8c1a" stroke-width="1.6"/>
<line x1="175.6" y1="243.7" x2="179.6" y2="243.7" stroke="#1a8c1a" stroke-width="1"/>
<line x1="175.6" y1="254.6" x2="179.6" y2="254.6" stroke="#1a8c1a" stroke-width="1"/>
<circle cx="177.6" cy="249.1" r="2.1" fill="url(#gb)"/>
<line x1="193.7" y1="224.3" x2="193.7" y2="236.9" stroke="#1a8c1a" stroke-width="1.6"/>
<line x1="191.7" y1="224.3" x2="195.7" y2="224.3" stroke="#1a8c1a" stroke-width="1"/>
<line x1="191.7" y1="236.9" x2="195.7" y2="236.9" stroke="#1a8c1a" stroke-width="1"/>
<circle cx="193.7" cy="230.6" r="2.1" fill="url(#gb)"/>
<line x1="209.8" y1="202.6" x2="209.8" y2="217.4" stroke="#1a8c1a" stroke-width="1.6"/>
<line x1="207.8" y1="202.6" x2="211.8" y2="202.6" stroke="#1a8c1a" stroke-width="1"/>
<line x1="207.8" y1="217.4" x2="211.8" y2="217.4" stroke="#1a8c1a" stroke-width="1"/>
<circle cx="209.8" cy="210" r="2.1" fill="url(#gb)"/>
<rect x="48.6" y="196.4" width="177.8" height="143" fill="none" stroke="#111" stroke-width="1.2"/>
<line x1="48.8" y1="339.4" x2="48.8" y2="342.2" stroke="#111" stroke-width="1"/>
<text x="48.8" y="349.8" font-size="7.5" text-anchor="middle" >0.0</text>
<line x1="81" y1="339.4" x2="81" y2="342.2" stroke="#111" stroke-width="1"/>
<text x="81" y="349.8" font-size="7.5" text-anchor="middle" >0.2</text>
<line x1="113.2" y1="339.4" x2="113.2" y2="342.2" stroke="#111" stroke-width="1"/>
<text x="113.2" y="349.8" font-size="7.5" text-anchor="middle" >0.4</text>
<line x1="145.4" y1="339.4" x2="145.4" y2="342.2" stroke="#111" stroke-width="1"/>
<text x="145.4" y="349.8" font-size="7.5" text-anchor="middle" >0.6</text>
<line x1="177.6" y1="339.4" x2="177.6" y2="342.2" stroke="#111" stroke-width="1"/>
<text x="177.6" y="349.8" font-size="7.5" text-anchor="middle" >0.8</text>
<line x1="209.8" y1="339.4" x2="209.8" y2="342.2" stroke="#111" stroke-width="1"/>
<text x="209.8" y="349.8" font-size="7.5" text-anchor="middle" >1.0</text>
<line x1="45.7" y1="339" x2="48.6" y2="339" stroke="#111" stroke-width="1"/>
<text x="45" y="342" font-size="7.2" text-anchor="end" >2</text>
<line x1="45.7" y1="322.2" x2="48.6" y2="322.2" stroke="#111" stroke-width="1"/>
<text x="45" y="325.2" font-size="7.2" text-anchor="end" >4</text>
<line x1="45.7" y1="305.4" x2="48.6" y2="305.4" stroke="#111" stroke-width="1"/>
<text x="45" y="308.4" font-size="7.2" text-anchor="end" >6</text>
<line x1="45.7" y1="288.6" x2="48.6" y2="288.6" stroke="#111" stroke-width="1"/>
<text x="45" y="291.6" font-size="7.2" text-anchor="end" >8</text>
<line x1="45.7" y1="271.8" x2="48.6" y2="271.8" stroke="#111" stroke-width="1"/>
<text x="45" y="274.8" font-size="7.2" text-anchor="end" >10</text>
<line x1="45.7" y1="255" x2="48.6" y2="255" stroke="#111" stroke-width="1"/>
<text x="45" y="258" font-size="7.2" text-anchor="end" >12</text>
<line x1="45.7" y1="238.2" x2="48.6" y2="238.2" stroke="#111" stroke-width="1"/>
<text x="45" y="241.2" font-size="7.2" text-anchor="end" >14</text>
<line x1="45.7" y1="221.4" x2="48.6" y2="221.4" stroke="#111" stroke-width="1"/>
<text x="45" y="224.4" font-size="7.2" text-anchor="end" >16</text>
<line x1="45.7" y1="204.6" x2="48.6" y2="204.6" stroke="#111" stroke-width="1"/>
<text x="45" y="207.6" font-size="7.2" text-anchor="end" >18</text>
<text transform="translate(28,264.8) rotate(-90)" font-size="12.1" text-anchor="middle">Current, I (μA)</text>
<text x="136.2" y="366.2" font-size="12.5" text-anchor="middle">PA in <tspan font-style="normal">μ</tspan>M</text>
<rect x="13.6" y="344" width="14.8" height="13.6" fill="#ffff00"/>
<text x="21.4" y="354.8" font-size="12.6" text-anchor="middle" >(d)</text>
<line x1="287.3" y1="314.2" x2="287.3" y2="318.8" stroke="#ff1010" stroke-width="1.5"/>
<line x1="285.3" y1="314.2" x2="289.3" y2="314.2" stroke="#ff1010" stroke-width="1"/>
<line x1="285.3" y1="318.8" x2="289.3" y2="318.8" stroke="#ff1010" stroke-width="1"/>
<circle cx="287.3" cy="316.5" r="3.6" fill="url(#rb)"/>
<line x1="303.5" y1="296" x2="303.5" y2="304.4" stroke="#ff1010" stroke-width="1.5"/>
<line x1="301.5" y1="296" x2="305.5" y2="296" stroke="#ff1010" stroke-width="1"/>
<line x1="301.5" y1="304.4" x2="305.5" y2="304.4" stroke="#ff1010" stroke-width="1"/>
<circle cx="303.5" cy="300.2" r="3.6" fill="url(#rb)"/>
<line x1="319.7" y1="281.1" x2="319.7" y2="291.3" stroke="#ff1010" stroke-width="1.5"/>
<line x1="317.7" y1="281.1" x2="321.7" y2="281.1" stroke="#ff1010" stroke-width="1"/>
<line x1="317.7" y1="291.3" x2="321.7" y2="291.3" stroke="#ff1010" stroke-width="1"/>
<circle cx="319.7" cy="286.2" r="3.6" fill="url(#rb)"/>
<line x1="335.9" y1="266.4" x2="335.9" y2="278" stroke="#ff1010" stroke-width="1.5"/>
<line x1="333.9" y1="266.4" x2="337.9" y2="266.4" stroke="#ff1010" stroke-width="1"/>
<line x1="333.9" y1="278" x2="337.9" y2="278" stroke="#ff1010" stroke-width="1"/>
<circle cx="335.9" cy="272.2" r="3.6" fill="url(#rb)"/>
<line x1="352.2" y1="256.3" x2="352.2" y2="269.4" stroke="#ff1010" stroke-width="1.5"/>
<line x1="350.2" y1="256.3" x2="354.2" y2="256.3" stroke="#ff1010" stroke-width="1"/>
<line x1="350.2" y1="269.4" x2="354.2" y2="269.4" stroke="#ff1010" stroke-width="1"/>
<circle cx="352.2" cy="262.9" r="3.6" fill="url(#rb)"/>
<line x1="368.4" y1="246.5" x2="368.4" y2="260.5" stroke="#ff1010" stroke-width="1.5"/>
<line x1="366.4" y1="246.5" x2="370.4" y2="246.5" stroke="#ff1010" stroke-width="1"/>
<line x1="366.4" y1="260.5" x2="370.4" y2="260.5" stroke="#ff1010" stroke-width="1"/>
<circle cx="368.4" cy="253.5" r="3.6" fill="url(#rb)"/>
<line x1="384.6" y1="235.1" x2="384.6" y2="250" stroke="#ff1010" stroke-width="1.5"/>
<line x1="382.6" y1="235.1" x2="386.6" y2="235.1" stroke="#ff1010" stroke-width="1"/>
<line x1="382.6" y1="250" x2="386.6" y2="250" stroke="#ff1010" stroke-width="1"/>
<circle cx="384.6" cy="242.6" r="3.6" fill="url(#rb)"/>
<line x1="400.8" y1="224.4" x2="400.8" y2="240.2" stroke="#ff1010" stroke-width="1.5"/>
<line x1="398.8" y1="224.4" x2="402.8" y2="224.4" stroke="#ff1010" stroke-width="1"/>
<line x1="398.8" y1="240.2" x2="402.8" y2="240.2" stroke="#ff1010" stroke-width="1"/>
<circle cx="400.8" cy="232.3" r="3.6" fill="url(#rb)"/>
<line x1="417" y1="211.3" x2="417" y2="228.6" stroke="#ff1010" stroke-width="1.5"/>
<line x1="415" y1="211.3" x2="419" y2="211.3" stroke="#ff1010" stroke-width="1"/>
<line x1="415" y1="228.6" x2="419" y2="228.6" stroke="#ff1010" stroke-width="1"/>
<circle cx="417" cy="220" r="3.6" fill="url(#rb)"/>
<line x1="433.2" y1="198" x2="433.2" y2="216.2" stroke="#ff1010" stroke-width="1.5"/>
<line x1="431.2" y1="198" x2="435.2" y2="198" stroke="#ff1010" stroke-width="1"/>
<line x1="431.2" y1="216.2" x2="435.2" y2="216.2" stroke="#ff1010" stroke-width="1"/>
<circle cx="433.2" cy="207.1" r="3.6" fill="url(#rb)"/>
<rect x="271.6" y="192" width="177.8" height="140.4" fill="none" stroke="#111" stroke-width="1.2"/>
<line x1="271.1" y1="332.4" x2="271.1" y2="335.2" stroke="#111" stroke-width="1"/>
<text x="271.1" y="342.6" font-size="7.5" text-anchor="middle" >0.0</text>
<line x1="303.5" y1="332.4" x2="303.5" y2="335.2" stroke="#111" stroke-width="1"/>
<text x="303.5" y="342.6" font-size="7.5" text-anchor="middle" >0.2</text>
<line x1="335.9" y1="332.4" x2="335.9" y2="335.2" stroke="#111" stroke-width="1"/>
<text x="335.9" y="342.6" font-size="7.5" text-anchor="middle" >0.4</text>
<line x1="368.4" y1="332.4" x2="368.4" y2="335.2" stroke="#111" stroke-width="1"/>
<text x="368.4" y="342.6" font-size="7.5" text-anchor="middle" >0.6</text>
<line x1="400.8" y1="332.4" x2="400.8" y2="335.2" stroke="#111" stroke-width="1"/>
<text x="400.8" y="342.6" font-size="7.5" text-anchor="middle" >0.8</text>
<line x1="433.2" y1="332.4" x2="433.2" y2="335.2" stroke="#111" stroke-width="1"/>
<text x="433.2" y="342.6" font-size="7.5" text-anchor="middle" >1.0</text>
<line x1="268.7" y1="320" x2="271.6" y2="320" stroke="#111" stroke-width="1"/>
<text x="267" y="322.5" font-size="6.3" text-anchor="end" >3</text>
<line x1="268.7" y1="296.7" x2="271.6" y2="296.7" stroke="#111" stroke-width="1"/>
<text x="267" y="299.2" font-size="6.3" text-anchor="end" >4</text>
<line x1="268.7" y1="273.4" x2="271.6" y2="273.4" stroke="#111" stroke-width="1"/>
<text x="267" y="275.9" font-size="6.3" text-anchor="end" >5</text>
<line x1="268.7" y1="250" x2="271.6" y2="250" stroke="#111" stroke-width="1"/>
<text x="267" y="252.5" font-size="6.3" text-anchor="end" >6</text>
<line x1="268.7" y1="226.7" x2="271.6" y2="226.7" stroke="#111" stroke-width="1"/>
<text x="267" y="229.2" font-size="6.3" text-anchor="end" >7</text>
<line x1="268.7" y1="203.4" x2="271.6" y2="203.4" stroke="#111" stroke-width="1"/>
<text x="267" y="205.9" font-size="6.3" text-anchor="end" >8</text>
<text transform="translate(252.2,267) rotate(-90)" font-size="11.4" text-anchor="middle">Current, I (μA)</text>
<text x="358.3" y="359.1" font-size="12.5" text-anchor="middle">PA in <tspan font-style="normal">μ</tspan>M</text>
<rect x="241" y="344" width="14.4" height="13.6" fill="#ffff00"/>
<text x="248.6" y="354.8" font-size="12.6" text-anchor="middle" >(e)</text>
<line x1="509.4" y1="322.4" x2="509.4" y2="325.7" stroke="#1a1aff" stroke-width="1.5"/>
<line x1="507.4" y1="322.4" x2="511.4" y2="322.4" stroke="#1a1aff" stroke-width="1"/>
<line x1="507.4" y1="325.7" x2="511.4" y2="325.7" stroke="#1a1aff" stroke-width="1"/>
<circle cx="509.4" cy="324" r="1.7" fill="url(#bb)"/>
<line x1="526.6" y1="314.8" x2="526.6" y2="319.8" stroke="#1a1aff" stroke-width="1.5"/>
<line x1="524.6" y1="314.8" x2="528.6" y2="314.8" stroke="#1a1aff" stroke-width="1"/>
<line x1="524.6" y1="319.8" x2="528.6" y2="319.8" stroke="#1a1aff" stroke-width="1"/>
<circle cx="526.6" cy="317.3" r="1.7" fill="url(#bb)"/>
<line x1="543.9" y1="297.9" x2="543.9" y2="304.7" stroke="#1a1aff" stroke-width="1.5"/>
<line x1="541.9" y1="297.9" x2="545.9" y2="297.9" stroke="#1a1aff" stroke-width="1"/>
<line x1="541.9" y1="304.7" x2="545.9" y2="304.7" stroke="#1a1aff" stroke-width="1"/>
<circle cx="543.9" cy="301.3" r="1.7" fill="url(#bb)"/>
<line x1="561.1" y1="289.1" x2="561.1" y2="296.6" stroke="#1a1aff" stroke-width="1.5"/>
<line x1="559.1" y1="289.1" x2="563.1" y2="289.1" stroke="#1a1aff" stroke-width="1"/>
<line x1="559.1" y1="296.6" x2="563.1" y2="296.6" stroke="#1a1aff" stroke-width="1"/>
<circle cx="561.1" cy="292.9" r="1.7" fill="url(#bb)"/>
<line x1="578.4" y1="276.8" x2="578.4" y2="285.3" stroke="#1a1aff" stroke-width="1.5"/>
<line x1="576.4" y1="276.8" x2="580.4" y2="276.8" stroke="#1a1aff" stroke-width="1"/>
<line x1="576.4" y1="285.3" x2="580.4" y2="285.3" stroke="#1a1aff" stroke-width="1"/>
<circle cx="578.4" cy="281" r="1.7" fill="url(#bb)"/>
<line x1="595.6" y1="262.5" x2="595.6" y2="272.6" stroke="#1a1aff" stroke-width="1.5"/>
<line x1="593.6" y1="262.5" x2="597.6" y2="262.5" stroke="#1a1aff" stroke-width="1"/>
<line x1="593.6" y1="272.6" x2="597.6" y2="272.6" stroke="#1a1aff" stroke-width="1"/>
<circle cx="595.6" cy="267.6" r="1.7" fill="url(#bb)"/>
<line x1="612.9" y1="253.7" x2="612.9" y2="264.6" stroke="#1a1aff" stroke-width="1.5"/>
<line x1="610.9" y1="253.7" x2="614.9" y2="253.7" stroke="#1a1aff" stroke-width="1"/>
<line x1="610.9" y1="264.6" x2="614.9" y2="264.6" stroke="#1a1aff" stroke-width="1"/>
<circle cx="612.9" cy="259.1" r="1.7" fill="url(#bb)"/>
<line x1="630.1" y1="237" x2="630.1" y2="248.8" stroke="#1a1aff" stroke-width="1.5"/>
<line x1="628.1" y1="237" x2="632.1" y2="237" stroke="#1a1aff" stroke-width="1"/>
<line x1="628.1" y1="248.8" x2="632.1" y2="248.8" stroke="#1a1aff" stroke-width="1"/>
<circle cx="630.1" cy="242.9" r="1.7" fill="url(#bb)"/>
<line x1="647.4" y1="219.2" x2="647.4" y2="232.7" stroke="#1a1aff" stroke-width="1.5"/>
<line x1="645.4" y1="219.2" x2="649.4" y2="219.2" stroke="#1a1aff" stroke-width="1"/>
<line x1="645.4" y1="232.7" x2="649.4" y2="232.7" stroke="#1a1aff" stroke-width="1"/>
<circle cx="647.4" cy="225.9" r="1.7" fill="url(#bb)"/>
<line x1="664.6" y1="202.1" x2="664.6" y2="216.7" stroke="#1a1aff" stroke-width="1.5"/>
<line x1="662.6" y1="202.1" x2="666.6" y2="202.1" stroke="#1a1aff" stroke-width="1"/>
<line x1="662.6" y1="216.7" x2="666.6" y2="216.7" stroke="#1a1aff" stroke-width="1"/>
<circle cx="664.6" cy="209.4" r="1.7" fill="url(#bb)"/>
<rect x="500.9" y="192.4" width="171.9" height="142.9" fill="none" stroke="#111" stroke-width="1.2"/>
<line x1="509.4" y1="335.3" x2="509.4" y2="338.1" stroke="#111" stroke-width="1"/>
<text x="509.4" y="347.1" font-size="8.4" text-anchor="middle" >0.1</text>
<line x1="526.6" y1="335.3" x2="526.6" y2="338.1" stroke="#111" stroke-width="1"/>
<text x="526.6" y="347.1" font-size="8.4" text-anchor="middle" >0.2</text>
<line x1="543.9" y1="335.3" x2="543.9" y2="338.1" stroke="#111" stroke-width="1"/>
<text x="543.9" y="347.1" font-size="8.4" text-anchor="middle" >0.3</text>
<line x1="561.1" y1="335.3" x2="561.1" y2="338.1" stroke="#111" stroke-width="1"/>
<text x="561.1" y="347.1" font-size="8.4" text-anchor="middle" >0.4</text>
<line x1="578.4" y1="335.3" x2="578.4" y2="338.1" stroke="#111" stroke-width="1"/>
<text x="578.4" y="347.1" font-size="8.4" text-anchor="middle" >0.5</text>
<line x1="595.6" y1="335.3" x2="595.6" y2="338.1" stroke="#111" stroke-width="1"/>
<text x="595.6" y="347.1" font-size="8.4" text-anchor="middle" >0.6</text>
<line x1="612.9" y1="335.3" x2="612.9" y2="338.1" stroke="#111" stroke-width="1"/>
<text x="612.9" y="347.1" font-size="8.4" text-anchor="middle" >0.7</text>
<line x1="630.1" y1="335.3" x2="630.1" y2="338.1" stroke="#111" stroke-width="1"/>
<text x="630.1" y="347.1" font-size="8.4" text-anchor="middle" >0.8</text>
<line x1="647.4" y1="335.3" x2="647.4" y2="338.1" stroke="#111" stroke-width="1"/>
<text x="647.4" y="347.1" font-size="8.4" text-anchor="middle" >0.9</text>
<line x1="664.6" y1="335.3" x2="664.6" y2="338.1" stroke="#111" stroke-width="1"/>
<text x="664.6" y="347.1" font-size="8.4" text-anchor="middle" >1.0</text>
<line x1="498" y1="335" x2="500.9" y2="335" stroke="#111" stroke-width="1"/>
<text x="496.8" y="337.6" font-size="6.8" text-anchor="end" >2</text>
<line x1="498" y1="318.1" x2="500.9" y2="318.1" stroke="#111" stroke-width="1"/>
<text x="496.8" y="320.7" font-size="6.8" text-anchor="end" >4</text>
<line x1="498" y1="301.3" x2="500.9" y2="301.3" stroke="#111" stroke-width="1"/>
<text x="496.8" y="303.9" font-size="6.8" text-anchor="end" >6</text>
<line x1="498" y1="284.4" x2="500.9" y2="284.4" stroke="#111" stroke-width="1"/>
<text x="496.8" y="287" font-size="6.8" text-anchor="end" >8</text>
<line x1="498" y1="267.6" x2="500.9" y2="267.6" stroke="#111" stroke-width="1"/>
<text x="496.8" y="270.2" font-size="6.8" text-anchor="end" >10</text>
<line x1="498" y1="250.7" x2="500.9" y2="250.7" stroke="#111" stroke-width="1"/>
<text x="496.8" y="253.3" font-size="6.8" text-anchor="end" >12</text>
<line x1="498" y1="233.8" x2="500.9" y2="233.8" stroke="#111" stroke-width="1"/>
<text x="496.8" y="236.4" font-size="6.8" text-anchor="end" >14</text>
<line x1="498" y1="217" x2="500.9" y2="217" stroke="#111" stroke-width="1"/>
<text x="496.8" y="219.6" font-size="6.8" text-anchor="end" >16</text>
<line x1="498" y1="200.1" x2="500.9" y2="200.1" stroke="#111" stroke-width="1"/>
<text x="496.8" y="202.7" font-size="6.8" text-anchor="end" >18</text>
<text transform="translate(478.1,269.3) rotate(-90)" font-size="11.8" text-anchor="middle">Current, I (μA)</text>
<text x="589.7" y="363.7" font-size="12.2" text-anchor="middle">PA in <tspan font-style="normal">μ</tspan>M</text>
<rect x="466.4" y="344" width="13" height="13.6" fill="#ffff00"/>
<text x="473.3" y="354.8" font-size="12.6" text-anchor="middle" >(f)</text>
</svg>
</body></html>
